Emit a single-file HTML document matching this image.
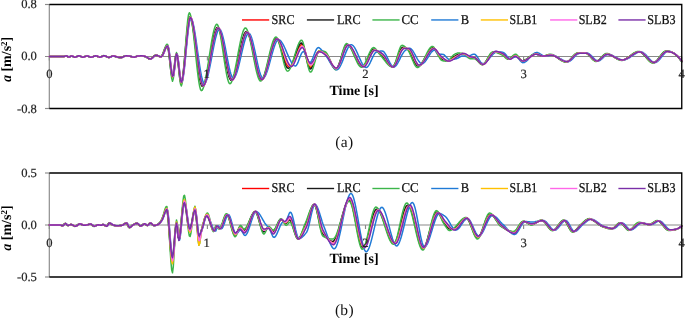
<!DOCTYPE html>
<html><head><meta charset="utf-8"><title>Acceleration time histories</title>
<style>
html,body{margin:0;padding:0;background:#fff;}
body{width:685px;height:318px;overflow:hidden;}
svg{display:block;font-family:"Liberation Serif",serif;text-rendering:geometricPrecision;}
.tick text{font-size:12.6px;fill:#222;stroke:#222;stroke-width:0.2px;}
.leg text{font-size:13.5px;fill:#111;stroke:#111;stroke-width:0.25px;}
.ttl{font-size:14px;font-weight:bold;fill:#000;}
.cap{font-size:15.5px;fill:#111;letter-spacing:0.3px;}
</style></head><body>
<svg width="685" height="318" viewBox="0 0 685 318">
<rect width="685" height="318" fill="#fff"/>
<g stroke="#8a8a8a" stroke-width="1.15" fill="none">
<line x1="49.3" y1="4.5" x2="49.3" y2="108.5"/>
<line x1="45" y1="56.5" x2="681.75" y2="56.5"/>
<line x1="45" y1="4.5" x2="49.3" y2="4.5"/>
<line x1="45" y1="108.5" x2="49.3" y2="108.5"/>
<line x1="49.3" y1="56.5" x2="49.3" y2="60.5"/>
<line x1="207.4" y1="56.5" x2="207.4" y2="60.5"/>
<line x1="365.5" y1="56.5" x2="365.5" y2="60.5"/>
<line x1="523.6" y1="56.5" x2="523.6" y2="60.5"/>
<line x1="681.7" y1="56.5" x2="681.7" y2="60.5"/>
</g>
<g fill="none" stroke-width="1.5" stroke-linejoin="round" stroke-linecap="round">
<polyline points="49.3,56.5 50.1,56.5 50.9,56.5 51.7,56.5 52.5,56.5 53.3,56.5 54.1,56.5 54.9,56.5 55.7,56.5 56.5,56.5 57.3,56.5 58.1,56.5 58.9,56.5 59.7,56.5 60.5,56.5 61.3,56.5 62.1,56.5 62.9,56.5 63.7,56.5 64.5,56.4 65.3,56.2 66.1,55.9 66.9,55.9 67.7,56.3 68.5,56.9 69.3,57.1 70.1,56.8 70.9,56.2 71.7,56.0 72.5,56.1 73.3,56.5 74.1,56.9 74.9,57.2 75.7,57.1 76.5,56.8 77.3,56.4 78.1,56.1 78.9,55.8 79.7,55.9 80.5,56.2 81.3,56.6 82.1,56.9 82.9,57.2 83.7,57.1 84.5,56.9 85.3,56.5 86.1,56.1 86.9,55.9 87.7,56.0 88.5,56.2 89.3,56.6 90.1,57.0 90.9,57.2 91.7,57.1 92.5,56.9 93.3,56.7 94.1,56.3 94.9,56.0 95.7,55.8 96.5,55.8 97.3,56.1 98.1,56.5 98.9,56.9 99.7,57.1 100.5,57.1 101.3,56.9 102.1,56.5 102.9,56.1 103.7,55.8 104.5,55.7 105.3,55.9 106.1,56.3 106.9,56.7 107.7,57.0 108.5,57.3 109.3,57.4 110.1,57.2 110.9,56.8 111.7,56.4 112.5,56.1 113.3,56.0 114.1,56.1 114.9,56.3 115.7,56.5 116.5,56.8 117.3,57.0 118.1,57.2 118.9,57.3 119.7,57.5 120.5,57.6 121.3,57.6 122.1,57.4 122.9,57.1 123.7,56.7 124.5,56.3 125.3,56.0 126.1,55.8 126.9,55.8 127.7,55.9 128.5,56.0 129.3,56.1 130.1,56.2 130.9,56.4 131.7,56.6 132.5,56.9 133.3,57.1 134.1,57.2 134.9,57.1 135.7,56.8 136.5,56.5 137.3,56.2 138.1,56.0 138.9,55.9 139.7,55.9 140.5,55.8 141.3,55.8 142.1,55.8 142.9,55.9 143.7,56.0 144.5,56.2 145.3,56.5 146.1,56.8 146.9,57.2 147.7,57.7 148.5,58.2 149.3,58.7 150.1,59.0 150.9,58.9 151.7,58.5 152.5,57.9 153.3,57.1 154.1,56.3 154.9,55.7 155.7,55.3 156.5,55.2 157.3,55.4 158.1,55.7 158.9,56.1 159.7,56.5 160.5,56.7 161.3,56.7 162.1,56.1 162.9,54.8 163.7,53.1 164.5,51.1 165.3,49.2 166.1,47.5 166.9,46.3 167.7,46.0 168.5,48.1 169.3,53.0 170.1,59.5 170.9,66.3 171.7,72.2 172.5,75.9 173.3,76.0 174.1,71.8 174.9,65.1 175.7,58.4 176.5,54.4 177.3,54.9 178.1,59.3 178.9,66.0 179.7,73.1 180.5,79.0 181.3,82.0 182.1,81.4 182.9,78.0 183.7,72.4 184.5,65.3 185.3,57.1 186.1,48.5 186.9,39.9 187.7,32.0 188.5,25.4 189.3,20.5 190.1,17.8 190.9,17.6 191.7,19.1 192.5,22.0 193.3,26.0 194.1,30.9 194.9,36.5 195.7,42.6 196.5,48.9 197.3,55.4 198.1,61.7 198.9,67.7 199.7,73.2 200.5,77.9 201.3,81.7 202.1,84.3 202.9,85.7 203.7,85.7 204.5,84.7 205.3,82.9 206.1,80.4 206.9,77.3 207.7,73.6 208.5,69.6 209.3,65.3 210.1,60.8 210.9,56.1 211.7,51.6 212.5,47.1 213.3,42.9 214.1,38.9 214.9,35.5 215.7,32.5 216.5,30.2 217.3,28.6 218.1,27.9 218.9,28.2 219.7,29.3 220.5,31.4 221.3,34.1 222.1,37.5 222.9,41.3 223.7,45.5 224.5,49.9 225.3,54.4 226.1,58.9 226.9,63.3 227.7,67.4 228.5,71.1 229.3,74.3 230.1,76.9 230.9,78.7 231.7,79.8 232.5,79.9 233.3,79.3 234.1,77.9 234.9,75.9 235.7,73.4 236.5,70.4 237.3,67.1 238.1,63.6 238.9,59.8 239.7,56.0 240.5,52.2 241.3,48.5 242.1,44.9 242.9,41.6 243.7,38.7 244.5,36.2 245.3,34.2 246.1,32.9 246.9,32.2 247.7,32.3 248.5,33.1 249.3,34.7 250.1,36.8 250.9,39.5 251.7,42.6 252.5,46.0 253.3,49.6 254.1,53.4 254.9,57.3 255.7,61.1 256.5,64.8 257.3,68.3 258.1,71.4 258.9,74.2 259.7,76.5 260.5,78.2 261.3,79.2 262.1,79.5 262.9,79.1 263.7,78.0 264.5,76.5 265.3,74.5 266.1,72.1 266.9,69.4 267.7,66.4 268.5,63.3 269.3,60.1 270.1,56.9 270.9,53.6 271.7,50.5 272.5,47.5 273.3,44.9 274.1,42.6 274.9,40.7 275.7,39.4 276.5,38.7 277.3,38.7 278.1,39.3 278.9,40.5 279.7,42.2 280.5,44.3 281.3,46.7 282.1,49.4 282.9,52.2 283.7,55.1 284.5,57.9 285.3,60.5 286.1,62.7 286.9,64.5 287.7,65.8 288.5,66.6 289.3,67.0 290.1,67.1 290.9,66.7 291.7,65.9 292.5,64.7 293.3,63.1 294.1,61.2 294.9,59.1 295.7,56.9 296.5,54.6 297.3,52.4 298.1,50.3 298.9,48.4 299.7,46.8 300.5,45.5 301.3,44.7 302.1,44.4 302.9,45.1 303.7,46.6 304.5,48.9 305.3,51.6 306.1,54.7 306.9,57.9 307.7,60.9 308.5,63.6 309.3,65.7 310.1,67.0 310.9,67.3 311.7,66.8 312.5,65.7 313.3,64.0 314.1,62.1 314.9,59.9 315.7,57.7 316.5,55.6 317.3,53.8 318.1,52.4 318.9,51.5 319.7,51.3 320.5,51.4 321.3,51.6 322.1,51.9 322.9,52.2 323.7,52.6 324.5,53.1 325.3,53.5 326.1,54.2 326.9,55.0 327.7,56.1 328.5,57.5 329.3,58.9 330.1,60.4 330.9,62.0 331.7,63.5 332.5,64.9 333.3,66.1 334.1,67.2 334.9,68.0 335.7,68.5 336.5,68.6 337.3,68.2 338.1,67.1 338.9,65.6 339.7,63.7 340.5,61.5 341.3,59.1 342.1,56.6 342.9,54.1 343.7,51.7 344.5,49.6 345.3,47.7 346.1,46.3 346.9,45.4 347.7,44.9 348.5,44.9 349.3,45.3 350.1,46.1 350.9,47.0 351.7,48.2 352.5,49.6 353.3,51.1 354.1,52.8 354.9,54.5 355.7,56.2 356.5,57.9 357.3,59.6 358.1,61.1 358.9,62.6 359.7,63.9 360.5,64.9 361.3,65.8 362.1,66.3 362.9,66.5 363.7,66.4 364.5,65.9 365.3,65.0 366.1,63.8 366.9,62.4 367.7,60.7 368.5,59.0 369.3,57.2 370.1,55.4 370.9,53.8 371.7,52.3 372.5,51.1 373.3,50.2 374.1,49.7 374.9,49.6 375.7,49.9 376.5,50.3 377.3,50.8 378.1,51.4 378.9,52.1 379.7,52.7 380.5,53.3 381.3,53.9 382.1,54.6 382.9,55.4 383.7,56.3 384.5,57.3 385.3,58.4 386.1,59.6 386.9,60.9 387.7,62.1 388.5,63.2 389.3,64.3 390.1,65.2 390.9,66.0 391.7,66.5 392.5,66.9 393.3,66.9 394.1,66.3 394.9,65.2 395.7,63.7 396.5,61.8 397.3,59.7 398.1,57.5 398.9,55.4 399.7,53.3 400.5,51.4 401.3,49.8 402.1,48.7 402.9,48.0 403.7,47.7 404.5,47.8 405.3,48.0 406.1,48.2 406.9,48.4 407.7,48.7 408.5,49.1 409.3,49.8 410.1,50.8 410.9,52.1 411.7,53.7 412.5,55.4 413.3,57.3 414.1,59.1 414.9,60.8 415.7,62.4 416.5,63.8 417.3,64.8 418.1,65.5 418.9,65.8 419.7,65.6 420.5,65.1 421.3,64.4 422.1,63.5 422.9,62.5 423.7,61.2 424.5,59.9 425.3,58.5 426.1,57.1 426.9,55.7 427.7,54.2 428.5,52.9 429.3,51.7 430.1,50.5 430.9,49.6 431.7,48.8 432.5,48.3 433.3,48.1 434.1,48.3 434.9,48.8 435.7,49.7 436.5,50.8 437.3,52.0 438.1,53.3 438.9,54.5 439.7,55.7 440.5,56.7 441.3,57.6 442.1,58.2 442.9,58.7 443.7,59.2 444.5,59.7 445.3,60.1 446.1,60.5 446.9,60.8 447.7,60.9 448.5,60.9 449.3,60.7 450.1,60.3 450.9,59.8 451.7,59.3 452.5,58.7 453.3,58.1 454.1,57.5 454.9,57.0 455.7,56.5 456.5,56.0 457.3,55.5 458.1,55.0 458.9,54.7 459.7,54.4 460.5,54.1 461.3,53.9 462.1,53.7 462.9,53.6 463.7,53.7 464.5,53.8 465.3,54.2 466.1,54.6 466.9,55.2 467.7,55.8 468.5,56.4 469.3,56.9 470.1,57.2 470.9,57.4 471.7,57.5 472.5,57.6 473.3,57.7 474.1,57.8 474.9,58.0 475.7,58.4 476.5,59.0 477.3,59.8 478.1,60.7 478.9,61.5 479.7,62.4 480.5,63.2 481.3,63.8 482.1,64.3 482.9,64.4 483.7,64.3 484.5,63.8 485.3,63.1 486.1,62.2 486.9,61.1 487.7,59.9 488.5,58.6 489.3,57.3 490.1,56.1 490.9,54.9 491.7,53.9 492.5,53.1 493.3,52.5 494.1,52.0 494.9,51.7 495.7,51.7 496.5,51.7 497.3,51.9 498.1,52.1 498.9,52.4 499.7,52.7 500.5,53.1 501.3,53.4 502.1,53.8 502.9,54.2 503.7,54.7 504.5,55.3 505.3,56.1 506.1,56.9 506.9,57.6 507.7,58.3 508.5,58.8 509.3,59.0 510.1,59.0 510.9,58.6 511.7,58.1 512.5,57.4 513.3,56.7 514.1,56.1 514.9,55.8 515.7,55.7 516.5,55.9 517.3,56.5 518.1,57.2 518.9,58.0 519.7,58.8 520.5,59.6 521.3,60.3 522.1,60.7 522.9,60.9 523.7,60.8 524.5,60.6 525.3,60.3 526.1,59.9 526.9,59.4 527.7,58.8 528.5,58.2 529.3,57.6 530.1,57.0 530.9,56.4 531.7,55.8 532.5,55.3 533.3,54.8 534.1,54.5 534.9,54.2 535.7,54.1 536.5,54.1 537.3,54.2 538.1,54.5 538.9,54.8 539.7,55.1 540.5,55.4 541.3,55.7 542.1,55.9 542.9,56.0 543.7,56.0 544.5,56.0 545.3,55.8 546.1,55.7 546.9,55.5 547.7,55.3 548.5,55.1 549.3,55.0 550.1,54.9 550.9,54.9 551.7,54.9 552.5,55.1 553.3,55.3 554.1,55.6 554.9,56.0 555.7,56.4 556.5,56.9 557.3,57.4 558.1,57.9 558.9,58.4 559.7,58.9 560.5,59.4 561.3,59.9 562.1,60.4 562.9,60.8 563.7,61.1 564.5,61.4 565.3,61.6 566.1,61.7 566.9,61.8 567.7,61.6 568.5,61.3 569.3,60.7 570.1,60.1 570.9,59.3 571.7,58.5 572.5,57.6 573.3,56.7 574.1,55.8 574.9,55.1 575.7,54.4 576.5,53.9 577.3,53.5 578.1,53.3 578.9,53.2 579.7,53.2 580.5,53.2 581.3,53.1 582.1,53.1 582.9,53.1 583.7,53.1 584.5,53.1 585.3,53.1 586.1,53.1 586.9,53.3 587.7,53.7 588.5,54.3 589.3,55.0 590.1,55.8 590.9,56.6 591.7,57.5 592.5,58.3 593.3,59.1 594.1,59.8 594.9,60.4 595.7,60.8 596.5,61.0 597.3,61.0 598.1,60.7 598.9,60.3 599.7,59.7 600.5,59.0 601.3,58.2 602.1,57.4 602.9,56.6 603.7,55.8 604.5,55.2 605.3,54.6 606.1,54.3 606.9,54.1 607.7,54.1 608.5,54.3 609.3,54.5 610.1,54.7 610.9,55.1 611.7,55.5 612.5,55.9 613.3,56.3 614.1,56.8 614.9,57.3 615.7,57.7 616.5,58.2 617.3,58.6 618.1,59.0 618.9,59.3 619.7,59.6 620.5,59.9 621.3,60.0 622.1,60.1 622.9,60.0 623.7,59.9 624.5,59.7 625.3,59.3 626.1,59.0 626.9,58.5 627.7,58.1 628.5,57.5 629.3,57.0 630.1,56.4 630.9,55.9 631.7,55.3 632.5,54.7 633.3,54.2 634.1,53.7 634.9,53.2 635.7,52.8 636.5,52.4 637.3,52.1 638.1,51.9 638.9,51.8 639.7,51.8 640.5,51.9 641.3,52.2 642.1,52.7 642.9,53.3 643.7,54.0 644.5,54.8 645.3,55.6 646.1,56.5 646.9,57.4 647.7,58.3 648.5,59.2 649.3,60.0 650.1,60.8 650.9,61.4 651.7,62.0 652.5,62.3 653.3,62.6 654.1,62.6 654.9,62.4 655.7,62.0 656.5,61.4 657.3,60.6 658.1,59.7 658.9,58.8 659.7,57.8 660.5,56.7 661.3,55.7 662.1,54.7 662.9,53.8 663.7,53.0 664.5,52.3 665.3,51.8 666.1,51.5 666.9,51.3 667.7,51.3 668.5,51.4 669.3,51.5 670.1,51.7 670.9,51.9 671.7,52.2 672.5,52.5 673.3,52.9 674.1,53.4 674.9,53.9 675.7,54.5 676.5,55.1 677.3,55.8 678.1,56.6 678.9,57.5 679.7,58.4 680.5,59.4 681.8,61.2" stroke="#ff0000"/>
<polyline points="49.3,56.5 50.1,56.5 50.9,56.5 51.7,56.5 52.5,56.5 53.3,56.5 54.1,56.5 54.9,56.5 55.7,56.5 56.5,56.5 57.3,56.5 58.1,56.5 58.9,56.5 59.7,56.5 60.5,56.5 61.3,56.5 62.1,56.5 62.9,56.5 63.7,56.5 64.5,56.3 65.3,56.0 66.1,55.9 66.9,56.2 67.7,56.8 68.5,57.1 69.3,56.9 70.1,56.4 70.9,56.0 71.7,56.0 72.5,56.4 73.3,56.8 74.1,57.1 74.9,57.2 75.7,56.9 76.5,56.6 77.3,56.2 78.1,55.9 78.9,55.8 79.7,56.1 80.5,56.4 81.3,56.8 82.1,57.1 82.9,57.2 83.7,57.0 84.5,56.6 85.3,56.2 86.1,56.0 86.9,55.9 87.7,56.1 88.5,56.5 89.3,56.9 90.1,57.1 90.9,57.2 91.7,57.0 92.5,56.8 93.3,56.4 94.1,56.1 94.9,55.9 95.7,55.8 96.5,56.0 97.3,56.3 98.1,56.8 98.9,57.1 99.7,57.2 100.5,57.0 101.3,56.6 102.1,56.2 102.9,55.8 103.7,55.7 104.5,55.8 105.3,56.2 106.1,56.5 106.9,56.9 107.7,57.3 108.5,57.4 109.3,57.3 110.1,57.0 110.9,56.6 111.7,56.2 112.5,56.0 113.3,56.0 114.1,56.2 114.9,56.4 115.7,56.7 116.5,56.9 117.3,57.2 118.1,57.3 118.9,57.5 119.7,57.6 120.5,57.6 121.3,57.5 122.1,57.2 122.9,56.8 123.7,56.4 124.5,56.0 125.3,55.8 126.1,55.8 126.9,55.8 127.7,55.9 128.5,56.0 129.3,56.1 130.1,56.3 130.9,56.5 131.7,56.8 132.5,57.1 133.3,57.2 134.1,57.2 134.9,56.9 135.7,56.6 136.5,56.3 137.3,56.0 138.1,55.9 138.9,55.9 139.7,55.8 140.5,55.8 141.3,55.8 142.1,55.8 142.9,55.9 143.7,56.2 144.5,56.4 145.3,56.7 146.1,57.1 146.9,57.5 147.7,58.1 148.5,58.6 149.3,59.0 150.1,59.0 150.9,58.7 151.7,58.1 152.5,57.4 153.3,56.6 154.1,55.9 154.9,55.4 155.7,55.2 156.5,55.3 157.3,55.6 158.1,56.0 158.9,56.4 159.7,56.6 160.5,56.7 161.3,56.3 162.1,55.2 162.9,53.5 163.7,51.6 164.5,49.5 165.3,47.7 166.1,46.3 166.9,45.7 167.7,46.9 168.5,51.1 169.3,57.4 170.1,64.5 170.9,71.1 171.7,75.8 172.5,77.2 173.3,74.3 174.1,67.9 174.9,60.7 175.7,55.4 176.5,54.1 177.3,57.4 178.1,63.6 178.9,71.0 179.7,77.7 180.5,82.0 181.3,82.7 182.1,79.9 182.9,74.7 183.7,67.5 184.5,59.2 185.3,50.2 186.1,41.2 186.9,32.8 187.7,25.6 188.5,20.3 189.3,17.4 190.1,16.9 190.9,18.3 191.7,21.2 192.5,25.3 193.3,30.4 194.1,36.2 194.9,42.5 195.7,49.1 196.5,55.7 197.3,62.3 198.1,68.4 198.9,74.0 199.7,78.8 200.5,82.5 201.3,85.0 202.1,86.3 202.9,86.3 203.7,85.3 204.5,83.4 205.3,80.8 206.1,77.5 206.9,73.8 207.7,69.7 208.5,65.2 209.3,60.6 210.1,55.9 210.9,51.3 211.7,46.7 212.5,42.4 213.3,38.4 214.1,34.9 214.9,31.9 215.7,29.6 216.5,28.1 217.3,27.4 218.1,27.7 218.9,29.0 219.7,31.1 220.5,34.0 221.3,37.5 222.1,41.5 222.9,45.9 223.7,50.5 224.5,55.1 225.3,59.8 226.1,64.2 226.9,68.4 227.7,72.1 228.5,75.2 229.3,77.7 230.1,79.3 230.9,80.2 231.7,80.2 232.5,79.4 233.3,77.8 234.1,75.7 234.9,73.1 235.7,70.0 236.5,66.6 237.3,63.0 238.1,59.2 238.9,55.3 239.7,51.4 240.5,47.6 241.3,44.1 242.1,40.8 242.9,37.8 243.7,35.4 244.5,33.4 245.3,32.2 246.1,31.6 246.9,31.7 247.7,32.6 248.5,34.2 249.3,36.4 250.1,39.1 250.9,42.2 251.7,45.7 252.5,49.4 253.3,53.2 254.1,57.1 254.9,61.0 255.7,64.7 256.5,68.3 257.3,71.5 258.1,74.3 258.9,76.6 259.7,78.3 260.5,79.3 261.3,79.7 262.1,79.3 262.9,78.3 263.7,76.8 264.5,74.8 265.3,72.4 266.1,69.6 266.9,66.7 267.7,63.6 268.5,60.3 269.3,57.1 270.1,53.8 270.9,50.6 271.7,47.6 272.5,44.9 273.3,42.6 274.1,40.6 274.9,39.2 275.7,38.4 276.5,38.3 277.3,39.0 278.1,40.3 278.9,42.1 279.7,44.4 280.5,47.0 281.3,49.9 282.1,53.0 282.9,56.1 283.7,59.1 284.5,61.9 285.3,64.3 286.1,66.1 286.9,67.4 287.7,68.1 288.5,68.2 289.3,67.9 290.1,67.2 290.9,66.2 291.7,64.7 292.5,62.9 293.3,60.9 294.1,58.6 294.9,56.3 295.7,53.9 296.5,51.6 297.3,49.4 298.1,47.4 298.9,45.6 299.7,44.3 300.5,43.3 301.3,43.0 302.1,43.4 302.9,44.9 303.7,47.2 304.5,50.2 305.3,53.6 306.1,57.2 306.9,60.7 307.7,63.8 308.5,66.4 309.3,68.2 310.1,69.0 310.9,68.8 311.7,67.7 312.5,66.1 313.3,64.1 314.1,61.8 314.9,59.3 315.7,56.9 316.5,54.8 317.3,53.0 318.1,51.7 318.9,51.2 319.7,51.1 320.5,51.3 321.3,51.5 322.1,51.8 322.9,52.1 323.7,52.5 324.5,52.9 325.3,53.4 326.1,54.2 326.9,55.2 327.7,56.6 328.5,58.0 329.3,59.6 330.1,61.3 330.9,62.9 331.7,64.4 332.5,65.8 333.3,67.0 334.1,68.0 334.9,68.6 335.7,68.9 336.5,68.6 337.3,67.7 338.1,66.3 338.9,64.4 339.7,62.1 340.5,59.7 341.3,57.1 342.1,54.5 342.9,52.0 343.7,49.7 344.5,47.8 345.3,46.2 346.1,45.2 346.9,44.7 347.7,44.7 348.5,45.1 349.3,45.8 350.1,46.8 350.9,48.0 351.7,49.5 352.5,51.0 353.3,52.7 354.1,54.4 354.9,56.1 355.7,57.9 356.5,59.6 357.3,61.2 358.1,62.6 358.9,63.9 359.7,65.0 360.5,65.8 361.3,66.4 362.1,66.6 362.9,66.4 363.7,65.9 364.5,65.0 365.3,63.8 366.1,62.3 366.9,60.6 367.7,58.9 368.5,57.1 369.3,55.3 370.1,53.6 370.9,52.1 371.7,50.8 372.5,49.9 373.3,49.3 374.1,49.2 374.9,49.5 375.7,49.9 376.5,50.6 377.3,51.3 378.1,52.0 378.9,52.8 379.7,53.4 380.5,54.1 381.3,54.9 382.1,55.6 382.9,56.5 383.7,57.5 384.5,58.6 385.3,59.8 386.1,60.9 386.9,62.1 387.7,63.2 388.5,64.2 389.3,65.1 390.1,65.9 390.9,66.4 391.7,66.8 392.5,66.9 393.3,66.5 394.1,65.4 394.9,63.9 395.7,62.0 396.5,59.9 397.3,57.6 398.1,55.3 398.9,53.1 399.7,51.1 400.5,49.5 401.3,48.3 402.1,47.6 402.9,47.3 403.7,47.3 404.5,47.6 405.3,47.9 406.1,48.3 406.9,48.7 407.7,49.2 408.5,49.9 409.3,51.0 410.1,52.3 410.9,53.9 411.7,55.7 412.5,57.5 413.3,59.4 414.1,61.1 414.9,62.7 415.7,64.1 416.5,65.1 417.3,65.8 418.1,66.1 418.9,65.9 419.7,65.5 420.5,64.8 421.3,63.8 422.1,62.7 422.9,61.5 423.7,60.1 424.5,58.7 425.3,57.2 426.1,55.7 426.9,54.3 427.7,52.9 428.5,51.6 429.3,50.4 430.1,49.4 430.9,48.6 431.7,48.0 432.5,47.8 433.3,47.9 434.1,48.5 434.9,49.4 435.7,50.6 436.5,51.9 437.3,53.2 438.1,54.4 438.9,55.7 439.7,56.8 440.5,57.8 441.3,58.5 442.1,59.0 442.9,59.5 443.7,59.9 444.5,60.2 445.3,60.5 446.1,60.8 446.9,61.0 447.7,60.9 448.5,60.6 449.3,60.2 450.1,59.7 450.9,59.0 451.7,58.4 452.5,57.7 453.3,57.1 454.1,56.6 454.9,56.1 455.7,55.6 456.5,55.1 457.3,54.7 458.1,54.4 458.9,54.1 459.7,53.9 460.5,53.8 461.3,53.7 462.1,53.6 462.9,53.7 463.7,53.8 464.5,54.2 465.3,54.7 466.1,55.2 466.9,55.9 467.7,56.5 468.5,57.0 469.3,57.4 470.1,57.7 470.9,57.8 471.7,57.8 472.5,57.9 473.3,58.0 474.1,58.1 474.9,58.4 475.7,58.9 476.5,59.6 477.3,60.4 478.1,61.3 478.9,62.2 479.7,63.0 480.5,63.7 481.3,64.2 482.1,64.5 482.9,64.4 483.7,64.0 484.5,63.3 485.3,62.4 486.1,61.3 486.9,60.0 487.7,58.7 488.5,57.4 489.3,56.1 490.1,55.0 490.9,53.9 491.7,53.1 492.5,52.5 493.3,52.1 494.1,51.9 494.9,51.8 495.7,51.9 496.5,52.0 497.3,52.3 498.1,52.5 498.9,52.9 499.7,53.2 500.5,53.6 501.3,54.0 502.1,54.3 502.9,54.8 503.7,55.4 504.5,56.1 505.3,56.9 506.1,57.6 506.9,58.3 507.7,58.8 508.5,59.0 509.3,59.0 510.1,58.7 510.9,58.1 511.7,57.4 512.5,56.7 513.3,56.0 514.1,55.6 514.9,55.4 515.7,55.5 516.5,55.9 517.3,56.6 518.1,57.4 518.9,58.3 519.7,59.2 520.5,60.0 521.3,60.5 522.1,60.8 522.9,60.8 523.7,60.6 524.5,60.3 525.3,59.9 526.1,59.5 526.9,58.9 527.7,58.4 528.5,57.7 529.3,57.1 530.1,56.5 530.9,55.9 531.7,55.4 532.5,54.9 533.3,54.5 534.1,54.2 534.9,54.1 535.7,54.0 536.5,54.1 537.3,54.4 538.1,54.7 538.9,55.0 539.7,55.3 540.5,55.6 541.3,55.9 542.1,56.0 542.9,56.0 543.7,56.0 544.5,55.8 545.3,55.7 546.1,55.5 546.9,55.2 547.7,55.0 548.5,54.9 549.3,54.8 550.1,54.7 550.9,54.8 551.7,54.9 552.5,55.1 553.3,55.4 554.1,55.8 554.9,56.2 555.7,56.7 556.5,57.2 557.3,57.7 558.1,58.3 558.9,58.8 559.7,59.3 560.5,59.8 561.3,60.3 562.1,60.7 562.9,61.1 563.7,61.4 564.5,61.7 565.3,61.8 566.1,61.9 566.9,61.7 567.7,61.4 568.5,60.9 569.3,60.3 570.1,59.5 570.9,58.7 571.7,57.8 572.5,56.9 573.3,56.0 574.1,55.2 574.9,54.5 575.7,53.9 576.5,53.5 577.3,53.3 578.1,53.2 578.9,53.1 579.7,53.1 580.5,53.1 581.3,53.1 582.1,53.0 582.9,53.0 583.7,53.0 584.5,53.0 585.3,53.1 586.1,53.2 586.9,53.6 587.7,54.1 588.5,54.8 589.3,55.6 590.1,56.5 590.9,57.3 591.7,58.2 592.5,59.0 593.3,59.7 594.1,60.4 594.9,60.8 595.7,61.0 596.5,61.1 597.3,60.9 598.1,60.4 598.9,59.9 599.7,59.2 600.5,58.4 601.3,57.6 602.1,56.7 602.9,55.9 603.7,55.2 604.5,54.7 605.3,54.2 606.1,54.0 606.9,54.0 607.7,54.1 608.5,54.3 609.3,54.5 610.1,54.9 610.9,55.3 611.7,55.7 612.5,56.2 613.3,56.6 614.1,57.1 614.9,57.6 615.7,58.1 616.5,58.5 617.3,58.9 618.1,59.3 618.9,59.6 619.7,59.9 620.5,60.0 621.3,60.1 622.1,60.1 622.9,60.0 623.7,59.8 624.5,59.5 625.3,59.1 626.1,58.7 626.9,58.2 627.7,57.7 628.5,57.1 629.3,56.6 630.1,56.0 630.9,55.4 631.7,54.8 632.5,54.2 633.3,53.7 634.1,53.2 634.9,52.8 635.7,52.4 636.5,52.1 637.3,51.8 638.1,51.7 638.9,51.7 639.7,51.8 640.5,52.1 641.3,52.5 642.1,53.1 642.9,53.8 643.7,54.6 644.5,55.5 645.3,56.4 646.1,57.3 646.9,58.2 647.7,59.1 648.5,59.9 649.3,60.7 650.1,61.4 650.9,62.0 651.7,62.4 652.5,62.6 653.3,62.7 654.1,62.5 654.9,62.1 655.7,61.6 656.5,60.8 657.3,60.0 658.1,59.0 658.9,58.0 659.7,56.9 660.5,55.9 661.3,54.9 662.1,53.9 662.9,53.1 663.7,52.3 664.5,51.8 665.3,51.4 666.1,51.3 666.9,51.2 667.7,51.3 668.5,51.4 669.3,51.6 670.1,51.8 670.9,52.0 671.7,52.3 672.5,52.7 673.3,53.2 674.1,53.7 674.9,54.2 675.7,54.9 676.5,55.6 677.3,56.3 678.1,57.2 678.9,58.1 679.7,59.1 680.5,60.2 681.8,61.6" stroke="#1a1a1a"/>
<polyline points="49.3,56.5 50.1,56.5 50.9,56.5 51.7,56.5 52.5,56.5 53.3,56.5 54.1,56.5 54.9,56.5 55.7,56.5 56.5,56.5 57.3,56.5 58.1,56.5 58.9,56.5 59.7,56.5 60.5,56.5 61.3,56.5 62.1,56.5 62.9,56.5 63.7,56.5 64.5,56.3 65.3,55.9 66.1,55.7 66.9,56.0 67.7,56.7 68.5,57.3 69.3,57.1 70.1,56.4 70.9,55.9 71.7,55.9 72.5,56.3 73.3,56.8 74.1,57.2 74.9,57.3 75.7,57.0 76.5,56.6 77.3,56.2 78.1,55.8 78.9,55.7 79.7,56.0 80.5,56.4 81.3,56.8 82.1,57.2 82.9,57.3 83.7,57.1 84.5,56.7 85.3,56.2 86.1,55.9 86.9,55.8 87.7,56.1 88.5,56.4 89.3,56.9 90.1,57.2 90.9,57.3 91.7,57.1 92.5,56.8 93.3,56.5 94.1,56.1 94.9,55.8 95.7,55.7 96.5,55.9 97.3,56.3 98.1,56.7 98.9,57.1 99.7,57.3 100.5,57.1 101.3,56.7 102.1,56.2 102.9,55.8 103.7,55.6 104.5,55.7 105.3,56.1 106.1,56.5 106.9,56.9 107.7,57.3 108.5,57.5 109.3,57.4 110.1,57.1 110.9,56.6 111.7,56.2 112.5,56.0 113.3,56.0 114.1,56.1 114.9,56.4 115.7,56.7 116.5,57.0 117.3,57.2 118.1,57.4 118.9,57.5 119.7,57.7 120.5,57.7 121.3,57.7 122.1,57.3 122.9,56.9 123.7,56.4 124.5,56.0 125.3,55.8 126.1,55.7 126.9,55.8 127.7,55.9 128.5,56.0 129.3,56.1 130.1,56.2 130.9,56.5 131.7,56.8 132.5,57.1 133.3,57.3 134.1,57.2 134.9,57.0 135.7,56.7 136.5,56.3 137.3,56.0 138.1,55.9 138.9,55.8 139.7,55.8 140.5,55.7 141.3,55.7 142.1,55.7 142.9,55.9 143.7,56.1 144.5,56.4 145.3,56.7 146.1,57.0 146.9,57.5 147.7,58.2 148.5,58.7 149.3,59.2 150.1,59.3 150.9,59.0 151.7,58.4 152.5,57.6 153.3,56.7 154.1,55.9 154.9,55.3 155.7,55.0 156.5,55.2 157.3,55.5 158.1,55.9 158.9,56.3 159.7,56.6 160.5,56.8 161.3,56.5 162.1,55.4 162.9,53.5 163.7,51.3 164.5,49.0 165.3,46.9 166.1,45.2 166.9,44.2 167.7,44.7 168.5,48.9 169.3,56.0 170.1,64.2 170.9,72.2 171.7,78.4 172.5,81.2 173.3,78.8 174.1,71.8 174.9,63.1 175.7,55.7 176.5,52.6 177.3,55.2 178.1,61.6 178.9,69.8 179.7,78.0 180.5,84.0 181.3,86.0 182.1,83.5 182.9,77.7 183.7,69.4 184.5,59.5 185.3,48.7 186.1,38.0 186.9,28.3 187.7,20.2 188.5,14.8 189.3,12.8 190.1,13.8 190.9,16.5 191.7,20.8 192.5,26.3 193.3,32.7 194.1,39.9 194.9,47.4 195.7,55.1 196.5,62.7 197.3,69.9 198.1,76.5 198.9,82.1 199.7,86.5 200.5,89.5 201.3,90.7 202.1,90.3 202.9,88.9 203.7,86.7 204.5,83.7 205.3,80.1 206.1,75.9 206.9,71.3 207.7,66.4 208.5,61.3 209.3,56.2 210.1,51.0 210.9,46.0 211.7,41.2 212.5,36.9 213.3,32.9 214.1,29.6 214.9,27.0 215.7,25.2 216.5,24.3 217.3,24.5 218.1,25.8 218.9,28.3 219.7,31.7 220.5,35.8 221.3,40.5 222.1,45.6 222.9,50.9 223.7,56.4 224.5,61.8 225.3,66.9 226.1,71.7 226.9,75.9 227.7,79.3 228.5,81.9 229.3,83.4 230.1,83.8 230.9,83.1 231.7,81.7 232.5,79.6 233.3,76.9 234.1,73.7 234.9,70.1 235.7,66.2 236.5,62.1 237.3,57.8 238.1,53.5 238.9,49.2 239.7,45.1 240.5,41.2 241.3,37.6 242.1,34.5 242.9,31.9 243.7,29.9 244.5,28.5 245.3,28.0 246.1,28.3 246.9,29.4 247.7,31.3 248.5,33.7 249.3,36.7 250.1,40.1 250.9,43.8 251.7,47.8 252.5,51.9 253.3,56.1 254.1,60.2 254.9,64.2 255.7,68.0 256.5,71.5 257.3,74.6 258.1,77.2 258.9,79.2 259.7,80.5 260.5,81.0 261.3,80.7 262.1,79.8 262.9,78.3 263.7,76.4 264.5,74.0 265.3,71.2 266.1,68.2 266.9,64.9 267.7,61.6 268.5,58.1 269.3,54.7 270.1,51.4 270.9,48.3 271.7,45.4 272.5,42.8 273.3,40.6 274.1,38.8 274.9,37.6 275.7,37.0 276.5,37.2 277.3,38.2 278.1,40.0 278.9,42.3 279.7,45.2 280.5,48.4 281.3,51.9 282.1,55.4 282.9,58.9 283.7,62.2 284.5,65.2 285.3,67.7 286.1,69.6 286.9,70.8 287.7,71.2 288.5,70.8 289.3,69.9 290.1,68.6 290.9,66.8 291.7,64.8 292.5,62.5 293.3,60.0 294.1,57.4 294.9,54.7 295.7,52.1 296.5,49.5 297.3,47.2 298.1,45.0 298.9,43.2 299.7,41.8 300.5,40.7 301.3,40.2 302.1,40.5 302.9,42.0 303.7,44.7 304.5,48.2 305.3,52.2 306.1,56.5 306.9,60.7 307.7,64.7 308.5,68.1 309.3,70.6 310.1,72.0 310.9,72.1 311.7,71.2 312.5,69.5 313.3,67.3 314.1,64.6 314.9,61.8 315.7,59.0 316.5,56.3 317.3,53.9 318.1,52.1 318.9,51.0 319.7,50.7 320.5,50.7 321.3,50.8 322.1,50.9 322.9,51.1 323.7,51.3 324.5,51.5 325.3,51.7 326.1,52.4 326.9,53.4 327.7,54.8 328.5,56.4 329.3,58.2 330.1,60.1 330.9,62.0 331.7,63.9 332.5,65.7 333.3,67.2 334.1,68.4 334.9,69.3 335.7,69.8 336.5,69.6 337.3,68.7 338.1,67.1 338.9,65.0 339.7,62.5 340.5,59.6 341.3,56.7 342.1,53.8 342.9,50.9 343.7,48.4 344.5,46.3 345.3,44.7 346.1,43.8 346.9,43.6 347.7,44.0 348.5,44.7 349.3,45.6 350.1,46.9 350.9,48.4 351.7,50.0 352.5,51.8 353.3,53.6 354.1,55.5 354.9,57.4 355.7,59.3 356.5,61.0 357.3,62.6 358.1,64.1 358.9,65.3 359.7,66.2 360.5,66.9 361.3,67.2 362.1,67.1 362.9,66.5 363.7,65.5 364.5,64.2 365.3,62.6 366.1,60.9 366.9,59.0 367.7,57.0 368.5,55.1 369.3,53.3 370.1,51.6 370.9,50.1 371.7,48.9 372.5,48.1 373.3,47.6 374.1,47.7 374.9,48.2 375.7,49.0 376.5,50.0 377.3,51.2 378.1,52.3 378.9,53.4 379.7,54.3 380.5,55.2 381.3,56.2 382.1,57.2 382.9,58.2 383.7,59.3 384.5,60.3 385.3,61.4 386.1,62.4 386.9,63.3 387.7,64.2 388.5,65.0 389.3,65.7 390.1,66.2 390.9,66.6 391.7,66.9 392.5,67.0 393.3,66.6 394.1,65.4 394.9,63.6 395.7,61.4 396.5,58.8 397.3,56.2 398.1,53.5 398.9,50.9 399.7,48.7 400.5,46.9 401.3,45.7 402.1,45.3 402.9,45.4 403.7,45.8 404.5,46.4 405.3,47.1 406.1,47.8 406.9,48.6 407.7,49.5 408.5,50.8 409.3,52.3 410.1,54.1 410.9,56.0 411.7,58.0 412.5,60.0 413.3,61.8 414.1,63.6 414.9,65.1 415.7,66.3 416.5,67.1 417.3,67.5 418.1,67.4 418.9,67.0 419.7,66.3 420.5,65.3 421.3,64.2 422.1,62.8 422.9,61.3 423.7,59.7 424.5,58.1 425.3,56.4 426.1,54.8 426.9,53.1 427.7,51.6 428.5,50.2 429.3,49.0 430.1,47.9 430.9,47.1 431.7,46.6 432.5,46.4 433.3,46.7 434.1,47.6 434.9,49.0 435.7,50.7 436.5,52.4 437.3,54.0 438.1,55.3 438.9,56.7 439.7,58.0 440.5,59.3 441.3,60.2 442.1,60.6 442.9,60.8 443.7,60.9 444.5,61.1 445.3,61.1 446.1,61.2 446.9,61.2 447.7,61.0 448.5,60.5 449.3,59.8 450.1,58.9 450.9,57.9 451.7,56.9 452.5,56.0 453.3,55.2 454.1,54.6 454.9,54.1 455.7,53.7 456.5,53.4 457.3,53.1 458.1,53.0 458.9,53.0 459.7,53.1 460.5,53.2 461.3,53.3 462.1,53.5 462.9,53.7 463.7,54.0 464.5,54.4 465.3,55.1 466.1,55.8 466.9,56.6 467.7,57.3 468.5,57.9 469.3,58.4 470.1,58.7 470.9,58.7 471.7,58.7 472.5,58.7 473.3,58.7 474.1,58.7 474.9,58.8 475.7,59.2 476.5,59.8 477.3,60.6 478.1,61.4 478.9,62.3 479.7,63.1 480.5,63.9 481.3,64.4 482.1,64.7 482.9,64.6 483.7,64.2 484.5,63.3 485.3,62.3 486.1,61.0 486.9,59.6 487.7,58.1 488.5,56.7 489.3,55.3 490.1,54.0 490.9,53.0 491.7,52.3 492.5,51.9 493.3,51.9 494.1,52.0 494.9,52.1 495.7,52.3 496.5,52.6 497.3,52.9 498.1,53.2 498.9,53.6 499.7,53.9 500.5,54.3 501.3,54.7 502.1,55.1 502.9,55.5 503.7,56.1 504.5,56.8 505.3,57.6 506.1,58.3 506.9,58.9 507.7,59.2 508.5,59.3 509.3,59.0 510.1,58.5 510.9,57.8 511.7,57.0 512.5,56.1 513.3,55.4 514.1,54.7 514.9,54.3 515.7,54.2 516.5,54.5 517.3,55.2 518.1,56.2 518.9,57.4 519.7,58.5 520.5,59.5 521.3,60.3 522.1,60.7 522.9,60.7 523.7,60.5 524.5,60.2 525.3,59.8 526.1,59.3 526.9,58.8 527.7,58.2 528.5,57.6 529.3,56.9 530.1,56.3 530.9,55.7 531.7,55.2 532.5,54.7 533.3,54.3 534.1,54.0 534.9,53.8 535.7,53.8 536.5,53.9 537.3,54.2 538.1,54.5 538.9,54.9 539.7,55.3 540.5,55.6 541.3,55.9 542.1,56.0 542.9,56.0 543.7,55.9 544.5,55.7 545.3,55.5 546.1,55.2 546.9,54.9 547.7,54.7 548.5,54.5 549.3,54.3 550.1,54.2 550.9,54.2 551.7,54.4 552.5,54.6 553.3,55.0 554.1,55.4 554.9,55.9 555.7,56.4 556.5,57.0 557.3,57.6 558.1,58.2 558.9,58.8 559.7,59.4 560.5,60.0 561.3,60.5 562.1,61.0 562.9,61.4 563.7,61.7 564.5,62.0 565.3,62.2 566.1,62.2 566.9,62.1 567.7,61.7 568.5,61.1 569.3,60.4 570.1,59.5 570.9,58.6 571.7,57.6 572.5,56.7 573.3,55.8 574.1,54.9 574.9,54.2 575.7,53.6 576.5,53.2 577.3,53.0 578.1,53.0 578.9,52.9 579.7,52.9 580.5,52.9 581.3,52.9 582.1,52.8 582.9,52.8 583.7,52.8 584.5,52.8 585.3,52.8 586.1,53.0 586.9,53.5 587.7,54.1 588.5,54.9 589.3,55.7 590.1,56.6 590.9,57.6 591.7,58.5 592.5,59.4 593.3,60.1 594.1,60.7 594.9,61.2 595.7,61.4 596.5,61.4 597.3,61.1 598.1,60.6 598.9,59.9 599.7,59.2 600.5,58.3 601.3,57.4 602.1,56.5 602.9,55.7 603.7,54.9 604.5,54.3 605.3,53.8 606.1,53.5 606.9,53.5 607.7,53.6 608.5,53.8 609.3,54.1 610.1,54.5 610.9,54.9 611.7,55.4 612.5,55.9 613.3,56.5 614.1,57.0 614.9,57.6 615.7,58.1 616.5,58.6 617.3,59.1 618.1,59.5 618.9,59.8 619.7,60.1 620.5,60.3 621.3,60.4 622.1,60.4 622.9,60.2 623.7,60.0 624.5,59.7 625.3,59.3 626.1,58.8 626.9,58.3 627.7,57.7 628.5,57.1 629.3,56.5 630.1,55.9 630.9,55.2 631.7,54.6 632.5,54.0 633.3,53.5 634.1,52.9 634.9,52.5 635.7,52.1 636.5,51.8 637.3,51.5 638.1,51.4 638.9,51.4 639.7,51.5 640.5,51.9 641.3,52.4 642.1,53.0 642.9,53.8 643.7,54.7 644.5,55.6 645.3,56.6 646.1,57.5 646.9,58.5 647.7,59.5 648.5,60.3 649.3,61.2 650.1,61.9 650.9,62.4 651.7,62.8 652.5,63.1 653.3,63.1 654.1,62.9 654.9,62.4 655.7,61.7 656.5,60.9 657.3,60.0 658.1,58.9 658.9,57.8 659.7,56.7 660.5,55.6 661.3,54.5 662.1,53.5 662.9,52.7 663.7,51.9 664.5,51.4 665.3,51.0 666.1,50.9 666.9,50.9 667.7,51.0 668.5,51.1 669.3,51.3 670.1,51.5 670.9,51.7 671.7,52.1 672.5,52.4 673.3,52.9 674.1,53.4 674.9,54.0 675.7,54.6 676.5,55.3 677.3,56.1 678.1,56.9 678.9,57.9 679.7,58.9 680.5,60.0 681.8,61.8" stroke="#3cb54a"/>
<polyline points="49.3,56.5 50.1,56.5 50.9,56.5 51.7,56.5 52.5,56.5 53.3,56.5 54.1,56.5 54.9,56.5 55.7,56.5 56.5,56.5 57.3,56.5 58.1,56.5 58.9,56.5 59.7,56.5 60.5,56.5 61.3,56.5 62.1,56.5 62.9,56.5 63.7,56.5 64.5,56.5 65.3,56.3 66.1,55.9 66.9,55.8 67.7,56.2 68.5,56.8 69.3,57.2 70.1,56.9 70.9,56.3 71.7,55.9 72.5,56.0 73.3,56.4 74.1,56.8 74.9,57.2 75.7,57.2 76.5,56.9 77.3,56.5 78.1,56.1 78.9,55.8 79.7,55.8 80.5,56.1 81.3,56.5 82.1,56.9 82.9,57.2 83.7,57.2 84.5,56.9 85.3,56.6 86.1,56.2 86.9,55.9 87.7,55.9 88.5,56.2 89.3,56.5 90.1,56.9 90.9,57.2 91.7,57.2 92.5,57.0 93.3,56.7 94.1,56.4 94.9,56.1 95.7,55.9 96.5,55.8 97.3,56.0 98.1,56.4 98.9,56.8 99.7,57.1 100.5,57.2 101.3,57.0 102.1,56.6 102.9,56.1 103.7,55.8 104.5,55.7 105.3,55.8 106.1,56.2 106.9,56.6 107.7,57.0 108.5,57.3 109.3,57.4 110.1,57.3 110.9,56.9 111.7,56.5 112.5,56.2 113.3,56.0 114.1,56.0 114.9,56.2 115.7,56.4 116.5,56.7 117.3,57.0 118.1,57.2 118.9,57.3 119.7,57.5 120.5,57.6 121.3,57.6 122.1,57.5 122.9,57.2 123.7,56.8 124.5,56.4 125.3,56.0 126.1,55.8 126.9,55.8 127.7,55.9 128.5,55.9 129.3,56.0 130.1,56.2 130.9,56.3 131.7,56.6 132.5,56.8 133.3,57.1 134.1,57.2 134.9,57.2 135.7,56.9 136.5,56.6 137.3,56.2 138.1,56.0 138.9,55.9 139.7,55.9 140.5,55.8 141.3,55.8 142.1,55.8 142.9,55.8 143.7,56.0 144.5,56.2 145.3,56.4 146.1,56.7 146.9,57.0 147.7,57.5 148.5,58.1 149.3,58.6 150.1,59.0 150.9,59.0 151.7,58.7 152.5,58.1 153.3,57.3 154.1,56.5 154.9,55.8 155.7,55.3 156.5,55.2 157.3,55.3 158.1,55.6 158.9,56.0 159.7,56.4 160.5,56.7 161.3,56.8 162.1,56.4 162.9,55.2 163.7,53.5 164.5,51.6 165.3,49.5 166.1,47.8 166.9,46.4 167.7,45.8 168.5,47.1 169.3,51.5 170.1,57.8 170.9,64.8 171.7,71.2 172.5,75.6 173.3,76.8 174.1,73.3 174.9,66.6 175.7,59.5 176.5,54.5 177.3,54.1 178.1,58.0 178.9,64.5 179.7,71.9 180.5,78.3 181.3,82.3 182.1,82.3 182.9,79.4 183.7,74.5 184.5,67.8 185.3,60.1 186.1,51.8 186.9,43.4 187.7,35.4 188.5,28.4 189.3,22.8 190.1,19.3 190.9,18.2 191.7,19.0 192.5,21.0 193.3,24.1 194.1,28.0 194.9,32.6 195.7,37.7 196.5,43.3 197.3,49.0 198.1,54.8 198.9,60.4 199.7,65.8 200.5,70.8 201.3,75.2 202.1,78.8 202.9,81.4 203.7,83.0 204.5,83.4 205.3,82.7 206.1,81.3 206.9,79.2 207.7,76.5 208.5,73.3 209.3,69.7 210.1,65.7 210.9,61.6 211.7,57.4 212.5,53.1 213.3,48.9 214.1,44.9 214.9,41.1 215.7,37.7 216.5,34.7 217.3,32.3 218.1,30.5 218.9,29.4 219.7,29.2 220.5,29.9 221.3,31.5 222.1,33.7 222.9,36.6 223.7,39.9 224.5,43.7 225.3,47.7 226.1,51.9 226.9,56.1 227.7,60.2 228.5,64.2 229.3,67.9 230.1,71.2 230.9,74.0 231.7,76.2 232.5,77.6 233.3,78.2 234.1,77.9 234.9,77.0 235.7,75.5 236.5,73.5 237.3,71.0 238.1,68.2 238.9,65.1 239.7,61.8 240.5,58.3 241.3,54.8 242.1,51.3 242.9,48.0 243.7,44.7 244.5,41.8 245.3,39.1 246.1,36.9 246.9,35.1 247.7,33.9 248.5,33.3 249.3,33.4 250.1,34.3 250.9,35.9 251.7,38.1 252.5,40.8 253.3,43.9 254.1,47.3 254.9,51.0 255.7,54.7 256.5,58.5 257.3,62.3 258.1,65.8 258.9,69.1 259.7,72.0 260.5,74.5 261.3,76.4 262.1,77.7 262.9,78.2 263.7,78.0 264.5,77.2 265.3,75.9 266.1,74.2 266.9,72.1 267.7,69.7 268.5,67.1 269.3,64.3 270.1,61.4 270.9,58.4 271.7,55.4 272.5,52.5 273.3,49.8 274.1,47.2 274.9,45.0 275.7,43.0 276.5,41.5 277.3,40.4 278.1,39.8 278.9,39.7 279.7,40.1 280.5,40.7 281.3,41.6 282.1,42.8 282.9,44.1 283.7,45.6 284.5,47.3 285.3,49.0 286.1,50.9 286.9,52.7 287.7,54.6 288.5,56.4 289.3,58.2 290.1,59.9 290.9,61.4 291.7,62.8 292.5,63.9 293.3,64.9 294.1,65.6 294.9,65.9 295.7,65.9 296.5,65.2 297.3,63.9 298.1,62.1 298.9,60.0 299.7,57.8 300.5,55.7 301.3,53.9 302.1,52.5 302.9,51.7 303.7,51.7 304.5,52.6 305.3,54.1 306.1,56.0 306.9,58.0 307.7,59.9 308.5,61.5 309.3,62.4 310.1,62.5 310.9,61.9 311.7,60.6 312.5,58.9 313.3,57.0 314.1,54.8 314.9,52.7 315.7,50.8 316.5,49.2 317.3,48.1 318.1,47.6 318.9,47.7 319.7,48.2 320.5,48.9 321.3,49.7 322.1,50.7 322.9,51.7 323.7,52.8 324.5,53.7 325.3,54.7 326.1,55.8 326.9,57.0 327.7,58.3 328.5,59.7 329.3,61.1 330.1,62.5 330.9,63.9 331.7,65.1 332.5,66.3 333.3,67.4 334.1,68.3 334.9,69.0 335.7,69.5 336.5,69.8 337.3,69.7 338.1,69.2 338.9,68.4 339.7,67.2 340.5,65.7 341.3,64.0 342.1,62.1 342.9,60.1 343.7,58.0 344.5,55.9 345.3,53.9 346.1,51.9 346.9,50.1 347.7,48.4 348.5,47.0 349.3,45.9 350.1,45.1 350.9,44.7 351.7,44.8 352.5,45.2 353.3,45.9 354.1,46.9 354.9,48.2 355.7,49.6 356.5,51.2 357.3,52.9 358.1,54.7 358.9,56.6 359.7,58.4 360.5,60.1 361.3,61.8 362.1,63.3 362.9,64.7 363.7,65.8 364.5,66.7 365.3,67.3 366.1,67.5 366.9,67.3 367.7,66.7 368.5,65.6 369.3,64.3 370.1,62.8 370.9,61.1 371.7,59.4 372.5,57.6 373.3,56.0 374.1,54.5 374.9,53.3 375.7,52.5 376.5,52.0 377.3,51.8 378.1,51.6 378.9,51.4 379.7,51.2 380.5,51.1 381.3,51.0 382.1,51.0 382.9,51.2 383.7,51.7 384.5,52.6 385.3,53.8 386.1,55.2 386.9,56.8 387.7,58.4 388.5,60.0 389.3,61.6 390.1,63.2 390.9,64.5 391.7,65.6 392.5,66.4 393.3,66.9 394.1,67.0 394.9,66.6 395.7,66.0 396.5,65.0 397.3,63.8 398.1,62.4 398.9,60.9 399.7,59.3 400.5,57.7 401.3,56.1 402.1,54.6 402.9,53.3 403.7,52.1 404.5,51.1 405.3,50.5 406.1,49.9 406.9,49.3 407.7,48.8 408.5,48.4 409.3,48.2 410.1,48.3 410.9,48.7 411.7,49.5 412.5,50.4 413.3,51.6 414.1,53.0 414.9,54.4 415.7,55.9 416.5,57.3 417.3,58.8 418.1,60.1 418.9,61.3 419.7,62.3 420.5,63.1 421.3,63.6 422.1,63.7 422.9,63.5 423.7,63.0 424.5,62.3 425.3,61.4 426.1,60.3 426.9,59.1 427.7,57.8 428.5,56.5 429.3,55.3 430.1,54.0 430.9,52.9 431.7,51.9 432.5,51.1 433.3,50.5 434.1,50.2 434.9,50.3 435.7,51.1 436.5,52.2 437.3,53.3 438.1,53.9 438.9,54.1 439.7,54.2 440.5,54.2 441.3,54.2 442.1,54.3 442.9,54.4 443.7,54.6 444.5,55.2 445.3,56.0 446.1,56.9 446.9,57.8 447.7,58.6 448.5,59.3 449.3,59.6 450.1,59.7 450.9,59.7 451.7,59.6 452.5,59.5 453.3,59.3 454.1,59.2 454.9,59.0 455.7,58.8 456.5,58.7 457.3,58.4 458.1,58.0 458.9,57.5 459.7,57.1 460.5,56.6 461.3,56.3 462.1,56.0 462.9,55.9 463.7,56.0 464.5,56.1 465.3,56.3 466.1,56.5 466.9,56.5 467.7,56.4 468.5,56.2 469.3,55.9 470.1,55.5 470.9,55.2 471.7,54.8 472.5,54.5 473.3,54.3 474.1,54.2 474.9,54.3 475.7,54.9 476.5,55.8 477.3,56.9 478.1,58.2 478.9,59.5 479.7,60.8 480.5,61.9 481.3,62.8 482.1,63.4 482.9,63.6 483.7,63.5 484.5,63.1 485.3,62.6 486.1,62.0 486.9,61.3 487.7,60.4 488.5,59.5 489.3,58.5 490.1,57.6 490.9,56.6 491.7,55.6 492.5,54.8 493.3,54.0 494.1,53.3 494.9,52.7 495.7,52.3 496.5,52.0 497.3,52.0 498.1,52.0 498.9,52.0 499.7,52.1 500.5,52.1 501.3,52.1 502.1,52.2 502.9,52.3 503.7,52.7 504.5,53.3 505.3,54.1 506.1,55.0 506.9,56.0 507.7,56.9 508.5,57.7 509.3,58.3 510.1,58.7 510.9,58.7 511.7,58.5 512.5,58.1 513.3,57.7 514.1,57.3 514.9,56.9 515.7,56.7 516.5,56.8 517.3,57.2 518.1,58.0 518.9,58.9 519.7,60.0 520.5,61.0 521.3,61.8 522.1,62.4 522.9,62.7 523.7,62.6 524.5,62.4 525.3,61.9 526.1,61.4 526.9,60.7 527.7,59.9 528.5,59.1 529.3,58.2 530.1,57.3 530.9,56.4 531.7,55.6 532.5,54.8 533.3,54.1 534.1,53.5 534.9,53.0 535.7,52.7 536.5,52.5 537.3,52.6 538.1,52.8 538.9,53.2 539.7,53.7 540.5,54.2 541.3,54.7 542.1,55.2 542.9,55.7 543.7,56.0 544.5,56.1 545.3,56.1 546.1,56.0 546.9,55.9 547.7,55.7 548.5,55.6 549.3,55.4 550.1,55.3 550.9,55.2 551.7,55.2 552.5,55.2 553.3,55.3 554.1,55.5 554.9,55.8 555.7,56.1 556.5,56.5 557.3,56.9 558.1,57.3 558.9,57.8 559.7,58.3 560.5,58.7 561.3,59.2 562.1,59.7 562.9,60.1 563.7,60.5 564.5,60.9 565.3,61.2 566.1,61.4 566.9,61.6 567.7,61.7 568.5,61.7 569.3,61.4 570.1,61.0 570.9,60.4 571.7,59.7 572.5,58.9 573.3,58.1 574.1,57.2 574.9,56.3 575.7,55.5 576.5,54.8 577.3,54.2 578.1,53.7 578.9,53.4 579.7,53.3 580.5,53.3 581.3,53.3 582.1,53.2 582.9,53.2 583.7,53.2 584.5,53.2 585.3,53.1 586.1,53.1 586.9,53.1 587.7,53.2 588.5,53.5 589.3,54.0 590.1,54.6 590.9,55.3 591.7,56.1 592.5,57.0 593.3,57.8 594.1,58.6 594.9,59.4 595.7,60.0 596.5,60.5 597.3,60.9 598.1,61.0 598.9,60.9 599.7,60.5 600.5,60.0 601.3,59.4 602.1,58.7 602.9,57.9 603.7,57.1 604.5,56.3 605.3,55.6 606.1,55.0 606.9,54.6 607.7,54.4 608.5,54.4 609.3,54.5 610.1,54.6 610.9,54.9 611.7,55.1 612.5,55.5 613.3,55.9 614.1,56.3 614.9,56.7 615.7,57.1 616.5,57.6 617.3,58.0 618.1,58.4 618.9,58.8 619.7,59.1 620.5,59.4 621.3,59.7 622.1,59.9 622.9,60.0 623.7,60.0 624.5,59.9 625.3,59.7 626.1,59.4 626.9,59.1 627.7,58.7 628.5,58.3 629.3,57.8 630.1,57.3 630.9,56.7 631.7,56.2 632.5,55.6 633.3,55.0 634.1,54.5 634.9,54.0 635.7,53.5 636.5,53.1 637.3,52.7 638.1,52.3 638.9,52.1 639.7,51.9 640.5,51.8 641.3,51.8 642.1,52.1 642.9,52.4 643.7,53.0 644.5,53.6 645.3,54.3 646.1,55.1 646.9,56.0 647.7,56.9 648.5,57.8 649.3,58.7 650.1,59.5 650.9,60.3 651.7,61.0 652.5,61.6 653.3,62.1 654.1,62.4 654.9,62.5 655.7,62.4 656.5,62.2 657.3,61.7 658.1,61.0 658.9,60.2 659.7,59.3 660.5,58.4 661.3,57.3 662.1,56.3 662.9,55.3 663.7,54.4 664.5,53.5 665.3,52.7 666.1,52.1 666.9,51.7 667.7,51.4 668.5,51.4 669.3,51.5 670.1,51.6 670.9,51.8 671.7,52.0 672.5,52.4 673.3,52.7 674.1,53.2 674.9,53.7 675.7,54.3 676.5,55.0 677.3,55.8 678.1,56.6 678.9,57.5 679.7,58.5 680.5,59.5 681.8,61.4" stroke="#1f7ad6"/>
<polyline points="49.3,56.5 50.1,56.5 50.9,56.5 51.7,56.5 52.5,56.5 53.3,56.5 54.1,56.5 54.9,56.5 55.7,56.5 56.5,56.5 57.3,56.5 58.1,56.5 58.9,56.5 59.7,56.5 60.5,56.5 61.3,56.5 62.1,56.5 62.9,56.5 63.7,56.5 64.5,56.4 65.3,56.1 66.1,55.8 66.9,55.9 67.7,56.5 68.5,57.1 69.3,57.1 70.1,56.7 70.9,56.1 71.7,55.9 72.5,56.2 73.3,56.6 74.1,57.0 74.9,57.2 75.7,57.1 76.5,56.8 77.3,56.3 78.1,56.0 78.9,55.8 79.7,55.9 80.5,56.2 81.3,56.7 82.1,57.0 82.9,57.2 83.7,57.1 84.5,56.8 85.3,56.4 86.1,56.1 86.9,55.9 87.7,56.0 88.5,56.3 89.3,56.7 90.1,57.0 90.9,57.2 91.7,57.1 92.5,56.9 93.3,56.6 94.1,56.2 94.9,56.0 95.7,55.8 96.5,55.9 97.3,56.1 98.1,56.6 98.9,57.0 99.7,57.2 100.5,57.1 101.3,56.8 102.1,56.4 102.9,56.0 103.7,55.7 104.5,55.7 105.3,56.0 106.1,56.4 106.9,56.8 107.7,57.1 108.5,57.4 109.3,57.4 110.1,57.1 110.9,56.7 111.7,56.3 112.5,56.1 113.3,56.0 114.1,56.1 114.9,56.3 115.7,56.6 116.5,56.8 117.3,57.1 118.1,57.2 118.9,57.4 119.7,57.5 120.5,57.6 121.3,57.6 122.1,57.4 122.9,57.0 123.7,56.6 124.5,56.2 125.3,55.9 126.1,55.8 126.9,55.8 127.7,55.9 128.5,56.0 129.3,56.1 130.1,56.2 130.9,56.4 131.7,56.7 132.5,56.9 133.3,57.1 134.1,57.2 134.9,57.1 135.7,56.8 136.5,56.4 137.3,56.1 138.1,56.0 138.9,55.9 139.7,55.9 140.5,55.8 141.3,55.8 142.1,55.8 142.9,55.9 143.7,56.0 144.5,56.3 145.3,56.6 146.1,56.9 146.9,57.3 147.7,57.8 148.5,58.4 149.3,58.8 150.1,59.0 150.9,58.9 151.7,58.4 152.5,57.7 153.3,56.9 154.1,56.2 154.9,55.5 155.7,55.2 156.5,55.2 157.3,55.5 158.1,55.8 158.9,56.2 159.7,56.5 160.5,56.8 161.3,56.7 162.1,55.9 162.9,54.5 163.7,52.6 164.5,50.6 165.3,48.6 166.1,47.0 166.9,46.0 167.7,45.9 168.5,48.7 169.3,54.2 170.1,61.0 170.9,68.0 171.7,73.7 172.5,76.9 173.3,76.1 174.1,70.8 174.9,63.6 175.7,57.0 176.5,53.7 177.3,55.2 178.1,60.5 178.9,67.5 179.7,74.8 180.5,80.4 181.3,82.8 182.1,81.3 182.9,77.3 183.7,71.2 184.5,63.6 185.3,55.1 186.1,46.3 186.9,37.7 187.7,30.0 188.5,23.6 189.3,19.3 190.1,17.3 190.9,17.7 191.7,19.6 192.5,22.8 193.3,27.1 194.1,32.3 194.9,38.0 195.7,44.2 196.5,50.6 197.3,57.1 198.1,63.3 198.9,69.2 199.7,74.5 200.5,78.9 201.3,82.3 202.1,84.6 202.9,85.7 203.7,85.4 204.5,84.3 205.3,82.3 206.1,79.6 206.9,76.4 207.7,72.6 208.5,68.6 209.3,64.2 210.1,59.7 210.9,55.1 211.7,50.5 212.5,46.1 213.3,41.9 214.1,38.1 214.9,34.8 215.7,31.9 216.5,29.8 217.3,28.4 218.1,27.9 218.9,28.4 219.7,29.8 220.5,32.0 221.3,34.9 222.1,38.4 222.9,42.3 223.7,46.5 224.5,51.0 225.3,55.5 226.1,60.0 226.9,64.3 227.7,68.3 228.5,71.9 229.3,74.9 230.1,77.3 230.9,78.9 231.7,79.7 232.5,79.7 233.3,78.8 234.1,77.3 234.9,75.2 235.7,72.5 236.5,69.5 237.3,66.2 238.1,62.6 238.9,58.9 239.7,55.1 240.5,51.3 241.3,47.6 242.1,44.1 242.9,40.9 243.7,38.1 244.5,35.7 245.3,33.9 246.1,32.7 246.9,32.2 247.7,32.4 248.5,33.4 249.3,35.0 250.1,37.3 250.9,40.0 251.7,43.1 252.5,46.6 253.3,50.3 254.1,54.1 254.9,57.9 255.7,61.7 256.5,65.4 257.3,68.8 258.1,71.9 258.9,74.6 259.7,76.8 260.5,78.3 261.3,79.2 262.1,79.4 262.9,78.8 263.7,77.7 264.5,76.0 265.3,74.0 266.1,71.5 266.9,68.8 267.7,65.8 268.5,62.7 269.3,59.5 270.1,56.3 270.9,53.1 271.7,50.1 272.5,47.2 273.3,44.7 274.1,42.5 274.9,40.8 275.7,39.5 276.5,38.9 277.3,38.9 278.1,39.5 278.9,40.7 279.7,42.2 280.5,44.2 281.3,46.3 282.1,48.7 282.9,51.3 283.7,53.8 284.5,56.3 285.3,58.7 286.1,60.8 286.9,62.5 287.7,63.9 288.5,65.0 289.3,65.7 290.1,66.0 290.9,66.0 291.7,65.5 292.5,64.6 293.3,63.4 294.1,61.8 294.9,60.1 295.7,58.1 296.5,56.1 297.3,54.0 298.1,51.9 298.9,50.1 299.7,48.4 300.5,47.1 301.3,46.3 302.1,46.0 302.9,46.5 303.7,48.0 304.5,50.0 305.3,52.6 306.1,55.4 306.9,58.2 307.7,60.9 308.5,63.2 309.3,64.9 310.1,65.8 310.9,65.9 311.7,65.1 312.5,63.9 313.3,62.2 314.1,60.3 314.9,58.2 315.7,56.2 316.5,54.3 317.3,52.7 318.1,51.6 318.9,51.0 319.7,51.0 320.5,51.2 321.3,51.5 322.1,51.9 322.9,52.4 323.7,52.9 324.5,53.4 325.3,53.9 326.1,54.6 326.9,55.5 327.7,56.7 328.5,58.0 329.3,59.5 330.1,61.0 330.9,62.5 331.7,64.0 332.5,65.3 333.3,66.5 334.1,67.5 334.9,68.3 335.7,68.7 336.5,68.7 337.3,68.2 338.1,67.1 338.9,65.5 339.7,63.6 340.5,61.4 341.3,59.1 342.1,56.7 342.9,54.3 343.7,51.9 344.5,49.8 345.3,48.0 346.1,46.6 346.9,45.7 347.7,45.2 348.5,45.2 349.3,45.5 350.1,46.1 350.9,47.0 351.7,48.1 352.5,49.4 353.3,50.9 354.1,52.5 354.9,54.1 355.7,55.8 356.5,57.5 357.3,59.2 358.1,60.8 358.9,62.2 359.7,63.5 360.5,64.6 361.3,65.5 362.1,66.1 362.9,66.4 363.7,66.3 364.5,65.9 365.3,65.1 366.1,64.0 366.9,62.6 367.7,61.1 368.5,59.4 369.3,57.6 370.1,55.9 370.9,54.3 371.7,52.8 372.5,51.6 373.3,50.7 374.1,50.1 374.9,50.1 375.7,50.2 376.5,50.6 377.3,51.1 378.1,51.6 378.9,52.1 379.7,52.6 380.5,53.1 381.3,53.7 382.1,54.3 382.9,55.0 383.7,55.9 384.5,57.0 385.3,58.1 386.1,59.4 386.9,60.6 387.7,61.9 388.5,63.1 389.3,64.2 390.1,65.2 390.9,66.0 391.7,66.6 392.5,66.9 393.3,66.8 394.1,66.2 394.9,65.1 395.7,63.6 396.5,61.8 397.3,59.8 398.1,57.7 398.9,55.6 399.7,53.6 400.5,51.8 401.3,50.3 402.1,49.2 402.9,48.5 403.7,48.2 404.5,48.2 405.3,48.3 406.1,48.4 406.9,48.6 407.7,48.8 408.5,49.1 409.3,49.7 410.1,50.6 410.9,51.9 411.7,53.5 412.5,55.1 413.3,56.9 414.1,58.7 414.9,60.4 415.7,62.0 416.5,63.3 417.3,64.3 418.1,65.0 418.9,65.3 419.7,65.2 420.5,64.8 421.3,64.2 422.1,63.4 422.9,62.3 423.7,61.2 424.5,59.9 425.3,58.6 426.1,57.2 426.9,55.8 427.7,54.4 428.5,53.1 429.3,51.9 430.1,50.8 430.9,49.8 431.7,49.1 432.5,48.6 433.3,48.4 434.1,48.6 434.9,49.1 435.7,50.0 436.5,51.2 437.3,52.4 438.1,53.5 438.9,54.6 439.7,55.7 440.5,56.6 441.3,57.3 442.1,57.8 442.9,58.3 443.7,58.8 444.5,59.3 445.3,59.8 446.1,60.2 446.9,60.5 447.7,60.7 448.5,60.7 449.3,60.6 450.1,60.2 450.9,59.8 451.7,59.3 452.5,58.8 453.3,58.2 454.1,57.7 454.9,57.2 455.7,56.7 456.5,56.2 457.3,55.8 458.1,55.3 458.9,55.0 459.7,54.6 460.5,54.3 461.3,54.1 462.1,53.9 462.9,53.8 463.7,53.9 464.5,54.1 465.3,54.4 466.1,54.9 466.9,55.4 467.7,55.9 468.5,56.4 469.3,56.8 470.1,57.1 470.9,57.2 471.7,57.2 472.5,57.3 473.3,57.3 474.1,57.4 474.9,57.6 475.7,58.1 476.5,58.8 477.3,59.6 478.1,60.6 478.9,61.5 479.7,62.4 480.5,63.2 481.3,63.9 482.1,64.3 482.9,64.4 483.7,64.2 484.5,63.7 485.3,62.9 486.1,62.0 486.9,60.9 487.7,59.7 488.5,58.5 489.3,57.3 490.1,56.1 490.9,54.9 491.7,53.9 492.5,53.1 493.3,52.5 494.1,52.0 494.9,51.8 495.7,51.7 496.5,51.8 497.3,51.9 498.1,52.1 498.9,52.4 499.7,52.7 500.5,53.0 501.3,53.3 502.1,53.7 502.9,54.0 503.7,54.5 504.5,55.2 505.3,56.0 506.1,56.8 506.9,57.6 507.7,58.3 508.5,58.7 509.3,59.0 510.1,58.9 510.9,58.6 511.7,58.0 512.5,57.4 513.3,56.7 514.1,56.2 514.9,55.9 515.7,55.9 516.5,56.2 517.3,56.7 518.1,57.5 518.9,58.3 519.7,59.2 520.5,59.9 521.3,60.6 522.1,61.0 522.9,61.1 523.7,61.0 524.5,60.8 525.3,60.4 526.1,60.0 526.9,59.4 527.7,58.9 528.5,58.2 529.3,57.6 530.1,56.9 530.9,56.3 531.7,55.7 532.5,55.2 533.3,54.7 534.1,54.3 534.9,54.1 535.7,53.9 536.5,54.0 537.3,54.1 538.1,54.4 538.9,54.7 539.7,55.0 540.5,55.4 541.3,55.7 542.1,55.9 542.9,56.0 543.7,56.0 544.5,56.0 545.3,55.9 546.1,55.7 546.9,55.5 547.7,55.3 548.5,55.2 549.3,55.0 550.1,55.0 550.9,54.9 551.7,55.0 552.5,55.2 553.3,55.4 554.1,55.7 554.9,56.1 555.7,56.5 556.5,56.9 557.3,57.4 558.1,57.9 558.9,58.4 559.7,58.9 560.5,59.4 561.3,59.9 562.1,60.4 562.9,60.8 563.7,61.1 564.5,61.4 565.3,61.6 566.1,61.7 566.9,61.7 567.7,61.6 568.5,61.2 569.3,60.7 570.1,60.0 570.9,59.3 571.7,58.4 572.5,57.6 573.3,56.7 574.1,55.9 574.9,55.1 575.7,54.4 576.5,53.9 577.3,53.5 578.1,53.3 578.9,53.3 579.7,53.2 580.5,53.2 581.3,53.2 582.1,53.1 582.9,53.1 583.7,53.1 584.5,53.1 585.3,53.1 586.1,53.2 586.9,53.4 587.7,53.8 588.5,54.3 589.3,55.0 590.1,55.8 590.9,56.6 591.7,57.5 592.5,58.3 593.3,59.1 594.1,59.8 594.9,60.4 595.7,60.8 596.5,61.0 597.3,60.9 598.1,60.7 598.9,60.3 599.7,59.7 600.5,59.0 601.3,58.2 602.1,57.4 602.9,56.6 603.7,55.9 604.5,55.2 605.3,54.7 606.1,54.3 606.9,54.2 607.7,54.2 608.5,54.3 609.3,54.5 610.1,54.8 610.9,55.2 611.7,55.5 612.5,55.9 613.3,56.4 614.1,56.8 614.9,57.3 615.7,57.8 616.5,58.2 617.3,58.6 618.1,59.0 618.9,59.3 619.7,59.6 620.5,59.8 621.3,60.0 622.1,60.0 622.9,60.0 623.7,59.8 624.5,59.6 625.3,59.3 626.1,58.9 626.9,58.5 627.7,58.0 628.5,57.5 629.3,57.0 630.1,56.4 630.9,55.9 631.7,55.3 632.5,54.7 633.3,54.2 634.1,53.7 634.9,53.2 635.7,52.8 636.5,52.4 637.3,52.1 638.1,51.9 638.9,51.8 639.7,51.8 640.5,51.9 641.3,52.3 642.1,52.7 642.9,53.3 643.7,54.0 644.5,54.8 645.3,55.6 646.1,56.5 646.9,57.4 647.7,58.3 648.5,59.2 649.3,60.0 650.1,60.7 650.9,61.4 651.7,61.9 652.5,62.3 653.3,62.5 654.1,62.5 654.9,62.3 655.7,61.9 656.5,61.3 657.3,60.6 658.1,59.7 658.9,58.8 659.7,57.8 660.5,56.7 661.3,55.7 662.1,54.7 662.9,53.8 663.7,53.0 664.5,52.3 665.3,51.8 666.1,51.5 666.9,51.4 667.7,51.4 668.5,51.4 669.3,51.6 670.1,51.7 670.9,52.0 671.7,52.2 672.5,52.6 673.3,53.0 674.1,53.5 674.9,54.0 675.7,54.6 676.5,55.2 677.3,56.0 678.1,56.8 678.9,57.7 679.7,58.6 680.5,59.6 681.8,61.4" stroke="#ffc000"/>
<polyline points="49.3,56.5 50.1,56.5 50.9,56.5 51.7,56.5 52.5,56.5 53.3,56.5 54.1,56.5 54.9,56.5 55.7,56.5 56.5,56.5 57.3,56.5 58.1,56.5 58.9,56.5 59.7,56.5 60.5,56.5 61.3,56.5 62.1,56.5 62.9,56.5 63.7,56.5 64.5,56.4 65.3,56.2 66.1,55.9 66.9,55.9 67.7,56.3 68.5,56.9 69.3,57.1 70.1,56.8 70.9,56.2 71.7,56.0 72.5,56.1 73.3,56.5 74.1,56.9 74.9,57.2 75.7,57.1 76.5,56.8 77.3,56.4 78.1,56.1 78.9,55.8 79.7,55.9 80.5,56.2 81.3,56.6 82.1,56.9 82.9,57.2 83.7,57.1 84.5,56.9 85.3,56.5 86.1,56.1 86.9,55.9 87.7,56.0 88.5,56.2 89.3,56.6 90.1,57.0 90.9,57.2 91.7,57.1 92.5,56.9 93.3,56.7 94.1,56.3 94.9,56.0 95.7,55.8 96.5,55.8 97.3,56.1 98.1,56.5 98.9,56.9 99.7,57.1 100.5,57.1 101.3,56.9 102.1,56.5 102.9,56.1 103.7,55.8 104.5,55.7 105.3,55.9 106.1,56.3 106.9,56.7 107.7,57.0 108.5,57.3 109.3,57.4 110.1,57.2 110.9,56.8 111.7,56.4 112.5,56.1 113.3,56.0 114.1,56.1 114.9,56.3 115.7,56.5 116.5,56.8 117.3,57.0 118.1,57.2 118.9,57.3 119.7,57.5 120.5,57.6 121.3,57.6 122.1,57.4 122.9,57.1 123.7,56.7 124.5,56.3 125.3,56.0 126.1,55.8 126.9,55.8 127.7,55.9 128.5,56.0 129.3,56.1 130.1,56.2 130.9,56.4 131.7,56.6 132.5,56.9 133.3,57.1 134.1,57.2 134.9,57.1 135.7,56.8 136.5,56.5 137.3,56.2 138.1,56.0 138.9,55.9 139.7,55.9 140.5,55.8 141.3,55.8 142.1,55.8 142.9,55.9 143.7,56.0 144.5,56.2 145.3,56.5 146.1,56.8 146.9,57.2 147.7,57.7 148.5,58.2 149.3,58.7 150.1,59.0 150.9,58.9 151.7,58.5 152.5,57.9 153.3,57.1 154.1,56.3 154.9,55.7 155.7,55.3 156.5,55.2 157.3,55.4 158.1,55.7 158.9,56.1 159.7,56.5 160.5,56.7 161.3,56.7 162.1,56.1 162.9,54.8 163.7,53.1 164.5,51.1 165.3,49.2 166.1,47.5 166.9,46.3 167.7,46.0 168.5,48.1 169.3,53.0 170.1,59.5 170.9,66.3 171.7,72.2 172.5,75.9 173.3,76.0 174.1,71.8 174.9,65.1 175.7,58.4 176.5,54.4 177.3,54.9 178.1,59.3 178.9,66.0 179.7,73.1 180.5,79.0 181.3,82.0 182.1,81.4 182.9,78.0 183.7,72.4 184.5,65.3 185.3,57.1 186.1,48.5 186.9,39.9 187.7,32.0 188.5,25.4 189.3,20.5 190.1,17.8 190.9,17.6 191.7,19.1 192.5,22.0 193.3,26.0 194.1,30.9 194.9,36.5 195.7,42.6 196.5,48.9 197.3,55.4 198.1,61.7 198.9,67.7 199.7,73.2 200.5,77.9 201.3,81.7 202.1,84.3 202.9,85.7 203.7,85.7 204.5,84.7 205.3,82.9 206.1,80.4 206.9,77.3 207.7,73.6 208.5,69.6 209.3,65.3 210.1,60.8 210.9,56.1 211.7,51.6 212.5,47.1 213.3,42.9 214.1,38.9 214.9,35.5 215.7,32.5 216.5,30.2 217.3,28.6 218.1,27.9 218.9,28.2 219.7,29.3 220.5,31.4 221.3,34.1 222.1,37.5 222.9,41.3 223.7,45.5 224.5,49.9 225.3,54.4 226.1,58.9 226.9,63.3 227.7,67.4 228.5,71.1 229.3,74.3 230.1,76.9 230.9,78.7 231.7,79.8 232.5,79.9 233.3,79.3 234.1,77.9 234.9,75.9 235.7,73.4 236.5,70.4 237.3,67.1 238.1,63.6 238.9,59.8 239.7,56.0 240.5,52.2 241.3,48.5 242.1,44.9 242.9,41.6 243.7,38.7 244.5,36.2 245.3,34.2 246.1,32.9 246.9,32.2 247.7,32.3 248.5,33.1 249.3,34.7 250.1,36.8 250.9,39.5 251.7,42.6 252.5,46.0 253.3,49.6 254.1,53.4 254.9,57.3 255.7,61.1 256.5,64.8 257.3,68.3 258.1,71.4 258.9,74.2 259.7,76.5 260.5,78.2 261.3,79.2 262.1,79.5 262.9,79.1 263.7,78.0 264.5,76.5 265.3,74.5 266.1,72.1 266.9,69.4 267.7,66.4 268.5,63.3 269.3,60.1 270.1,56.9 270.9,53.7 271.7,50.6 272.5,47.7 273.3,45.1 274.1,42.9 274.9,41.0 275.7,39.7 276.5,38.9 277.3,38.8 278.1,39.3 278.9,40.3 279.7,41.7 280.5,43.4 281.3,45.5 282.1,47.8 282.9,50.2 283.7,52.7 284.5,55.2 285.3,57.6 286.1,59.8 286.9,61.7 287.7,63.4 288.5,64.7 289.3,65.6 290.1,66.2 290.9,66.4 291.7,66.1 292.5,65.4 293.3,64.2 294.1,62.7 294.9,60.8 295.7,58.8 296.5,56.7 297.3,54.5 298.1,52.5 298.9,50.6 299.7,48.9 300.5,47.6 301.3,46.6 302.1,46.3 302.9,46.6 303.7,47.8 304.5,49.6 305.3,51.8 306.1,54.4 306.9,57.0 307.7,59.6 308.5,61.9 309.3,63.7 310.1,64.8 310.9,65.1 311.7,64.7 312.5,63.7 313.3,62.3 314.1,60.6 314.9,58.7 315.7,56.8 316.5,55.0 317.3,53.4 318.1,52.3 318.9,51.6 319.7,51.5 320.5,51.6 321.3,51.9 322.1,52.2 322.9,52.6 323.7,53.1 324.5,53.6 325.3,54.1 326.1,54.7 326.9,55.6 327.7,56.6 328.5,57.8 329.3,59.2 330.1,60.6 330.9,62.1 331.7,63.5 332.5,64.8 333.3,66.0 334.1,67.0 334.9,67.8 335.7,68.2 336.5,68.4 337.3,68.0 338.1,67.1 338.9,65.6 339.7,63.9 340.5,61.8 341.3,59.5 342.1,57.1 342.9,54.7 343.7,52.4 344.5,50.3 345.3,48.4 346.1,46.8 346.9,45.8 347.7,45.1 348.5,45.0 349.3,45.3 350.1,45.9 350.9,46.8 351.7,47.9 352.5,49.2 353.3,50.7 354.1,52.2 354.9,53.9 355.7,55.6 356.5,57.3 357.3,58.9 358.1,60.5 358.9,62.0 359.7,63.3 360.5,64.5 361.3,65.4 362.1,66.1 362.9,66.5 363.7,66.6 364.5,66.2 365.3,65.5 366.1,64.5 366.9,63.1 367.7,61.5 368.5,59.8 369.3,58.0 370.1,56.3 370.9,54.6 371.7,53.1 372.5,51.8 373.3,50.8 374.1,50.2 374.9,50.0 375.7,50.1 376.5,50.4 377.3,50.8 378.1,51.3 378.9,51.8 379.7,52.3 380.5,52.9 381.3,53.4 382.1,54.0 382.9,54.7 383.7,55.6 384.5,56.6 385.3,57.8 386.1,59.0 386.9,60.3 387.7,61.6 388.5,62.8 389.3,64.0 390.1,65.0 390.9,65.8 391.7,66.5 392.5,66.9 393.3,66.9 394.1,66.4 394.9,65.5 395.7,64.1 396.5,62.4 397.3,60.5 398.1,58.4 398.9,56.3 399.7,54.3 400.5,52.4 401.3,50.8 402.1,49.5 402.9,48.7 403.7,48.2 404.5,48.2 405.3,48.2 406.1,48.3 406.9,48.4 407.7,48.6 408.5,48.8 409.3,49.2 410.1,50.0 410.9,51.2 411.7,52.7 412.5,54.4 413.3,56.2 414.1,58.1 414.9,59.9 415.7,61.5 416.5,63.0 417.3,64.2 418.1,65.0 418.9,65.4 419.7,65.4 420.5,65.0 421.3,64.4 422.1,63.6 422.9,62.6 423.7,61.5 424.5,60.3 425.3,58.9 426.1,57.6 426.9,56.2 427.7,54.8 428.5,53.5 429.3,52.3 430.1,51.2 430.9,50.2 431.7,49.4 432.5,48.8 433.3,48.5 434.1,48.5 434.9,48.9 435.7,49.6 436.5,50.5 437.3,51.6 438.1,52.8 438.9,54.0 439.7,55.1 440.5,56.1 441.3,56.9 442.1,57.6 442.9,58.2 443.7,58.8 444.5,59.4 445.3,59.9 446.1,60.3 446.9,60.7 447.7,60.9 448.5,61.0 449.3,60.9 450.1,60.6 450.9,60.3 451.7,59.8 452.5,59.3 453.3,58.8 454.1,58.3 454.9,57.7 455.7,57.2 456.5,56.6 457.3,56.1 458.1,55.6 458.9,55.1 459.7,54.7 460.5,54.3 461.3,54.0 462.1,53.8 462.9,53.6 463.7,53.6 464.5,53.7 465.3,54.0 466.1,54.4 466.9,54.9 467.7,55.4 468.5,56.0 469.3,56.5 470.1,56.9 470.9,57.1 471.7,57.2 472.5,57.3 473.3,57.4 474.1,57.6 474.9,57.8 475.7,58.2 476.5,58.9 477.3,59.6 478.1,60.5 478.9,61.4 479.7,62.3 480.5,63.1 481.3,63.7 482.1,64.2 482.9,64.4 483.7,64.3 484.5,63.9 485.3,63.3 486.1,62.4 486.9,61.4 487.7,60.2 488.5,59.0 489.3,57.8 490.1,56.5 490.9,55.4 491.7,54.3 492.5,53.3 493.3,52.6 494.1,52.0 494.9,51.7 495.7,51.5 496.5,51.5 497.3,51.7 498.1,51.9 498.9,52.1 499.7,52.4 500.5,52.8 501.3,53.1 502.1,53.5 502.9,53.9 503.7,54.3 504.5,55.0 505.3,55.7 506.1,56.5 506.9,57.4 507.7,58.1 508.5,58.6 509.3,59.0 510.1,59.1 510.9,58.8 511.7,58.3 512.5,57.7 513.3,57.0 514.1,56.4 514.9,56.1 515.7,56.1 516.5,56.3 517.3,56.8 518.1,57.5 518.9,58.2 519.7,59.0 520.5,59.7 521.3,60.3 522.1,60.7 522.9,60.9 523.7,60.9 524.5,60.7 525.3,60.4 526.1,60.0 526.9,59.5 527.7,59.0 528.5,58.4 529.3,57.8 530.1,57.1 530.9,56.5 531.7,56.0 532.5,55.4 533.3,55.0 534.1,54.6 534.9,54.3 535.7,54.2 536.5,54.2 537.3,54.3 538.1,54.5 538.9,54.8 539.7,55.1 540.5,55.4 541.3,55.7 542.1,55.9 542.9,56.0 543.7,56.1 544.5,56.0 545.3,55.9 546.1,55.8 546.9,55.6 547.7,55.4 548.5,55.3 549.3,55.2 550.1,55.1 550.9,55.0 551.7,55.1 552.5,55.2 553.3,55.4 554.1,55.7 554.9,56.1 555.7,56.5 556.5,56.9 557.3,57.4 558.1,57.8 558.9,58.3 559.7,58.8 560.5,59.3 561.3,59.8 562.1,60.2 562.9,60.6 563.7,61.0 564.5,61.3 565.3,61.5 566.1,61.6 566.9,61.7 567.7,61.6 568.5,61.3 569.3,60.8 570.1,60.2 570.9,59.4 571.7,58.6 572.5,57.8 573.3,56.9 574.1,56.1 574.9,55.3 575.7,54.6 576.5,54.0 577.3,53.6 578.1,53.4 578.9,53.3 579.7,53.3 580.5,53.2 581.3,53.2 582.1,53.2 582.9,53.2 583.7,53.2 584.5,53.1 585.3,53.1 586.1,53.2 586.9,53.3 587.7,53.7 588.5,54.2 589.3,54.8 590.1,55.6 590.9,56.4 591.7,57.3 592.5,58.1 593.3,58.9 594.1,59.6 594.9,60.2 595.7,60.6 596.5,60.9 597.3,60.9 598.1,60.7 598.9,60.3 599.7,59.8 600.5,59.1 601.3,58.4 602.1,57.6 602.9,56.8 603.7,56.1 604.5,55.4 605.3,54.8 606.1,54.5 606.9,54.3 607.7,54.3 608.5,54.4 609.3,54.6 610.1,54.8 610.9,55.2 611.7,55.5 612.5,55.9 613.3,56.3 614.1,56.8 614.9,57.2 615.7,57.7 616.5,58.1 617.3,58.5 618.1,58.9 618.9,59.2 619.7,59.5 620.5,59.7 621.3,59.9 622.1,60.0 622.9,59.9 623.7,59.8 624.5,59.6 625.3,59.3 626.1,59.0 626.9,58.6 627.7,58.1 628.5,57.6 629.3,57.1 630.1,56.6 630.9,56.0 631.7,55.4 632.5,54.9 633.3,54.3 634.1,53.8 634.9,53.4 635.7,52.9 636.5,52.6 637.3,52.3 638.1,52.0 638.9,51.9 639.7,51.8 640.5,51.9 641.3,52.2 642.1,52.6 642.9,53.2 643.7,53.8 644.5,54.6 645.3,55.4 646.1,56.3 646.9,57.2 647.7,58.1 648.5,58.9 649.3,59.8 650.1,60.5 650.9,61.2 651.7,61.7 652.5,62.1 653.3,62.4 654.1,62.5 654.9,62.3 655.7,62.0 656.5,61.4 657.3,60.7 658.1,59.9 658.9,59.0 659.7,58.0 660.5,57.0 661.3,56.0 662.1,55.0 662.9,54.1 663.7,53.2 664.5,52.5 665.3,52.0 666.1,51.6 666.9,51.4 667.7,51.4 668.5,51.5 669.3,51.6 670.1,51.8 670.9,52.0 671.7,52.2 672.5,52.6 673.3,52.9 674.1,53.4 674.9,53.9 675.7,54.5 676.5,55.1 677.3,55.8 678.1,56.6 678.9,57.4 679.7,58.4 680.5,59.4 681.8,61.1" stroke="#ff66e8"/>
<polyline points="49.3,56.5 50.1,56.5 50.9,56.5 51.7,56.5 52.5,56.5 53.3,56.5 54.1,56.5 54.9,56.5 55.7,56.5 56.5,56.5 57.3,56.5 58.1,56.5 58.9,56.5 59.7,56.5 60.5,56.5 61.3,56.5 62.1,56.5 62.9,56.5 63.7,56.5 64.5,56.4 65.3,56.1 66.1,55.8 66.9,55.9 67.7,56.5 68.5,57.1 69.3,57.1 70.1,56.7 70.9,56.1 71.7,55.9 72.5,56.2 73.3,56.6 74.1,57.0 74.9,57.2 75.7,57.1 76.5,56.8 77.3,56.3 78.1,56.0 78.9,55.8 79.7,55.9 80.5,56.2 81.3,56.7 82.1,57.0 82.9,57.2 83.7,57.1 84.5,56.8 85.3,56.4 86.1,56.1 86.9,55.9 87.7,56.0 88.5,56.3 89.3,56.7 90.1,57.0 90.9,57.2 91.7,57.1 92.5,56.9 93.3,56.6 94.1,56.3 94.9,56.0 95.7,55.8 96.5,55.9 97.3,56.1 98.1,56.6 98.9,56.9 99.7,57.2 100.5,57.1 101.3,56.8 102.1,56.4 102.9,56.0 103.7,55.7 104.5,55.7 105.3,56.0 106.1,56.3 106.9,56.8 107.7,57.1 108.5,57.4 109.3,57.4 110.1,57.1 110.9,56.8 111.7,56.3 112.5,56.1 113.3,56.0 114.1,56.1 114.9,56.3 115.7,56.6 116.5,56.8 117.3,57.0 118.1,57.2 118.9,57.4 119.7,57.5 120.5,57.6 121.3,57.6 122.1,57.4 122.9,57.0 123.7,56.6 124.5,56.2 125.3,55.9 126.1,55.8 126.9,55.8 127.7,55.9 128.5,56.0 129.3,56.1 130.1,56.2 130.9,56.4 131.7,56.7 132.5,56.9 133.3,57.1 134.1,57.2 134.9,57.1 135.7,56.8 136.5,56.4 137.3,56.1 138.1,56.0 138.9,55.9 139.7,55.9 140.5,55.8 141.3,55.8 142.1,55.8 142.9,55.9 143.7,56.0 144.5,56.3 145.3,56.6 146.1,56.8 146.9,57.2 147.7,57.8 148.5,58.3 149.3,58.8 150.1,59.0 150.9,58.9 151.7,58.4 152.5,57.7 153.3,57.0 154.1,56.2 154.9,55.6 155.7,55.2 156.5,55.2 157.3,55.5 158.1,55.8 158.9,56.2 159.7,56.5 160.5,56.8 161.3,56.7 162.1,56.0 162.9,54.6 163.7,52.8 164.5,50.8 165.3,48.9 166.1,47.3 166.9,46.3 167.7,46.1 168.5,48.8 169.3,54.2 170.1,60.8 170.9,67.6 171.7,73.1 172.5,76.2 173.3,75.4 174.1,70.3 174.9,63.3 175.7,56.9 176.5,53.7 177.3,55.4 178.1,60.6 178.9,67.5 179.7,74.5 180.5,80.0 181.3,82.2 182.1,80.8 182.9,76.9 183.7,71.1 184.5,63.8 185.3,55.7 186.1,47.2 186.9,38.9 187.7,31.2 188.5,24.8 189.3,20.1 190.1,17.7 190.9,17.8 191.7,19.5 192.5,22.4 193.3,26.4 194.1,31.3 194.9,36.9 195.7,42.9 196.5,49.2 197.3,55.6 198.1,61.8 198.9,67.8 199.7,73.2 200.5,77.9 201.3,81.6 202.1,84.3 202.9,85.6 203.7,85.5 204.5,84.5 205.3,82.7 206.1,80.1 206.9,77.0 207.7,73.4 208.5,69.4 209.3,65.1 210.1,60.6 210.9,56.0 211.7,51.4 212.5,47.0 213.3,42.8 214.1,38.9 214.9,35.5 215.7,32.5 216.5,30.3 217.3,28.7 218.1,28.0 218.9,28.3 219.7,29.5 220.5,31.5 221.3,34.2 222.1,37.5 222.9,41.3 223.7,45.4 224.5,49.8 225.3,54.3 226.1,58.7 226.9,63.1 227.7,67.2 228.5,70.9 229.3,74.2 230.1,76.8 230.9,78.7 231.7,79.8 232.5,79.9 233.3,79.3 234.1,77.9 234.9,75.9 235.7,73.4 236.5,70.5 237.3,67.2 238.1,63.7 238.9,60.0 239.7,56.2 240.5,52.3 241.3,48.6 242.1,45.1 242.9,41.8 243.7,38.9 244.5,36.4 245.3,34.4 246.1,33.0 246.9,32.4 247.7,32.5 248.5,33.3 249.3,34.9 250.1,37.1 250.9,39.8 251.7,42.9 252.5,46.3 253.3,49.9 254.1,53.7 254.9,57.6 255.7,61.4 256.5,65.1 257.3,68.5 258.1,71.7 258.9,74.4 259.7,76.6 260.5,78.3 261.3,79.3 262.1,79.5 262.9,79.0 263.7,77.9 264.5,76.3 265.3,74.3 266.1,71.8 266.9,69.1 267.7,66.1 268.5,63.0 269.3,59.8 270.1,56.6 270.9,53.4 271.7,50.4 272.5,47.6 273.3,45.0 274.1,42.8 274.9,41.0 275.7,39.8 276.5,39.0 277.3,38.9 278.1,39.4 278.9,40.2 279.7,41.4 280.5,43.0 281.3,44.8 282.1,46.8 282.9,49.0 283.7,51.2 284.5,53.5 285.3,55.8 286.1,58.0 286.9,60.0 287.7,61.9 288.5,63.5 289.3,64.8 290.1,65.8 290.9,66.3 291.7,66.4 292.5,65.9 293.3,64.9 294.1,63.5 294.9,61.8 295.7,59.8 296.5,57.8 297.3,55.7 298.1,53.7 298.9,51.8 299.7,50.2 300.5,48.9 301.3,48.0 302.1,47.6 302.9,47.9 303.7,48.9 304.5,50.5 305.3,52.5 306.1,54.7 306.9,57.0 307.7,59.1 308.5,61.0 309.3,62.5 310.1,63.3 310.9,63.5 311.7,62.9 312.5,61.9 313.3,60.6 314.1,59.0 314.9,57.3 315.7,55.7 316.5,54.1 317.3,52.9 318.1,52.0 318.9,51.6 319.7,51.7 320.5,51.9 321.3,52.2 322.1,52.6 322.9,53.1 323.7,53.7 324.5,54.3 325.3,54.9 326.1,55.5 326.9,56.4 327.7,57.4 328.5,58.6 329.3,59.9 330.1,61.2 330.9,62.5 331.7,63.8 332.5,65.0 333.3,66.1 334.1,66.9 334.9,67.6 335.7,68.0 336.5,68.1 337.3,67.6 338.1,66.7 338.9,65.3 339.7,63.6 340.5,61.6 341.3,59.4 342.1,57.2 342.9,54.9 343.7,52.6 344.5,50.6 345.3,48.7 346.1,47.1 346.9,46.0 347.7,45.3 348.5,45.1 349.3,45.4 350.1,45.9 350.9,46.7 351.7,47.8 352.5,49.0 353.3,50.4 354.1,51.9 354.9,53.6 355.7,55.2 356.5,56.9 357.3,58.6 358.1,60.2 358.9,61.7 359.7,63.0 360.5,64.3 361.3,65.3 362.1,66.1 362.9,66.6 363.7,66.8 364.5,66.6 365.3,66.0 366.1,64.9 366.9,63.6 367.7,62.1 368.5,60.4 369.3,58.6 370.1,56.8 370.9,55.1 371.7,53.6 372.5,52.3 373.3,51.2 374.1,50.6 374.9,50.4 375.7,50.5 376.5,50.6 377.3,50.9 378.1,51.2 378.9,51.6 379.7,52.0 380.5,52.5 381.3,53.0 382.1,53.5 382.9,54.1 383.7,55.0 384.5,56.1 385.3,57.3 386.1,58.6 386.9,60.0 387.7,61.4 388.5,62.7 389.3,63.9 390.1,65.0 390.9,65.9 391.7,66.6 392.5,66.9 393.3,67.0 394.1,66.5 394.9,65.6 395.7,64.3 396.5,62.7 397.3,60.8 398.1,58.9 398.9,56.9 399.7,55.0 400.5,53.1 401.3,51.5 402.1,50.2 402.9,49.2 403.7,48.7 404.5,48.6 405.3,48.5 406.1,48.5 406.9,48.4 407.7,48.4 408.5,48.4 409.3,48.7 410.1,49.4 410.9,50.6 411.7,52.0 412.5,53.7 413.3,55.5 414.1,57.4 414.9,59.2 415.7,61.0 416.5,62.5 417.3,63.8 418.1,64.7 418.9,65.2 419.7,65.1 420.5,64.8 421.3,64.3 422.1,63.5 422.9,62.6 423.7,61.6 424.5,60.4 425.3,59.1 426.1,57.8 426.9,56.4 427.7,55.1 428.5,53.8 429.3,52.6 430.1,51.5 430.9,50.6 431.7,49.8 432.5,49.2 433.3,48.8 434.1,48.7 434.9,49.0 435.7,49.6 436.5,50.4 437.3,51.5 438.1,52.6 438.9,53.8 439.7,54.8 440.5,55.7 441.3,56.4 442.1,57.1 442.9,57.8 443.7,58.5 444.5,59.2 445.3,59.7 446.1,60.3 446.9,60.7 447.7,61.0 448.5,61.1 449.3,61.1 450.1,60.9 450.9,60.7 451.7,60.3 452.5,59.9 453.3,59.4 454.1,58.9 454.9,58.3 455.7,57.7 456.5,57.2 457.3,56.6 458.1,56.0 458.9,55.4 459.7,54.9 460.5,54.5 461.3,54.1 462.1,53.8 462.9,53.6 463.7,53.5 464.5,53.6 465.3,53.8 466.1,54.2 466.9,54.7 467.7,55.2 468.5,55.7 469.3,56.2 470.1,56.6 470.9,56.8 471.7,56.9 472.5,57.1 473.3,57.2 474.1,57.3 474.9,57.6 475.7,58.2 476.5,58.9 477.3,59.7 478.1,60.6 478.9,61.5 479.7,62.4 480.5,63.1 481.3,63.8 482.1,64.2 482.9,64.4 483.7,64.3 484.5,63.9 485.3,63.3 486.1,62.4 486.9,61.5 487.7,60.3 488.5,59.2 489.3,57.9 490.1,56.7 490.9,55.5 491.7,54.4 492.5,53.4 493.3,52.5 494.1,51.9 494.9,51.4 495.7,51.3 496.5,51.3 497.3,51.5 498.1,51.7 498.9,51.9 499.7,52.2 500.5,52.5 501.3,52.9 502.1,53.3 502.9,53.7 503.7,54.1 504.5,54.8 505.3,55.6 506.1,56.4 506.9,57.3 507.7,58.0 508.5,58.7 509.3,59.1 510.1,59.2 510.9,59.0 511.7,58.4 512.5,57.8 513.3,57.2 514.1,56.6 514.9,56.4 515.7,56.5 516.5,56.8 517.3,57.3 518.1,57.9 518.9,58.6 519.7,59.3 520.5,59.9 521.3,60.5 522.1,60.8 522.9,61.0 523.7,60.9 524.5,60.7 525.3,60.4 526.1,60.0 526.9,59.5 527.7,59.0 528.5,58.4 529.3,57.8 530.1,57.1 530.9,56.5 531.7,55.9 532.5,55.4 533.3,55.0 534.1,54.6 534.9,54.3 535.7,54.2 536.5,54.2 537.3,54.4 538.1,54.6 538.9,54.8 539.7,55.1 540.5,55.4 541.3,55.7 542.1,55.9 542.9,56.1 543.7,56.1 544.5,56.1 545.3,56.0 546.1,55.8 546.9,55.7 547.7,55.5 548.5,55.4 549.3,55.3 550.1,55.2 550.9,55.2 551.7,55.3 552.5,55.4 553.3,55.6 554.1,55.9 554.9,56.2 555.7,56.6 556.5,57.0 557.3,57.5 558.1,57.9 558.9,58.4 559.7,58.9 560.5,59.3 561.3,59.8 562.1,60.2 562.9,60.6 563.7,60.9 564.5,61.2 565.3,61.4 566.1,61.5 566.9,61.6 567.7,61.5 568.5,61.2 569.3,60.7 570.1,60.1 570.9,59.4 571.7,58.6 572.5,57.7 573.3,56.9 574.1,56.0 574.9,55.3 575.7,54.6 576.5,54.0 577.3,53.6 578.1,53.4 578.9,53.4 579.7,53.3 580.5,53.3 581.3,53.3 582.1,53.3 582.9,53.2 583.7,53.2 584.5,53.2 585.3,53.2 586.1,53.2 586.9,53.3 587.7,53.7 588.5,54.2 589.3,54.9 590.1,55.6 590.9,56.4 591.7,57.3 592.5,58.1 593.3,58.9 594.1,59.6 594.9,60.2 595.7,60.6 596.5,60.9 597.3,60.9 598.1,60.7 598.9,60.3 599.7,59.7 600.5,59.1 601.3,58.3 602.1,57.6 602.9,56.8 603.7,56.1 604.5,55.4 605.3,54.9 606.1,54.5 606.9,54.4 607.7,54.4 608.5,54.5 609.3,54.7 610.1,55.0 610.9,55.3 611.7,55.6 612.5,56.0 613.3,56.4 614.1,56.9 614.9,57.3 615.7,57.7 616.5,58.1 617.3,58.5 618.1,58.9 618.9,59.2 619.7,59.5 620.5,59.7 621.3,59.8 622.1,59.9 622.9,59.9 623.7,59.8 624.5,59.5 625.3,59.3 626.1,58.9 626.9,58.5 627.7,58.1 628.5,57.6 629.3,57.1 630.1,56.5 630.9,56.0 631.7,55.4 632.5,54.9 633.3,54.4 634.1,53.9 634.9,53.4 635.7,53.0 636.5,52.6 637.3,52.3 638.1,52.1 638.9,51.9 639.7,51.9 640.5,52.0 641.3,52.3 642.1,52.7 642.9,53.2 643.7,53.9 644.5,54.7 645.3,55.5 646.1,56.3 646.9,57.2 647.7,58.1 648.5,58.9 649.3,59.7 650.1,60.5 650.9,61.1 651.7,61.7 652.5,62.1 653.3,62.3 654.1,62.4 654.9,62.3 655.7,61.9 656.5,61.3 657.3,60.6 658.1,59.8 658.9,58.9 659.7,58.0 660.5,57.0 661.3,55.9 662.1,55.0 662.9,54.1 663.7,53.3 664.5,52.6 665.3,52.0 666.1,51.6 666.9,51.5 667.7,51.5 668.5,51.6 669.3,51.7 670.1,51.9 670.9,52.1 671.7,52.4 672.5,52.7 673.3,53.1 674.1,53.5 674.9,54.0 675.7,54.6 676.5,55.3 677.3,56.0 678.1,56.8 678.9,57.6 679.7,58.5 680.5,59.5 681.8,61.3" stroke="#7a2fa8"/>
</g>
<path d="M49.3 4.5 H681.75 V108.5 H49.3" fill="none" stroke="#000" stroke-width="1.35"/>
<g class="tick" text-anchor="end">
<text x="36.9" y="8.30">0.8</text>
<text x="36.9" y="60.40">0.0</text>
<text x="36.9" y="112.50">-0.8</text>
</g>
<g class="tick" text-anchor="middle">
<text x="49.3" y="77.9">0</text>
<text x="206.7" y="77.9">1</text>
<text x="365.5" y="77.9">2</text>
<text x="523.6" y="77.9">3</text>
<text x="681.7" y="77.9">4</text>
</g>
<g class="leg">
<line x1="242.0" y1="19.95" x2="269.2" y2="19.95" stroke="#ff0000" stroke-width="1.4"/>
<text x="271.6" y="23.85" textLength="23.0" lengthAdjust="spacingAndGlyphs">SRC</text>
<line x1="306.9" y1="19.95" x2="334.1" y2="19.95" stroke="#1a1a1a" stroke-width="1.4"/>
<text x="336.9" y="23.85" textLength="23.8" lengthAdjust="spacingAndGlyphs">LRC</text>
<line x1="372.4" y1="19.95" x2="399.6" y2="19.95" stroke="#3cb54a" stroke-width="1.4"/>
<text x="401.5" y="23.85" textLength="17.2" lengthAdjust="spacingAndGlyphs">CC</text>
<line x1="431.2" y1="19.95" x2="458.4" y2="19.95" stroke="#1f7ad6" stroke-width="1.4"/>
<text x="460.8" y="23.85" textLength="8.4" lengthAdjust="spacingAndGlyphs">B</text>
<line x1="480.8" y1="19.95" x2="508.0" y2="19.95" stroke="#ffc000" stroke-width="1.4"/>
<text x="509.6" y="23.85" textLength="27.6" lengthAdjust="spacingAndGlyphs">SLB1</text>
<line x1="550.1" y1="19.95" x2="577.3" y2="19.95" stroke="#ff66e8" stroke-width="1.4"/>
<text x="578.7" y="23.85" textLength="28.0" lengthAdjust="spacingAndGlyphs">SLB2</text>
<line x1="618.4" y1="19.95" x2="645.6" y2="19.95" stroke="#7a2fa8" stroke-width="1.4"/>
<text x="647.3" y="23.85" textLength="28.2" lengthAdjust="spacingAndGlyphs">SLB3</text>
</g>
<text class="ttl" x="354" y="94.7" text-anchor="middle">Time [s]</text>
<text class="ttl" transform="translate(10.6 59.4) rotate(-90)" text-anchor="middle"><tspan font-style="italic">a</tspan> [m/s<tspan font-size="9" dy="-4">2</tspan><tspan dy="4">]</tspan></text>
<g stroke="#8a8a8a" stroke-width="1.15" fill="none">
<line x1="49.3" y1="173.0" x2="49.3" y2="277.0"/>
<line x1="45" y1="225.0" x2="681.75" y2="225.0"/>
<line x1="45" y1="173.0" x2="49.3" y2="173.0"/>
<line x1="45" y1="277.0" x2="49.3" y2="277.0"/>
<line x1="49.3" y1="225.0" x2="49.3" y2="229.0"/>
<line x1="207.4" y1="225.0" x2="207.4" y2="229.0"/>
<line x1="365.5" y1="225.0" x2="365.5" y2="229.0"/>
<line x1="523.6" y1="225.0" x2="523.6" y2="229.0"/>
<line x1="681.7" y1="225.0" x2="681.7" y2="229.0"/>
</g>
<g fill="none" stroke-width="1.5" stroke-linejoin="round" stroke-linecap="round">
<polyline points="49.3,225.0 50.1,225.0 50.9,225.0 51.7,225.0 52.5,225.0 53.3,225.0 54.1,225.0 54.9,225.0 55.7,225.0 56.5,225.0 57.3,225.0 58.1,225.0 58.9,225.0 59.7,225.0 60.5,225.1 61.3,225.4 62.1,225.7 62.9,225.7 63.7,225.1 64.5,224.3 65.3,223.6 66.1,223.7 66.9,224.5 67.7,225.3 68.5,225.4 69.3,225.2 70.1,224.8 70.9,224.5 71.7,224.6 72.5,224.9 73.3,225.4 74.1,225.8 74.9,226.2 75.7,226.3 76.5,226.0 77.3,225.5 78.1,224.8 78.9,224.3 79.7,223.9 80.5,223.8 81.3,224.1 82.1,224.5 82.9,224.9 83.7,225.2 84.5,225.3 85.3,225.2 86.1,225.1 86.9,225.0 87.7,224.9 88.5,224.6 89.3,224.3 90.1,224.1 90.9,224.1 91.7,224.5 92.5,225.1 93.3,225.8 94.1,226.2 94.9,226.2 95.7,225.9 96.5,225.4 97.3,225.0 98.1,224.8 98.9,224.9 99.7,225.1 100.5,225.2 101.3,225.2 102.1,224.9 102.9,224.6 103.7,224.6 104.5,225.1 105.3,225.6 106.1,226.1 106.9,226.2 107.7,225.5 108.5,224.2 109.3,223.2 110.1,223.1 110.9,223.5 111.7,224.1 112.5,224.7 113.3,225.0 114.1,225.3 114.9,225.5 115.7,225.7 116.5,225.8 117.3,225.8 118.1,225.8 118.9,225.7 119.7,225.7 120.5,225.6 121.3,225.4 122.1,225.3 122.9,225.0 123.7,224.6 124.5,224.0 125.3,223.5 126.1,223.1 126.9,223.1 127.7,224.3 128.5,226.1 129.3,227.3 130.1,227.4 130.9,226.9 131.7,226.2 132.5,225.5 133.3,224.9 134.1,224.5 134.9,224.0 135.7,223.6 136.5,223.4 137.3,223.3 138.1,223.7 138.9,224.5 139.7,225.3 140.5,225.9 141.3,225.9 142.1,225.5 142.9,224.9 143.7,224.2 144.5,223.9 145.3,224.0 146.1,224.6 146.9,225.2 147.7,225.4 148.5,224.9 149.3,223.9 150.1,223.2 150.9,223.1 151.7,223.7 152.5,224.4 153.3,225.1 154.1,225.5 154.9,225.5 155.7,225.3 156.5,225.1 157.3,224.8 158.1,224.5 158.9,224.0 159.7,223.2 160.5,222.3 161.3,221.2 162.1,220.0 162.9,218.3 163.7,216.2 164.5,213.8 165.3,211.5 166.1,209.9 166.9,209.2 167.7,211.8 168.5,218.5 169.3,228.0 170.1,238.7 170.9,248.6 171.7,256.1 172.5,259.4 173.3,256.6 174.1,248.8 174.9,238.6 175.7,229.2 176.5,223.7 177.3,225.6 178.1,233.5 178.9,239.1 179.7,238.2 180.5,232.8 181.3,225.2 182.1,216.7 182.9,209.0 183.7,203.5 184.5,201.8 185.3,203.6 186.1,207.9 186.9,213.6 187.7,219.6 188.5,225.1 189.3,228.9 190.1,230.0 190.9,228.5 191.7,225.0 192.5,220.5 193.3,215.8 194.1,212.0 194.9,209.9 195.7,211.1 196.5,216.6 197.3,224.4 198.1,231.9 198.9,236.4 199.7,236.7 200.5,234.6 201.3,231.8 202.1,229.2 202.9,226.6 203.7,223.6 204.5,220.6 205.3,218.0 206.1,216.2 206.9,215.6 207.7,216.0 208.5,217.2 209.3,219.1 210.1,221.4 210.9,223.9 211.7,226.3 212.5,228.4 213.3,230.0 214.1,230.7 214.9,230.3 215.7,228.4 216.5,226.5 217.3,226.2 218.1,226.9 218.9,227.8 219.7,228.5 220.5,228.5 221.3,227.6 222.1,226.0 222.9,223.9 223.7,221.5 224.5,219.1 225.3,217.1 226.1,215.5 226.9,214.7 227.7,214.8 228.5,215.9 229.3,217.8 230.1,220.2 230.9,223.0 231.7,225.9 232.5,228.7 233.3,231.2 234.1,233.1 234.9,234.3 235.7,234.6 236.5,233.9 237.3,232.5 238.1,230.9 238.9,229.3 239.7,228.1 240.5,227.6 241.3,228.0 242.1,228.9 242.9,230.0 243.7,230.9 244.5,231.1 245.3,230.8 246.1,229.9 246.9,228.6 247.7,227.0 248.5,225.2 249.3,223.2 250.1,221.1 250.9,219.0 251.7,217.0 252.5,215.2 253.3,213.6 254.1,212.4 254.9,211.7 255.7,211.5 256.5,212.1 257.3,213.5 258.1,215.6 258.9,218.1 259.7,220.8 260.5,223.5 261.3,226.2 262.1,228.4 262.9,230.1 263.7,231.0 264.5,231.1 265.3,230.6 266.1,229.7 266.9,228.8 267.7,228.0 268.5,227.5 269.3,227.7 270.1,228.4 270.9,229.5 271.7,230.6 272.5,231.6 273.3,232.1 274.1,231.9 274.9,231.1 275.7,229.7 276.5,228.0 277.3,226.1 278.1,224.2 278.9,222.4 279.7,220.8 280.5,219.8 281.3,219.3 282.1,219.5 282.9,220.3 283.7,221.3 284.5,222.3 285.3,222.8 286.1,222.7 286.9,222.1 287.7,221.1 288.5,220.1 289.3,219.3 290.1,219.0 290.9,219.6 291.7,221.1 292.5,223.1 293.3,225.7 294.1,228.4 294.9,231.2 295.7,233.8 296.5,236.1 297.3,237.8 298.1,238.7 298.9,238.8 299.7,238.2 300.5,237.2 301.3,235.9 302.1,234.3 302.9,232.5 303.7,230.7 304.5,228.8 305.3,227.1 306.1,225.4 306.9,223.5 307.7,221.2 308.5,218.7 309.3,216.1 310.1,213.5 310.9,211.0 311.7,208.7 312.5,206.8 313.3,205.4 314.1,204.5 314.9,204.5 315.7,205.5 316.5,207.5 317.3,210.2 318.1,213.5 318.9,217.1 319.7,220.8 320.5,224.3 321.3,227.6 322.1,230.3 322.9,232.2 323.7,233.4 324.5,234.5 325.3,235.5 326.1,236.6 326.9,237.6 327.7,238.5 328.5,239.4 329.3,240.2 330.1,240.8 330.9,241.4 331.7,241.8 332.5,242.1 333.3,242.2 334.1,242.0 334.9,241.2 335.7,239.9 336.5,238.1 337.3,236.0 338.1,233.5 338.9,230.8 339.7,227.9 340.5,224.8 341.3,221.7 342.1,218.6 342.9,215.4 343.7,212.4 344.5,209.6 345.3,206.9 346.1,204.6 346.9,202.6 347.7,201.0 348.5,199.8 349.3,199.2 350.1,199.3 350.9,200.2 351.7,201.8 352.5,204.2 353.3,207.1 354.1,210.5 354.9,214.2 355.7,218.1 356.5,222.3 357.3,226.4 358.1,230.4 358.9,234.3 359.7,237.8 360.5,241.0 361.3,243.6 362.1,245.6 362.9,246.9 363.7,247.4 364.5,247.2 365.3,246.3 366.1,244.8 366.9,242.7 367.7,240.1 368.5,237.3 369.3,234.1 370.1,230.8 370.9,227.5 371.7,224.2 372.5,221.0 373.3,218.0 374.1,215.4 374.9,213.1 375.7,211.4 376.5,210.3 377.3,209.7 378.1,209.6 378.9,210.1 379.7,210.9 380.5,212.1 381.3,213.6 382.1,215.3 382.9,217.3 383.7,219.4 384.5,221.6 385.3,223.9 386.1,226.3 386.9,228.7 387.7,231.0 388.5,233.2 389.3,235.4 390.1,237.4 390.9,239.1 391.7,240.6 392.5,241.9 393.3,242.8 394.1,243.3 394.9,243.3 395.7,242.7 396.5,241.5 397.3,239.8 398.1,237.6 398.9,235.0 399.7,232.1 400.5,228.9 401.3,225.7 402.1,222.4 402.9,219.1 403.7,216.1 404.5,213.2 405.3,210.7 406.1,208.6 406.9,207.1 407.7,206.1 408.5,205.6 409.3,205.6 410.1,206.3 410.9,207.5 411.7,209.4 412.5,211.7 413.3,214.5 414.1,217.6 414.9,221.0 415.7,224.5 416.5,228.1 417.3,231.7 418.1,235.1 418.9,238.4 419.7,241.3 420.5,243.8 421.3,245.9 422.1,247.4 422.9,248.2 423.7,248.3 424.5,247.6 425.3,246.4 426.1,244.8 426.9,242.7 427.7,240.2 428.5,237.6 429.3,234.7 430.1,231.7 430.9,228.7 431.7,225.7 432.5,222.9 433.3,220.2 434.1,217.8 434.9,215.8 435.7,214.2 436.5,213.1 437.3,212.5 438.1,212.5 438.9,212.9 439.7,213.8 440.5,215.0 441.3,216.4 442.1,217.9 442.9,219.4 443.7,220.8 444.5,222.0 445.3,223.1 446.1,224.1 446.9,225.2 447.7,226.2 448.5,227.1 449.3,227.9 450.1,228.4 450.9,228.9 451.7,229.2 452.5,229.3 453.3,229.3 454.1,229.2 454.9,228.9 455.7,228.4 456.5,227.8 457.3,227.0 458.1,226.1 458.9,225.2 459.7,224.2 460.5,223.1 461.3,222.1 462.1,221.2 462.9,220.3 463.7,219.5 464.5,218.9 465.3,218.4 466.1,218.0 466.9,218.0 467.7,218.5 468.5,219.3 469.3,220.6 470.1,222.2 470.9,224.0 471.7,225.9 472.5,228.0 473.3,230.0 474.1,231.9 474.9,233.6 475.7,235.1 476.5,236.3 477.3,237.0 478.1,237.3 478.9,237.0 479.7,236.2 480.5,235.0 481.3,233.5 482.1,231.7 482.9,229.8 483.7,227.7 484.5,225.5 485.3,223.4 486.1,221.3 486.9,219.4 487.7,217.7 488.5,216.3 489.3,215.3 490.1,214.7 490.9,214.4 491.7,214.5 492.5,214.9 493.3,215.6 494.1,216.4 494.9,217.3 495.7,218.4 496.5,219.5 497.3,220.7 498.1,221.8 498.9,223.0 499.7,224.0 500.5,224.9 501.3,225.6 502.1,226.3 502.9,226.8 503.7,227.4 504.5,228.0 505.3,228.6 506.1,229.1 506.9,229.7 507.7,230.2 508.5,230.7 509.3,231.1 510.1,231.5 510.9,231.8 511.7,232.1 512.5,232.3 513.3,232.5 514.1,232.5 514.9,232.3 515.7,231.8 516.5,230.9 517.3,229.9 518.1,228.6 518.9,227.3 519.7,226.0 520.5,224.7 521.3,223.6 522.1,222.6 522.9,221.9 523.7,221.6 524.5,221.5 525.3,221.7 526.1,222.0 526.9,222.4 527.7,222.8 528.5,223.2 529.3,223.6 530.1,223.9 530.9,224.2 531.7,224.3 532.5,224.2 533.3,224.1 534.1,223.8 534.9,223.4 535.7,223.0 536.5,222.6 537.3,222.1 538.1,221.7 538.9,221.2 539.7,220.9 540.5,220.6 541.3,220.5 542.1,220.4 542.9,220.6 543.7,221.0 544.5,221.6 545.3,222.4 546.1,223.3 546.9,224.3 547.7,225.4 548.5,226.4 549.3,227.4 550.1,228.3 550.9,229.1 551.7,229.7 552.5,230.1 553.3,230.3 554.1,230.1 554.9,229.8 555.7,229.1 556.5,228.3 557.3,227.4 558.1,226.4 558.9,225.3 559.7,224.2 560.5,223.2 561.3,222.3 562.1,221.5 562.9,220.9 563.7,220.6 564.5,220.5 565.3,220.8 566.1,221.6 566.9,222.7 567.7,223.9 568.5,225.4 569.3,226.9 570.1,228.3 570.9,229.6 571.7,230.6 572.5,231.3 573.3,231.6 574.1,231.5 574.9,231.2 575.7,230.6 576.5,229.9 577.3,229.1 578.1,228.2 578.9,227.3 579.7,226.4 580.5,225.5 581.3,224.8 582.1,224.1 582.9,223.4 583.7,222.7 584.5,222.0 585.3,221.3 586.1,220.7 586.9,220.1 587.7,219.6 588.5,219.3 589.3,219.1 590.1,219.1 590.9,219.2 591.7,219.4 592.5,219.7 593.3,220.1 594.1,220.6 594.9,221.2 595.7,221.7 596.5,222.3 597.3,223.0 598.1,223.6 598.9,224.2 599.7,224.7 600.5,225.2 601.3,225.7 602.1,226.1 602.9,226.4 603.7,226.7 604.5,227.0 605.3,227.2 606.1,227.5 606.9,227.7 607.7,228.0 608.5,228.2 609.3,228.3 610.1,228.5 610.9,228.6 611.7,228.6 612.5,228.6 613.3,228.4 614.1,227.9 614.9,227.3 615.7,226.6 616.5,225.8 617.3,225.0 618.1,224.3 618.9,223.7 619.7,223.2 620.5,223.0 621.3,223.1 622.1,223.4 622.9,224.0 623.7,224.8 624.5,225.7 625.3,226.6 626.1,227.6 626.9,228.4 627.7,229.2 628.5,229.7 629.3,229.9 630.1,229.9 630.9,229.6 631.7,229.2 632.5,228.6 633.3,227.9 634.1,227.1 634.9,226.3 635.7,225.5 636.5,224.8 637.3,224.1 638.1,223.6 638.9,223.2 639.7,222.9 640.5,222.8 641.3,222.8 642.1,222.9 642.9,223.1 643.7,223.3 644.5,223.5 645.3,223.7 646.1,224.0 646.9,224.2 647.7,224.3 648.5,224.5 649.3,224.5 650.1,224.5 650.9,224.3 651.7,224.0 652.5,223.6 653.3,223.1 654.1,222.6 654.9,222.0 655.7,221.6 656.5,221.2 657.3,220.9 658.1,220.9 658.9,221.0 659.7,221.4 660.5,222.0 661.3,222.7 662.1,223.6 662.9,224.5 663.7,225.5 664.5,226.4 665.3,227.4 666.1,228.2 666.9,228.9 667.7,229.5 668.5,229.8 669.3,230.0 670.1,230.0 670.9,230.0 671.7,230.0 672.5,229.9 673.3,229.9 674.1,229.8 674.9,229.6 675.7,229.5 676.5,229.2 677.3,228.9 678.1,228.6 678.9,228.2 679.7,227.7 680.5,227.2 681.8,226.2" stroke="#ff0000"/>
<polyline points="49.3,225.0 50.1,225.0 50.9,225.0 51.7,225.0 52.5,225.0 53.3,225.0 54.1,225.0 54.9,225.0 55.7,225.0 56.5,225.0 57.3,225.0 58.1,225.0 58.9,225.0 59.7,225.0 60.5,225.2 61.3,225.6 62.1,225.7 62.9,225.4 63.7,224.6 64.5,223.8 65.3,223.6 66.1,224.2 66.9,225.0 67.7,225.4 68.5,225.3 69.3,224.9 70.1,224.6 70.9,224.5 71.7,224.8 72.5,225.2 73.3,225.7 74.1,226.1 74.9,226.3 75.7,226.1 76.5,225.7 77.3,225.1 78.1,224.5 78.9,224.0 79.7,223.8 80.5,224.0 81.3,224.4 82.1,224.8 82.9,225.1 83.7,225.3 84.5,225.3 85.3,225.2 86.1,225.1 86.9,224.9 87.7,224.7 88.5,224.4 89.3,224.1 90.1,224.0 90.9,224.3 91.7,224.9 92.5,225.6 93.3,226.1 94.1,226.3 94.9,226.0 95.7,225.6 96.5,225.2 97.3,224.9 98.1,224.8 98.9,225.0 99.7,225.2 100.5,225.3 101.3,225.1 102.1,224.7 102.9,224.6 103.7,224.9 104.5,225.4 105.3,225.9 106.1,226.2 106.9,225.9 107.7,224.7 108.5,223.5 109.3,223.0 110.1,223.3 110.9,223.9 111.7,224.5 112.5,224.9 113.3,225.2 114.1,225.4 114.9,225.6 115.7,225.7 116.5,225.8 117.3,225.8 118.1,225.8 118.9,225.7 119.7,225.6 120.5,225.5 121.3,225.4 122.1,225.1 122.9,224.7 123.7,224.2 124.5,223.6 125.3,223.2 126.1,223.1 126.9,223.7 127.7,225.4 128.5,226.9 129.3,227.5 130.1,227.1 130.9,226.5 131.7,225.7 132.5,225.1 133.3,224.6 134.1,224.2 134.9,223.7 135.7,223.4 136.5,223.3 137.3,223.5 138.1,224.2 138.9,225.0 139.7,225.7 140.5,225.9 141.3,225.7 142.1,225.1 142.9,224.4 143.7,224.0 144.5,223.9 145.3,224.3 146.1,225.0 146.9,225.4 147.7,225.2 148.5,224.3 149.3,223.4 150.1,223.1 150.9,223.4 151.7,224.1 152.5,224.9 153.3,225.4 154.1,225.5 154.9,225.4 155.7,225.2 156.5,224.9 157.3,224.6 158.1,224.2 158.9,223.5 159.7,222.6 160.5,221.6 161.3,220.4 162.1,218.9 162.9,216.9 163.7,214.5 164.5,212.2 165.3,210.3 166.1,209.2 166.9,210.3 167.7,215.6 168.5,224.4 169.3,235.0 170.1,245.5 170.9,254.2 171.7,259.3 172.5,259.0 173.3,252.7 174.1,242.9 174.9,232.7 175.7,225.2 176.5,223.9 177.3,229.9 178.1,237.2 178.9,239.0 179.7,235.1 180.5,228.1 181.3,219.7 182.1,211.5 182.9,205.0 183.7,201.7 184.5,202.3 185.3,205.8 186.1,211.2 186.9,217.4 187.7,223.3 188.5,227.9 189.3,230.2 190.1,229.7 190.9,226.7 191.7,222.4 192.5,217.6 193.3,213.3 194.1,210.3 194.9,210.1 195.7,214.1 196.5,221.5 197.3,229.5 198.1,235.5 198.9,237.4 199.7,235.9 200.5,233.1 201.3,230.2 202.1,227.5 202.9,224.7 203.7,221.6 204.5,218.8 205.3,216.7 206.1,215.6 206.9,215.6 207.7,216.5 208.5,218.2 209.3,220.4 210.1,222.9 210.9,225.4 211.7,227.7 212.5,229.5 213.3,230.6 214.1,230.6 214.9,229.2 215.7,227.1 216.5,226.2 217.3,226.6 218.1,227.6 218.9,228.3 219.7,228.5 220.5,227.9 221.3,226.4 222.1,224.4 222.9,222.0 223.7,219.6 224.5,217.4 225.3,215.7 226.1,214.7 226.9,214.6 227.7,215.5 228.5,217.2 229.3,219.6 230.1,222.4 230.9,225.3 231.7,228.2 232.5,230.9 233.3,233.0 234.1,234.5 234.9,235.1 235.7,234.7 236.5,233.4 237.3,231.6 238.1,229.8 238.9,228.2 239.7,227.2 240.5,227.2 241.3,227.9 242.1,229.0 242.9,230.0 243.7,230.5 244.5,230.3 245.3,229.7 246.1,228.5 246.9,227.1 247.7,225.4 248.5,223.4 249.3,221.4 250.1,219.4 250.9,217.4 251.7,215.6 252.5,214.1 253.3,212.8 254.1,211.9 254.9,211.6 255.7,211.9 256.5,213.1 257.3,215.0 258.1,217.5 258.9,220.2 259.7,223.1 260.5,225.8 261.3,228.3 262.1,230.2 262.9,231.5 263.7,231.9 264.5,231.5 265.3,230.5 266.1,229.4 266.9,228.2 267.7,227.5 268.5,227.3 269.3,227.7 270.1,228.6 270.9,229.7 271.7,230.7 272.5,231.4 273.3,231.5 274.1,230.9 274.9,229.7 275.7,228.2 276.5,226.4 277.3,224.5 278.1,222.7 278.9,221.1 279.7,219.9 280.5,219.3 281.3,219.3 282.1,220.0 282.9,221.1 283.7,222.2 284.5,223.1 285.3,223.4 286.1,223.2 286.9,222.4 287.7,221.4 288.5,220.4 289.3,219.9 290.1,220.2 290.9,221.3 291.7,223.1 292.5,225.4 293.3,228.0 294.1,230.7 294.9,233.3 295.7,235.6 296.5,237.4 297.3,238.5 298.1,238.9 298.9,238.4 299.7,237.4 300.5,236.1 301.3,234.4 302.1,232.6 302.9,230.6 303.7,228.7 304.5,226.9 305.3,225.1 306.1,223.3 306.9,221.1 307.7,218.8 308.5,216.3 309.3,213.8 310.1,211.3 310.9,209.1 311.7,207.2 312.5,205.7 313.3,204.8 314.1,204.5 314.9,205.2 315.7,207.0 316.5,209.6 317.3,212.8 318.1,216.5 318.9,220.3 319.7,224.0 320.5,227.5 321.3,230.4 322.1,232.5 322.9,233.9 323.7,234.8 324.5,235.7 325.3,236.5 326.1,237.4 326.9,238.2 327.7,238.9 328.5,239.5 329.3,240.1 330.1,240.6 330.9,241.0 331.7,241.2 332.5,241.4 333.3,241.2 334.1,240.6 334.9,239.5 335.7,237.9 336.5,235.9 337.3,233.6 338.1,231.1 338.9,228.3 339.7,225.4 340.5,222.4 341.3,219.3 342.1,216.3 342.9,213.4 343.7,210.6 344.5,208.0 345.3,205.6 346.1,203.6 346.9,201.9 347.7,200.7 348.5,199.9 349.3,199.8 350.1,200.4 350.9,201.9 351.7,204.1 352.5,206.9 353.3,210.3 354.1,214.0 354.9,218.0 355.7,222.1 356.5,226.3 357.3,230.4 358.1,234.4 358.9,238.0 359.7,241.2 360.5,243.9 361.3,245.9 362.1,247.2 362.9,247.7 363.7,247.4 364.5,246.5 365.3,244.8 366.1,242.7 366.9,240.0 367.7,237.1 368.5,233.9 369.3,230.5 370.1,227.1 370.9,223.7 371.7,220.4 372.5,217.4 373.3,214.8 374.1,212.5 374.9,210.8 375.7,209.8 376.5,209.2 377.3,209.2 378.1,209.7 378.9,210.6 379.7,211.8 380.5,213.3 381.3,215.1 382.1,217.1 382.9,219.2 383.7,221.5 384.5,223.8 385.3,226.2 386.1,228.6 386.9,231.0 387.7,233.2 388.5,235.4 389.3,237.4 390.1,239.2 390.9,240.7 391.7,242.0 392.5,242.9 393.3,243.4 394.1,243.4 394.9,242.8 395.7,241.6 396.5,239.8 397.3,237.5 398.1,234.8 398.9,231.8 399.7,228.5 400.5,225.2 401.3,221.8 402.1,218.5 402.9,215.4 403.7,212.5 404.5,210.0 405.3,207.9 406.1,206.4 406.9,205.6 407.7,205.2 408.5,205.5 409.3,206.3 410.1,207.6 410.9,209.5 411.7,211.9 412.5,214.7 413.3,217.8 414.1,221.1 414.9,224.6 415.7,228.1 416.5,231.6 417.3,235.0 418.1,238.3 418.9,241.2 419.7,243.8 420.5,245.9 421.3,247.5 422.1,248.4 422.9,248.7 423.7,248.2 424.5,247.1 425.3,245.5 426.1,243.4 426.9,241.0 427.7,238.2 428.5,235.3 429.3,232.2 430.1,229.1 430.9,226.0 431.7,223.0 432.5,220.3 433.3,217.8 434.1,215.6 434.9,213.9 435.7,212.8 436.5,212.2 437.3,212.1 438.1,212.6 438.9,213.5 439.7,214.8 440.5,216.2 441.3,217.8 442.1,219.4 442.9,220.9 443.7,222.2 444.5,223.3 445.3,224.4 446.1,225.5 446.9,226.6 447.7,227.6 448.5,228.3 449.3,228.8 450.1,229.1 450.9,229.3 451.7,229.4 452.5,229.3 453.3,229.1 454.1,228.7 454.9,228.2 455.7,227.5 456.5,226.7 457.3,225.9 458.1,224.9 458.9,224.0 459.7,223.0 460.5,222.0 461.3,221.1 462.1,220.2 462.9,219.5 463.7,218.8 464.5,218.3 465.3,218.0 466.1,217.9 466.9,218.2 467.7,219.0 468.5,220.3 469.3,221.8 470.1,223.6 470.9,225.6 471.7,227.6 472.5,229.7 473.3,231.7 474.1,233.6 474.9,235.2 475.7,236.4 476.5,237.3 477.3,237.7 478.1,237.5 478.9,236.8 479.7,235.7 480.5,234.1 481.3,232.3 482.1,230.3 482.9,228.1 483.7,225.9 484.5,223.6 485.3,221.4 486.1,219.4 486.9,217.6 487.7,216.2 488.5,215.1 489.3,214.4 490.1,214.2 490.9,214.3 491.7,214.7 492.5,215.3 493.3,216.1 494.1,217.1 494.9,218.2 495.7,219.3 496.5,220.5 497.3,221.7 498.1,222.9 498.9,223.9 499.7,224.9 500.5,225.6 501.3,226.3 502.1,226.8 502.9,227.3 503.7,227.9 504.5,228.4 505.3,229.0 506.1,229.5 506.9,229.9 507.7,230.4 508.5,230.8 509.3,231.2 510.1,231.5 510.9,231.8 511.7,232.0 512.5,232.2 513.3,232.2 514.1,232.1 514.9,231.6 515.7,230.9 516.5,229.9 517.3,228.7 518.1,227.4 518.9,226.1 519.7,224.8 520.5,223.7 521.3,222.7 522.1,222.0 522.9,221.6 523.7,221.5 524.5,221.6 525.3,221.9 526.1,222.3 526.9,222.7 527.7,223.2 528.5,223.6 529.3,224.0 530.1,224.3 530.9,224.4 531.7,224.4 532.5,224.3 533.3,224.0 534.1,223.7 534.9,223.2 535.7,222.8 536.5,222.3 537.3,221.8 538.1,221.3 538.9,220.9 539.7,220.6 540.5,220.4 541.3,220.4 542.1,220.5 542.9,220.9 543.7,221.4 544.5,222.2 545.3,223.1 546.1,224.1 546.9,225.2 547.7,226.2 548.5,227.3 549.3,228.2 550.1,229.0 550.9,229.7 551.7,230.1 552.5,230.3 553.3,230.3 554.1,229.9 554.9,229.3 555.7,228.6 556.5,227.6 557.3,226.6 558.1,225.5 558.9,224.4 559.7,223.4 560.5,222.4 561.3,221.6 562.1,221.0 562.9,220.5 563.7,220.4 564.5,220.7 565.3,221.4 566.1,222.4 566.9,223.7 567.7,225.1 568.5,226.6 569.3,228.1 570.1,229.4 570.9,230.5 571.7,231.3 572.5,231.7 573.3,231.7 574.1,231.4 574.9,230.8 575.7,230.2 576.5,229.3 577.3,228.4 578.1,227.5 578.9,226.6 579.7,225.7 580.5,224.9 581.3,224.2 582.1,223.5 582.9,222.8 583.7,222.1 584.5,221.4 585.3,220.7 586.1,220.1 586.9,219.6 587.7,219.3 588.5,219.0 589.3,219.0 590.1,219.1 590.9,219.3 591.7,219.6 592.5,220.0 593.3,220.5 594.1,221.0 594.9,221.6 595.7,222.2 596.5,222.8 597.3,223.4 598.1,224.0 598.9,224.6 599.7,225.2 600.5,225.6 601.3,226.0 602.1,226.4 602.9,226.7 603.7,226.9 604.5,227.2 605.3,227.5 606.1,227.7 606.9,228.0 607.7,228.2 608.5,228.4 609.3,228.5 610.1,228.6 610.9,228.7 611.7,228.7 612.5,228.5 613.3,228.1 614.1,227.5 614.9,226.8 615.7,226.0 616.5,225.2 617.3,224.4 618.1,223.7 618.9,223.3 619.7,223.0 620.5,223.0 621.3,223.3 622.1,223.9 622.9,224.6 623.7,225.5 624.5,226.5 625.3,227.4 626.1,228.3 626.9,229.1 627.7,229.7 628.5,230.0 629.3,230.0 630.1,229.8 630.9,229.3 631.7,228.7 632.5,228.0 633.3,227.2 634.1,226.4 634.9,225.5 635.7,224.7 636.5,224.0 637.3,223.5 638.1,223.1 638.9,222.8 639.7,222.7 640.5,222.8 641.3,222.9 642.1,223.0 642.9,223.2 643.7,223.4 644.5,223.7 645.3,223.9 646.1,224.1 646.9,224.3 647.7,224.4 648.5,224.5 649.3,224.5 650.1,224.4 650.9,224.1 651.7,223.7 652.5,223.2 653.3,222.6 654.1,222.1 654.9,221.6 655.7,221.2 656.5,220.9 657.3,220.8 658.1,220.9 658.9,221.2 659.7,221.8 660.5,222.5 661.3,223.4 662.1,224.3 662.9,225.3 663.7,226.3 664.5,227.2 665.3,228.1 666.1,228.9 666.9,229.5 667.7,229.9 668.5,230.1 669.3,230.1 670.1,230.1 670.9,230.1 671.7,230.0 672.5,230.0 673.3,229.9 674.1,229.8 674.9,229.6 675.7,229.4 676.5,229.1 677.3,228.8 678.1,228.4 678.9,228.0 679.7,227.4 680.5,226.8 681.8,226.0" stroke="#1a1a1a"/>
<polyline points="49.3,225.0 50.1,225.0 50.9,225.0 51.7,225.0 52.5,225.0 53.3,225.0 54.1,225.0 54.9,225.0 55.7,225.0 56.5,225.0 57.3,225.0 58.1,225.0 58.9,225.0 59.7,225.0 60.5,225.2 61.3,225.6 62.1,225.9 62.9,225.5 63.7,224.6 64.5,223.7 65.3,223.3 66.1,224.0 66.9,225.0 67.7,225.6 68.5,225.4 69.3,224.9 70.1,224.6 70.9,224.5 71.7,224.7 72.5,225.2 73.3,225.7 74.1,226.2 74.9,226.4 75.7,226.3 76.5,225.8 77.3,225.1 78.1,224.4 78.9,223.9 79.7,223.7 80.5,223.8 81.3,224.2 82.1,224.7 82.9,225.2 83.7,225.3 84.5,225.3 85.3,225.2 86.1,225.1 86.9,225.0 87.7,224.7 88.5,224.3 89.3,224.0 90.1,223.9 90.9,224.1 91.7,224.8 92.5,225.6 93.3,226.2 94.1,226.5 94.9,226.2 95.7,225.7 96.5,225.2 97.3,224.8 98.1,224.8 98.9,225.0 99.7,225.2 100.5,225.3 101.3,225.1 102.1,224.6 102.9,224.5 103.7,224.8 104.5,225.4 105.3,226.0 106.1,226.4 106.9,226.1 107.7,224.8 108.5,223.3 109.3,222.8 110.1,223.1 110.9,223.7 111.7,224.4 112.5,224.9 113.3,225.2 114.1,225.5 114.9,225.7 115.7,225.8 116.5,225.9 117.3,225.9 118.1,225.8 118.9,225.8 119.7,225.7 120.5,225.5 121.3,225.4 122.1,225.2 122.9,224.8 123.7,224.2 124.5,223.6 125.3,223.0 126.1,222.8 126.9,223.4 127.7,225.3 128.5,227.2 129.3,227.8 130.1,227.4 130.9,226.7 131.7,225.8 132.5,225.1 133.3,224.6 134.1,224.1 134.9,223.6 135.7,223.3 136.5,223.1 137.3,223.3 138.1,224.0 138.9,225.0 139.7,225.8 140.5,226.1 141.3,225.8 142.1,225.2 142.9,224.4 143.7,223.8 144.5,223.7 145.3,224.2 146.1,224.9 146.9,225.5 147.7,225.3 148.5,224.3 149.3,223.2 150.1,222.8 150.9,223.2 151.7,224.0 152.5,224.9 153.3,225.5 154.1,225.5 154.9,225.4 155.7,225.2 156.5,225.0 157.3,224.6 158.1,224.2 158.9,223.5 159.7,222.5 160.5,221.4 161.3,220.1 162.1,218.6 162.9,216.3 163.7,213.6 164.5,210.8 165.3,208.3 166.1,206.7 166.9,206.5 167.7,211.7 168.5,222.0 169.3,235.2 170.1,249.1 170.9,261.5 171.7,270.1 172.5,272.8 173.3,266.6 174.1,253.8 174.9,238.9 175.7,226.1 176.5,219.9 177.3,223.5 178.1,232.2 178.9,237.9 179.7,235.9 180.5,229.3 181.3,220.2 182.1,210.3 182.9,201.6 183.7,196.0 184.5,195.2 185.3,199.1 186.1,206.1 186.9,214.7 187.7,223.5 188.5,231.1 189.3,235.9 190.1,236.5 190.9,233.3 191.7,227.6 192.5,220.7 193.3,213.9 194.1,208.7 194.9,206.3 195.7,209.5 196.5,218.7 197.3,230.2 198.1,240.4 198.9,245.3 199.7,243.3 200.5,237.6 201.3,231.6 202.1,227.9 202.9,224.6 203.7,221.5 204.5,218.7 205.3,216.2 206.1,214.4 206.9,213.3 207.7,213.1 208.5,214.4 209.3,217.0 210.1,220.5 210.9,224.2 211.7,227.7 212.5,230.3 213.3,231.7 214.1,230.7 214.9,227.9 215.7,225.9 216.5,226.3 217.3,227.2 218.1,228.3 218.9,229.1 219.7,228.9 220.5,227.8 221.3,225.9 222.1,223.6 222.9,221.0 223.7,218.5 224.5,216.3 225.3,214.6 226.1,213.7 226.9,213.8 227.7,214.9 228.5,216.9 229.3,219.5 230.1,222.4 230.9,225.6 231.7,228.7 232.5,231.6 233.3,234.0 234.1,235.8 234.9,236.7 235.7,236.5 236.5,235.1 237.3,232.8 238.1,230.3 238.9,227.9 239.7,226.1 240.5,225.4 241.3,225.9 242.1,227.0 242.9,228.2 243.7,228.9 244.5,228.9 245.3,228.4 246.1,227.4 246.9,226.1 247.7,224.6 248.5,222.8 249.3,221.0 250.1,219.1 250.9,217.3 251.7,215.6 252.5,214.1 253.3,212.9 254.1,212.1 254.9,211.6 255.7,211.8 256.5,213.0 257.3,214.9 258.1,217.4 258.9,220.3 259.7,223.4 260.5,226.4 261.3,229.2 262.1,231.5 262.9,233.2 263.7,234.0 264.5,233.7 265.3,232.4 266.1,230.6 266.9,228.7 267.7,227.1 268.5,226.4 269.3,226.6 270.1,227.3 270.9,228.1 271.7,229.0 272.5,229.7 273.3,230.0 274.1,229.7 274.9,228.8 275.7,227.4 276.5,225.8 277.3,224.1 278.1,222.4 278.9,220.8 279.7,219.6 280.5,218.9 281.3,218.9 282.1,219.6 282.9,220.8 283.7,222.3 284.5,223.7 285.3,224.9 286.1,225.4 286.9,225.1 287.7,224.2 288.5,223.2 289.3,222.4 290.1,222.3 290.9,223.0 291.7,224.5 292.5,226.5 293.3,228.8 294.1,231.2 294.9,233.6 295.7,235.8 296.5,237.5 297.3,238.7 298.1,239.0 298.9,238.5 299.7,237.4 300.5,235.9 301.3,233.9 302.1,231.7 302.9,229.4 303.7,227.2 304.5,225.1 305.3,223.3 306.1,221.4 306.9,219.3 307.7,217.1 308.5,214.8 309.3,212.6 310.1,210.5 310.9,208.6 311.7,207.0 312.5,205.7 313.3,204.9 314.1,204.5 314.9,205.0 315.7,206.8 316.5,209.6 317.3,213.1 318.1,217.1 318.9,221.3 319.7,225.5 320.5,229.3 321.3,232.5 322.1,234.9 322.9,236.1 323.7,236.6 324.5,237.0 325.3,237.4 326.1,237.7 326.9,238.0 327.7,238.3 328.5,238.5 329.3,238.7 330.1,238.9 330.9,239.0 331.7,239.1 332.5,239.1 333.3,239.0 334.1,238.4 334.9,237.4 335.7,236.0 336.5,234.2 337.3,232.2 338.1,229.9 338.9,227.4 339.7,224.8 340.5,222.0 341.3,219.3 342.1,216.6 342.9,213.9 343.7,211.3 344.5,209.0 345.3,206.8 346.1,204.9 346.9,203.4 347.7,202.2 348.5,201.5 349.3,201.2 350.1,201.7 350.9,203.2 351.7,205.5 352.5,208.4 353.3,211.9 354.1,215.8 354.9,220.1 355.7,224.4 356.5,228.8 357.3,233.1 358.1,237.2 358.9,240.8 359.7,244.0 360.5,246.6 361.3,248.3 362.1,249.2 362.9,249.1 363.7,248.2 364.5,246.6 365.3,244.3 366.1,241.5 366.9,238.4 367.7,234.9 368.5,231.2 369.3,227.5 370.1,223.8 370.9,220.2 371.7,216.8 372.5,213.8 373.3,211.2 374.1,209.2 374.9,207.8 375.7,207.1 376.5,207.2 377.3,207.8 378.1,208.7 378.9,210.0 379.7,211.5 380.5,213.4 381.3,215.4 382.1,217.7 382.9,220.0 383.7,222.5 384.5,225.0 385.3,227.5 386.1,230.0 386.9,232.5 387.7,234.8 388.5,236.9 389.3,238.9 390.1,240.6 390.9,242.0 391.7,243.1 392.5,243.9 393.3,244.2 394.1,244.0 394.9,242.9 395.7,241.1 396.5,238.8 397.3,235.9 398.1,232.7 398.9,229.2 399.7,225.5 400.5,221.7 401.3,218.0 402.1,214.5 402.9,211.3 403.7,208.4 404.5,206.1 405.3,204.3 406.1,203.2 406.9,203.0 407.7,203.5 408.5,204.6 409.3,206.3 410.1,208.4 410.9,210.9 411.7,213.8 412.5,216.9 413.3,220.2 414.1,223.7 414.9,227.2 415.7,230.6 416.5,234.0 417.3,237.3 418.1,240.3 418.9,243.1 419.7,245.4 420.5,247.4 421.3,248.9 422.1,249.7 422.9,250.0 423.7,249.5 424.5,248.3 425.3,246.5 426.1,244.2 426.9,241.5 427.7,238.5 428.5,235.2 429.3,231.8 430.1,228.4 430.9,225.0 431.7,221.7 432.5,218.7 433.3,216.0 434.1,213.8 434.9,212.1 435.7,211.0 436.5,210.6 437.3,210.9 438.1,211.8 438.9,213.1 439.7,214.7 440.5,216.6 441.3,218.5 442.1,220.4 442.9,222.1 443.7,223.5 444.5,224.7 445.3,226.0 446.1,227.2 446.9,228.4 447.7,229.4 448.5,230.1 449.3,230.5 450.1,230.4 450.9,230.2 451.7,229.9 452.5,229.4 453.3,228.7 454.1,228.0 454.9,227.2 455.7,226.4 456.5,225.5 457.3,224.5 458.1,223.6 458.9,222.6 459.7,221.7 460.5,220.9 461.3,220.1 462.1,219.3 462.9,218.7 463.7,218.2 464.5,217.8 465.3,217.6 466.1,217.5 466.9,217.9 467.7,218.8 468.5,220.1 469.3,221.8 470.1,223.7 470.9,225.9 471.7,228.1 472.5,230.3 473.3,232.5 474.1,234.5 474.9,236.2 475.7,237.6 476.5,238.5 477.3,239.0 478.1,238.8 478.9,238.0 479.7,236.7 480.5,235.0 481.3,232.9 482.1,230.6 482.9,228.1 483.7,225.5 484.5,223.0 485.3,220.5 486.1,218.3 486.9,216.3 487.7,214.7 488.5,213.6 489.3,213.0 490.1,213.1 490.9,213.4 491.7,214.0 492.5,214.8 493.3,215.9 494.1,217.0 494.9,218.3 495.7,219.6 496.5,220.9 497.3,222.2 498.1,223.4 498.9,224.5 499.7,225.4 500.5,226.2 501.3,226.7 502.1,227.2 502.9,227.6 503.7,228.1 504.5,228.5 505.3,228.9 506.1,229.3 506.9,229.7 507.7,230.1 508.5,230.4 509.3,230.7 510.1,230.9 510.9,231.1 511.7,231.3 512.5,231.4 513.3,231.4 514.1,231.3 514.9,230.8 515.7,230.1 516.5,229.1 517.3,227.9 518.1,226.7 518.9,225.4 519.7,224.2 520.5,223.1 521.3,222.2 522.1,221.6 522.9,221.2 523.7,221.2 524.5,221.4 525.3,221.8 526.1,222.3 526.9,222.8 527.7,223.3 528.5,223.9 529.3,224.3 530.1,224.7 530.9,224.9 531.7,225.0 532.5,224.9 533.3,224.6 534.1,224.1 534.9,223.6 535.7,223.1 536.5,222.5 537.3,221.9 538.1,221.3 538.9,220.8 539.7,220.4 540.5,220.2 541.3,220.1 542.1,220.2 542.9,220.7 543.7,221.3 544.5,222.1 545.3,223.1 546.1,224.2 546.9,225.3 547.7,226.4 548.5,227.5 549.3,228.5 550.1,229.4 550.9,230.1 551.7,230.5 552.5,230.7 553.3,230.6 554.1,230.2 554.9,229.5 555.7,228.7 556.5,227.6 557.3,226.5 558.1,225.4 558.9,224.2 559.7,223.1 560.5,222.1 561.3,221.3 562.1,220.6 562.9,220.2 563.7,220.1 564.5,220.4 565.3,221.2 566.1,222.4 566.9,223.8 567.7,225.3 568.5,226.9 569.3,228.5 570.1,229.9 570.9,231.0 571.7,231.8 572.5,232.2 573.3,232.1 574.1,231.7 574.9,231.1 575.7,230.3 576.5,229.5 577.3,228.5 578.1,227.5 578.9,226.5 579.7,225.6 580.5,224.8 581.3,224.1 582.1,223.4 582.9,222.6 583.7,221.9 584.5,221.1 585.3,220.4 586.1,219.8 586.9,219.3 587.7,218.9 588.5,218.7 589.3,218.6 590.1,218.7 590.9,219.0 591.7,219.3 592.5,219.8 593.3,220.3 594.1,220.9 594.9,221.5 595.7,222.1 596.5,222.8 597.3,223.4 598.1,224.1 598.9,224.7 599.7,225.3 600.5,225.7 601.3,226.2 602.1,226.5 602.9,226.8 603.7,227.1 604.5,227.4 605.3,227.6 606.1,227.9 606.9,228.2 607.7,228.4 608.5,228.6 609.3,228.7 610.1,228.8 610.9,228.9 611.7,228.9 612.5,228.7 613.3,228.2 614.1,227.5 614.9,226.8 615.7,225.9 616.5,225.0 617.3,224.2 618.1,223.5 618.9,223.0 619.7,222.8 620.5,222.8 621.3,223.2 622.1,223.9 622.9,224.7 623.7,225.7 624.5,226.7 625.3,227.7 626.1,228.7 626.9,229.5 627.7,230.0 628.5,230.4 629.3,230.3 630.1,230.0 630.9,229.5 631.7,228.7 632.5,227.9 633.3,226.9 634.1,226.0 634.9,225.0 635.7,224.1 636.5,223.4 637.3,222.8 638.1,222.4 638.9,222.3 639.7,222.3 640.5,222.5 641.3,222.6 642.1,222.9 642.9,223.1 643.7,223.4 644.5,223.6 645.3,223.9 646.1,224.1 646.9,224.3 647.7,224.5 648.5,224.5 649.3,224.5 650.1,224.4 650.9,224.0 651.7,223.5 652.5,223.0 653.3,222.4 654.1,221.9 654.9,221.3 655.7,220.9 656.5,220.6 657.3,220.5 658.1,220.7 658.9,221.1 659.7,221.7 660.5,222.5 661.3,223.4 662.1,224.4 662.9,225.4 663.7,226.5 664.5,227.5 665.3,228.4 666.1,229.2 666.9,229.8 667.7,230.2 668.5,230.4 669.3,230.4 670.1,230.4 670.9,230.4 671.7,230.3 672.5,230.3 673.3,230.2 674.1,230.1 674.9,229.9 675.7,229.7 676.5,229.4 677.3,229.1 678.1,228.7 678.9,228.3 679.7,227.8 680.5,227.2 681.8,226.1" stroke="#3cb54a"/>
<polyline points="49.3,225.0 50.1,225.0 50.9,225.0 51.7,225.0 52.5,225.0 53.3,225.0 54.1,225.0 54.9,225.0 55.7,225.0 56.5,225.0 57.3,225.0 58.1,225.0 58.9,225.0 59.7,225.0 60.5,225.0 61.3,225.3 62.1,225.6 62.9,225.8 63.7,225.4 64.5,224.5 65.3,223.7 66.1,223.5 66.9,224.2 67.7,225.2 68.5,225.5 69.3,225.3 70.1,224.9 70.9,224.6 71.7,224.5 72.5,224.8 73.3,225.3 74.1,225.7 74.9,226.1 75.7,226.3 76.5,226.1 77.3,225.7 78.1,225.0 78.9,224.4 79.7,223.9 80.5,223.8 81.3,224.0 82.1,224.4 82.9,224.8 83.7,225.2 84.5,225.3 85.3,225.3 86.1,225.2 86.9,225.1 87.7,224.9 88.5,224.7 89.3,224.3 90.1,224.1 90.9,224.0 91.7,224.3 92.5,224.9 93.3,225.6 94.1,226.2 94.9,226.3 95.7,226.0 96.5,225.6 97.3,225.1 98.1,224.8 98.9,224.8 99.7,225.0 100.5,225.2 101.3,225.3 102.1,225.0 102.9,224.6 103.7,224.5 104.5,224.9 105.3,225.5 106.1,226.0 106.9,226.3 107.7,225.9 108.5,224.6 109.3,223.3 110.1,223.0 110.9,223.3 111.7,223.9 112.5,224.5 113.3,225.0 114.1,225.2 114.9,225.5 115.7,225.6 116.5,225.8 117.3,225.8 118.1,225.8 118.9,225.8 119.7,225.7 120.5,225.6 121.3,225.5 122.1,225.3 122.9,225.1 123.7,224.7 124.5,224.1 125.3,223.6 126.1,223.1 126.9,223.0 127.7,223.8 128.5,225.6 129.3,227.2 130.1,227.5 130.9,227.1 131.7,226.4 132.5,225.6 133.3,225.0 134.1,224.6 134.9,224.1 135.7,223.7 136.5,223.4 137.3,223.3 138.1,223.5 138.9,224.3 139.7,225.1 140.5,225.8 141.3,226.0 142.1,225.7 142.9,225.0 143.7,224.3 144.5,223.9 145.3,223.8 146.1,224.4 146.9,225.1 147.7,225.5 148.5,225.2 149.3,224.2 150.1,223.2 150.9,223.0 151.7,223.5 152.5,224.2 153.3,225.0 154.1,225.5 154.9,225.5 155.7,225.4 156.5,225.2 157.3,224.9 158.1,224.6 158.9,224.2 159.7,223.5 160.5,222.5 161.3,221.5 162.1,220.3 162.9,218.9 163.7,216.8 164.5,214.4 165.3,212.1 166.1,210.2 166.9,209.3 167.7,210.5 168.5,216.4 169.3,225.4 170.1,235.7 170.9,245.8 171.7,253.8 172.5,258.1 173.3,256.7 174.1,249.7 174.9,240.0 175.7,230.5 176.5,224.1 177.3,224.2 178.1,232.5 178.9,240.3 179.7,239.8 180.5,234.8 181.3,227.3 182.1,218.8 182.9,210.7 183.7,204.6 184.5,202.1 185.3,203.4 186.1,207.2 186.9,212.4 187.7,218.2 188.5,223.6 189.3,227.6 190.1,229.3 190.9,228.2 191.7,225.1 192.5,220.9 193.3,216.4 194.1,212.6 194.9,210.1 195.7,210.3 196.5,215.0 197.3,222.4 198.1,230.0 198.9,235.2 199.7,235.9 200.5,234.5 201.3,232.2 202.1,229.8 202.9,227.4 203.7,224.4 204.5,221.3 205.3,218.4 206.1,216.3 206.9,215.6 207.7,216.0 208.5,217.1 209.3,218.6 210.1,220.4 210.9,222.5 211.7,224.6 212.5,226.7 213.3,228.5 214.1,229.9 214.9,230.8 215.7,231.1 216.5,229.3 217.3,226.7 218.1,225.8 218.9,226.4 219.7,227.4 220.5,228.4 221.3,228.8 222.1,228.3 222.9,227.0 223.7,225.1 224.5,222.9 225.3,220.5 226.1,218.3 226.9,216.4 227.7,215.1 228.5,214.6 229.3,215.2 230.1,216.9 230.9,219.3 231.7,222.2 232.5,225.3 233.3,228.3 234.1,230.9 234.9,232.9 235.7,233.9 236.5,233.9 237.3,233.2 238.1,232.2 238.9,231.2 239.7,230.3 240.5,230.0 241.3,230.5 242.1,231.6 242.9,233.0 243.7,234.4 244.5,235.3 245.3,235.5 246.1,234.9 246.9,233.7 247.7,232.1 248.5,230.0 249.3,227.8 250.1,225.3 250.9,222.8 251.7,220.3 252.5,217.9 253.3,215.8 254.1,214.0 254.9,212.6 255.7,211.8 256.5,211.6 257.3,211.9 258.1,212.5 258.9,213.3 259.7,214.4 260.5,215.6 261.3,217.0 262.1,218.4 262.9,219.8 263.7,221.2 264.5,222.6 265.3,223.8 266.1,224.8 266.9,225.7 267.7,226.5 268.5,227.4 269.3,228.5 270.1,230.1 270.9,232.0 271.7,234.0 272.5,235.8 273.3,237.0 274.1,237.4 274.9,237.0 275.7,236.0 276.5,234.7 277.3,232.9 278.1,231.0 278.9,229.1 279.7,227.1 280.5,225.3 281.3,223.8 282.1,222.7 282.9,222.0 283.7,221.8 284.5,221.7 285.3,221.6 286.1,221.0 286.9,219.4 287.7,217.3 288.5,215.2 289.3,213.3 290.1,212.3 290.9,212.5 291.7,213.8 292.5,216.1 293.3,219.2 294.1,222.6 294.9,226.3 295.7,229.9 296.5,233.1 297.3,235.8 298.1,237.7 298.9,238.5 299.7,238.4 300.5,238.2 301.3,237.8 302.1,237.2 302.9,236.5 303.7,235.7 304.5,234.9 305.3,233.9 306.1,232.9 306.9,231.8 307.7,229.7 308.5,227.0 309.3,223.7 310.1,220.1 310.9,216.4 311.7,212.8 312.5,209.7 313.3,207.1 314.1,205.3 314.9,204.5 315.7,204.8 316.5,205.7 317.3,207.1 318.1,209.0 318.9,211.2 319.7,213.6 320.5,216.2 321.3,218.8 322.1,221.4 322.9,223.8 323.7,226.0 324.5,227.9 325.3,230.0 326.1,232.2 326.9,234.5 327.7,236.8 328.5,239.1 329.3,241.2 330.1,243.2 330.9,245.0 331.7,246.5 332.5,247.7 333.3,248.5 334.1,248.8 334.9,248.5 335.7,247.6 336.5,246.0 337.3,243.8 338.1,241.2 338.9,238.2 339.7,234.9 340.5,231.3 341.3,227.5 342.1,223.6 342.9,219.6 343.7,215.7 344.5,211.9 345.3,208.2 346.1,204.8 346.9,201.7 347.7,199.0 348.5,196.7 349.3,195.0 350.1,193.9 350.9,193.4 351.7,193.8 352.5,195.0 353.3,197.0 354.1,199.7 354.9,203.0 355.7,206.7 356.5,210.8 357.3,215.2 358.1,219.7 358.9,224.3 359.7,228.9 360.5,233.3 361.3,237.5 362.1,241.3 362.9,244.7 363.7,247.6 364.5,249.8 365.3,251.2 366.1,251.8 366.9,251.5 367.7,250.6 368.5,249.2 369.3,247.2 370.1,244.8 370.9,242.1 371.7,239.1 372.5,235.9 373.3,232.5 374.1,229.1 374.9,225.7 375.7,222.4 376.5,219.2 377.3,216.3 378.1,213.6 378.9,211.3 379.7,209.5 380.5,208.2 381.3,207.4 382.1,207.3 382.9,207.9 383.7,209.0 384.5,210.7 385.3,212.8 386.1,215.2 386.9,217.9 387.7,220.8 388.5,223.9 389.3,227.0 390.1,230.1 390.9,233.1 391.7,236.0 392.5,238.7 393.3,241.0 394.1,243.0 394.9,244.5 395.7,245.5 396.5,245.9 397.3,245.7 398.1,244.8 398.9,243.4 399.7,241.5 400.5,239.3 401.3,236.7 402.1,233.8 402.9,230.7 403.7,227.5 404.5,224.2 405.3,220.9 406.1,217.7 406.9,214.6 407.7,211.7 408.5,209.1 409.3,206.9 410.1,205.0 410.9,203.6 411.7,202.7 412.5,202.5 413.3,203.2 414.1,204.9 414.9,207.4 415.7,210.6 416.5,214.4 417.3,218.5 418.1,222.8 418.9,227.2 419.7,231.5 420.5,235.6 421.3,239.3 422.1,242.4 422.9,244.9 423.7,246.4 424.5,247.0 425.3,246.7 426.1,245.9 426.9,244.7 427.7,243.1 428.5,241.1 429.3,238.9 430.1,236.5 430.9,233.9 431.7,231.3 432.5,228.6 433.3,225.9 434.1,223.4 434.9,221.0 435.7,218.9 436.5,217.0 437.3,215.5 438.1,214.3 438.9,213.7 439.7,213.5 440.5,213.6 441.3,213.9 442.1,214.3 442.9,214.8 443.7,215.4 444.5,215.9 445.3,216.5 446.1,217.3 446.9,218.3 447.7,219.4 448.5,220.7 449.3,222.0 450.1,223.4 450.9,224.8 451.7,226.1 452.5,227.2 453.3,228.3 454.1,229.1 454.9,229.7 455.7,230.0 456.5,229.9 457.3,229.6 458.1,229.0 458.9,228.2 459.7,227.2 460.5,226.1 461.3,224.9 462.1,223.7 462.9,222.5 463.7,221.4 464.5,220.4 465.3,219.6 466.1,219.0 466.9,218.6 467.7,218.5 468.5,218.9 469.3,219.7 470.1,220.8 470.9,222.2 471.7,223.8 472.5,225.5 473.3,227.4 474.1,229.2 474.9,230.9 475.7,232.5 476.5,233.9 477.3,235.0 478.1,235.7 478.9,236.0 479.7,235.8 480.5,235.3 481.3,234.4 482.1,233.3 482.9,231.9 483.7,230.3 484.5,228.6 485.3,226.8 486.1,225.0 486.9,223.2 487.7,221.4 488.5,219.8 489.3,218.4 490.1,217.2 490.9,216.3 491.7,215.7 492.5,215.5 493.3,215.6 494.1,215.9 494.9,216.3 495.7,216.9 496.5,217.6 497.3,218.4 498.1,219.2 498.9,220.1 499.7,221.1 500.5,222.0 501.3,222.8 502.1,223.7 502.9,224.4 503.7,225.1 504.5,225.9 505.3,226.8 506.1,227.7 506.9,228.6 507.7,229.6 508.5,230.5 509.3,231.3 510.1,232.1 510.9,232.8 511.7,233.5 512.5,233.9 513.3,234.3 514.1,234.5 514.9,234.4 515.7,234.1 516.5,233.3 517.3,232.3 518.1,231.1 518.9,229.8 519.7,228.4 520.5,226.9 521.3,225.6 522.1,224.3 522.9,223.2 523.7,222.3 524.5,221.7 525.3,221.5 526.1,221.6 526.9,221.6 527.7,221.7 528.5,221.8 529.3,221.8 530.1,221.9 530.9,222.0 531.7,222.0 532.5,222.0 533.3,221.9 534.1,221.9 534.9,221.8 535.7,221.6 536.5,221.5 537.3,221.3 538.1,221.2 538.9,221.0 539.7,220.9 540.5,220.8 541.3,220.6 542.1,220.6 542.9,220.5 543.7,220.5 544.5,220.8 545.3,221.2 546.1,221.9 546.9,222.7 547.7,223.7 548.5,224.7 549.3,225.7 550.1,226.7 550.9,227.7 551.7,228.5 552.5,229.2 553.3,229.8 554.1,230.1 554.9,230.2 555.7,230.0 556.5,229.5 557.3,228.8 558.1,228.0 558.9,227.0 559.7,226.0 560.5,225.0 561.3,223.9 562.1,222.9 562.9,222.1 563.7,221.4 564.5,220.8 565.3,220.5 566.1,220.6 566.9,221.0 567.7,221.9 568.5,223.0 569.3,224.4 570.1,225.8 570.9,227.3 571.7,228.7 572.5,229.9 573.3,230.8 574.1,231.4 574.9,231.5 575.7,231.3 576.5,230.9 577.3,230.3 578.1,229.6 578.9,228.7 579.7,227.8 580.5,226.9 581.3,226.0 582.1,225.2 582.9,224.5 583.7,223.9 584.5,223.3 585.3,222.6 586.1,221.9 586.9,221.2 587.7,220.6 588.5,220.1 589.3,219.6 590.1,219.3 590.9,219.2 591.7,219.2 592.5,219.4 593.3,219.6 594.1,220.0 594.9,220.4 595.7,220.9 596.5,221.4 597.3,222.0 598.1,222.6 598.9,223.2 599.7,223.8 600.5,224.4 601.3,224.9 602.1,225.4 602.9,225.8 603.7,226.2 604.5,226.5 605.3,226.7 606.1,227.0 606.9,227.2 607.7,227.5 608.5,227.7 609.3,228.0 610.1,228.1 610.9,228.3 611.7,228.4 612.5,228.5 613.3,228.6 614.1,228.5 614.9,228.2 615.7,227.7 616.5,227.1 617.3,226.3 618.1,225.5 618.9,224.7 619.7,224.0 620.5,223.5 621.3,223.1 622.1,223.0 622.9,223.1 623.7,223.6 624.5,224.2 625.3,225.0 626.1,226.0 626.9,226.9 627.7,227.8 628.5,228.6 629.3,229.3 630.1,229.7 630.9,229.9 631.7,229.8 632.5,229.5 633.3,229.1 634.1,228.5 634.9,227.9 635.7,227.2 636.5,226.4 637.3,225.7 638.1,225.0 638.9,224.3 639.7,223.8 640.5,223.3 641.3,223.1 642.1,223.0 642.9,223.0 643.7,223.1 644.5,223.2 645.3,223.4 646.1,223.6 646.9,223.9 647.7,224.1 648.5,224.3 649.3,224.4 650.1,224.5 650.9,224.6 651.7,224.5 652.5,224.3 653.3,224.0 654.1,223.5 654.9,223.0 655.7,222.5 656.5,222.0 657.3,221.5 658.1,221.2 658.9,221.0 659.7,220.9 660.5,221.2 661.3,221.6 662.1,222.2 662.9,223.0 663.7,223.9 664.5,224.8 665.3,225.8 666.1,226.7 666.9,227.6 667.7,228.4 668.5,229.1 669.3,229.6 670.1,229.8 670.9,229.9 671.7,229.9 672.5,229.8 673.3,229.8 674.1,229.7 674.9,229.5 675.7,229.4 676.5,229.1 677.3,228.8 678.1,228.5 678.9,228.1 679.7,227.6 680.5,227.0 681.8,226.0" stroke="#1f7ad6"/>
<polyline points="49.3,225.0 50.1,225.0 50.9,225.0 51.7,225.0 52.5,225.0 53.3,225.0 54.1,225.0 54.9,225.0 55.7,225.0 56.5,225.0 57.3,225.0 58.1,225.0 58.9,225.0 59.7,225.0 60.5,225.1 61.3,225.5 62.1,225.8 62.9,225.6 63.7,224.9 64.5,224.0 65.3,223.5 66.1,223.8 66.9,224.8 67.7,225.5 68.5,225.4 69.3,225.1 70.1,224.7 70.9,224.5 71.7,224.6 72.5,225.0 73.3,225.5 74.1,226.0 74.9,226.3 75.7,226.3 76.5,225.9 77.3,225.3 78.1,224.6 78.9,224.1 79.7,223.8 80.5,223.8 81.3,224.2 82.1,224.6 82.9,225.1 83.7,225.3 84.5,225.3 85.3,225.2 86.1,225.1 86.9,225.0 87.7,224.8 88.5,224.5 89.3,224.2 90.1,224.0 90.9,224.1 91.7,224.6 92.5,225.3 93.3,226.0 94.1,226.3 94.9,226.2 95.7,225.8 96.5,225.3 97.3,224.9 98.1,224.8 98.9,224.9 99.7,225.1 100.5,225.3 101.3,225.2 102.1,224.8 102.9,224.5 103.7,224.7 104.5,225.2 105.3,225.8 106.1,226.3 106.9,226.2 107.7,225.2 108.5,223.8 109.3,223.0 110.1,223.1 110.9,223.6 111.7,224.3 112.5,224.8 113.3,225.1 114.1,225.4 114.9,225.6 115.7,225.7 116.5,225.8 117.3,225.8 118.1,225.8 118.9,225.7 119.7,225.7 120.5,225.5 121.3,225.4 122.1,225.3 122.9,224.9 123.7,224.4 124.5,223.8 125.3,223.3 126.1,223.0 126.9,223.2 127.7,224.8 128.5,226.6 129.3,227.6 130.1,227.4 130.9,226.8 131.7,226.0 132.5,225.3 133.3,224.8 134.1,224.3 134.9,223.8 135.7,223.5 136.5,223.3 137.3,223.3 138.1,223.9 138.9,224.7 139.7,225.5 140.5,226.0 141.3,225.9 142.1,225.3 142.9,224.6 143.7,224.0 144.5,223.8 145.3,224.1 146.1,224.8 146.9,225.4 147.7,225.4 148.5,224.6 149.3,223.6 150.1,222.9 150.9,223.2 151.7,223.8 152.5,224.7 153.3,225.3 154.1,225.5 154.9,225.4 155.7,225.3 156.5,225.0 157.3,224.7 158.1,224.4 158.9,223.8 159.7,222.9 160.5,221.9 161.3,220.7 162.1,219.4 162.9,217.5 163.7,215.1 164.5,212.5 165.3,210.3 166.1,208.7 166.9,208.3 167.7,212.2 168.5,220.5 169.3,231.5 170.1,243.2 170.9,253.8 171.7,261.2 172.5,263.8 173.3,259.1 174.1,249.1 174.9,237.3 175.7,227.0 176.5,221.9 177.3,225.4 178.1,234.3 178.9,239.5 179.7,237.2 180.5,231.0 181.3,222.6 182.1,213.7 182.9,205.8 183.7,200.6 184.5,199.7 185.3,202.6 186.1,208.0 186.9,214.7 187.7,221.6 188.5,227.6 189.3,231.4 190.1,232.1 190.9,230.1 191.7,225.8 192.5,220.2 193.3,214.4 194.1,209.5 194.9,207.0 195.7,209.6 196.5,218.3 197.3,229.9 198.1,240.1 198.9,245.3 199.7,243.4 200.5,237.7 201.3,231.7 202.1,228.0 202.9,224.9 203.7,221.9 204.5,219.0 205.3,216.6 206.1,214.9 206.9,214.2 207.7,214.6 208.5,216.1 209.3,218.6 210.1,221.4 210.9,224.2 211.7,226.9 212.5,229.1 213.3,230.5 214.1,230.7 214.9,229.5 215.7,227.6 216.5,226.5 217.3,226.5 218.1,227.3 218.9,228.1 219.7,228.6 220.5,228.3 221.3,227.2 222.1,225.4 222.9,223.3 223.7,220.9 224.5,218.7 225.3,216.7 226.1,215.3 226.9,214.7 227.7,214.9 228.5,216.1 229.3,218.0 230.1,220.5 230.9,223.2 231.7,226.1 232.5,228.9 233.3,231.4 234.1,233.2 234.9,234.4 235.7,234.5 236.5,233.6 237.3,232.2 238.1,230.6 238.9,229.2 239.7,228.1 240.5,227.9 241.3,228.4 242.1,229.5 242.9,230.6 243.7,231.4 244.5,231.6 245.3,231.2 246.1,230.2 246.9,228.9 247.7,227.2 248.5,225.3 249.3,223.2 250.1,221.0 250.9,218.9 251.7,216.9 252.5,215.1 253.3,213.5 254.1,212.4 254.9,211.6 255.7,211.5 256.5,212.2 257.3,213.7 258.1,215.7 258.9,218.1 259.7,220.7 260.5,223.3 261.3,225.8 262.1,227.8 262.9,229.3 263.7,230.1 264.5,230.2 265.3,229.7 266.1,229.0 266.9,228.3 267.7,227.7 268.5,227.5 269.3,227.8 270.1,228.8 270.9,230.0 271.7,231.3 272.5,232.3 273.3,232.8 274.1,232.5 274.9,231.5 275.7,230.1 276.5,228.3 277.3,226.4 278.1,224.5 278.9,222.7 279.7,221.2 280.5,220.1 281.3,219.7 282.1,220.0 282.9,220.7 283.7,221.6 284.5,222.4 285.3,222.7 286.1,222.4 286.9,221.6 287.7,220.4 288.5,219.3 289.3,218.4 290.1,218.2 290.9,219.0 291.7,220.6 292.5,222.9 293.3,225.5 294.1,228.4 294.9,231.3 295.7,234.0 296.5,236.3 297.3,237.9 298.1,238.8 298.9,238.7 299.7,238.1 300.5,237.1 301.3,235.8 302.1,234.2 302.9,232.6 303.7,230.8 304.5,229.1 305.3,227.5 306.1,225.9 306.9,224.0 307.7,221.7 308.5,219.1 309.3,216.4 310.1,213.6 310.9,211.0 311.7,208.7 312.5,206.7 313.3,205.2 314.1,204.4 314.9,204.5 315.7,205.7 316.5,207.7 317.3,210.5 318.1,213.7 318.9,217.2 319.7,220.7 320.5,224.2 321.3,227.3 322.1,229.8 322.9,231.6 323.7,232.8 324.5,234.0 325.3,235.2 326.1,236.3 326.9,237.5 327.7,238.6 328.5,239.6 329.3,240.5 330.1,241.3 330.9,242.0 331.7,242.5 332.5,242.9 333.3,243.0 334.1,242.7 334.9,241.8 335.7,240.4 336.5,238.6 337.3,236.4 338.1,233.8 338.9,231.0 339.7,228.0 340.5,224.9 341.3,221.6 342.1,218.4 342.9,215.2 343.7,212.1 344.5,209.2 345.3,206.5 346.1,204.1 346.9,202.0 347.7,200.4 348.5,199.2 349.3,198.6 350.1,198.7 350.9,199.6 351.7,201.3 352.5,203.7 353.3,206.6 354.1,210.0 354.9,213.7 355.7,217.7 356.5,221.8 357.3,226.0 358.1,230.0 358.9,233.9 359.7,237.5 360.5,240.7 361.3,243.4 362.1,245.4 362.9,246.8 363.7,247.5 364.5,247.4 365.3,246.6 366.1,245.2 366.9,243.2 367.7,240.8 368.5,238.0 369.3,235.0 370.1,231.7 370.9,228.5 371.7,225.2 372.5,222.0 373.3,219.1 374.1,216.4 374.9,214.1 375.7,212.4 376.5,211.1 377.3,210.3 378.1,210.1 378.9,210.3 379.7,211.0 380.5,212.0 381.3,213.3 382.1,214.8 382.9,216.7 383.7,218.7 384.5,220.9 385.3,223.2 386.1,225.6 386.9,228.0 387.7,230.4 388.5,232.7 389.3,234.9 390.1,236.9 390.9,238.8 391.7,240.4 392.5,241.7 393.3,242.7 394.1,243.3 394.9,243.4 395.7,242.9 396.5,241.8 397.3,240.1 398.1,238.0 398.9,235.5 399.7,232.6 400.5,229.6 401.3,226.4 402.1,223.1 402.9,219.9 403.7,216.9 404.5,214.0 405.3,211.5 406.1,209.4 406.9,207.7 407.7,206.5 408.5,205.9 409.3,205.8 410.1,206.2 410.9,207.3 411.7,208.9 412.5,211.1 413.3,213.8 414.1,216.8 414.9,220.1 415.7,223.7 416.5,227.3 417.3,230.9 418.1,234.4 418.9,237.8 419.7,240.8 420.5,243.4 421.3,245.5 422.1,247.1 422.9,247.9 423.7,248.0 424.5,247.4 425.3,246.2 426.1,244.5 426.9,242.4 427.7,240.0 428.5,237.4 429.3,234.6 430.1,231.6 430.9,228.7 431.7,225.8 432.5,223.0 433.3,220.4 434.1,218.1 434.9,216.1 435.7,214.5 436.5,213.4 437.3,212.8 438.1,212.7 438.9,213.2 439.7,214.0 440.5,215.1 441.3,216.4 442.1,217.8 442.9,219.1 443.7,220.4 444.5,221.5 445.3,222.5 446.1,223.5 446.9,224.6 447.7,225.6 448.5,226.5 449.3,227.3 450.1,227.9 450.9,228.5 451.7,228.9 452.5,229.1 453.3,229.3 454.1,229.2 454.9,229.0 455.7,228.6 456.5,228.0 457.3,227.2 458.1,226.3 458.9,225.4 459.7,224.4 460.5,223.3 461.3,222.3 462.1,221.3 462.9,220.4 463.7,219.6 464.5,218.9 465.3,218.4 466.1,218.1 466.9,218.1 467.7,218.6 468.5,219.5 469.3,220.7 470.1,222.3 470.9,224.1 471.7,226.1 472.5,228.1 473.3,230.0 474.1,231.9 474.9,233.6 475.7,235.1 476.5,236.2 477.3,236.9 478.1,237.0 478.9,236.7 479.7,235.9 480.5,234.8 481.3,233.3 482.1,231.5 482.9,229.6 483.7,227.6 484.5,225.5 485.3,223.4 486.1,221.4 486.9,219.5 487.7,217.9 488.5,216.5 489.3,215.5 490.1,214.9 490.9,214.7 491.7,214.7 492.5,215.1 493.3,215.7 494.1,216.5 494.9,217.4 495.7,218.4 496.5,219.5 497.3,220.6 498.1,221.8 498.9,222.8 499.7,223.8 500.5,224.7 501.3,225.5 502.1,226.1 502.9,226.7 503.7,227.3 504.5,227.9 505.3,228.5 506.1,229.1 506.9,229.7 507.7,230.2 508.5,230.8 509.3,231.3 510.1,231.7 510.9,232.1 511.7,232.4 512.5,232.6 513.3,232.8 514.1,232.8 514.9,232.6 515.7,232.0 516.5,231.1 517.3,230.0 518.1,228.7 518.9,227.4 519.7,226.0 520.5,224.7 521.3,223.6 522.1,222.6 522.9,221.9 523.7,221.6 524.5,221.6 525.3,221.7 526.1,222.0 526.9,222.4 527.7,222.7 528.5,223.1 529.3,223.5 530.1,223.8 530.9,224.0 531.7,224.0 532.5,223.9 533.3,223.8 534.1,223.5 534.9,223.2 535.7,222.8 536.5,222.4 537.3,221.9 538.1,221.5 538.9,221.2 539.7,220.8 540.5,220.6 541.3,220.5 542.1,220.5 542.9,220.7 543.7,221.1 544.5,221.7 545.3,222.4 546.1,223.3 546.9,224.3 547.7,225.4 548.5,226.4 549.3,227.4 550.1,228.3 550.9,229.1 551.7,229.7 552.5,230.1 553.3,230.2 554.1,230.1 554.9,229.7 555.7,229.1 556.5,228.3 557.3,227.4 558.1,226.4 558.9,225.3 559.7,224.2 560.5,223.2 561.3,222.3 562.1,221.6 562.9,221.0 563.7,220.6 564.5,220.6 565.3,220.9 566.1,221.6 566.9,222.7 567.7,224.0 568.5,225.4 569.3,226.9 570.1,228.3 570.9,229.5 571.7,230.6 572.5,231.2 573.3,231.5 574.1,231.5 574.9,231.1 575.7,230.6 576.5,229.9 577.3,229.1 578.1,228.2 578.9,227.3 579.7,226.4 580.5,225.5 581.3,224.8 582.1,224.1 582.9,223.4 583.7,222.7 584.5,222.0 585.3,221.4 586.1,220.7 586.9,220.2 587.7,219.7 588.5,219.3 589.3,219.2 590.1,219.1 590.9,219.2 591.7,219.5 592.5,219.8 593.3,220.2 594.1,220.7 594.9,221.2 595.7,221.8 596.5,222.4 597.3,223.0 598.1,223.6 598.9,224.2 599.7,224.7 600.5,225.2 601.3,225.7 602.1,226.1 602.9,226.4 603.7,226.7 604.5,226.9 605.3,227.2 606.1,227.5 606.9,227.7 607.7,227.9 608.5,228.1 609.3,228.3 610.1,228.5 610.9,228.6 611.7,228.6 612.5,228.6 613.3,228.3 614.1,227.9 614.9,227.3 615.7,226.6 616.5,225.8 617.3,225.0 618.1,224.3 618.9,223.7 619.7,223.2 620.5,223.0 621.3,223.1 622.1,223.4 622.9,224.0 623.7,224.8 624.5,225.7 625.3,226.6 626.1,227.5 626.9,228.4 627.7,229.1 628.5,229.6 629.3,229.9 630.1,229.8 630.9,229.6 631.7,229.2 632.5,228.6 633.3,227.9 634.1,227.2 634.9,226.4 635.7,225.6 636.5,224.9 637.3,224.2 638.1,223.7 638.9,223.3 639.7,223.0 640.5,222.9 641.3,222.9 642.1,223.0 642.9,223.1 643.7,223.3 644.5,223.5 645.3,223.8 646.1,224.0 646.9,224.2 647.7,224.3 648.5,224.5 649.3,224.5 650.1,224.5 650.9,224.3 651.7,224.0 652.5,223.6 653.3,223.1 654.1,222.6 654.9,222.1 655.7,221.6 656.5,221.2 657.3,221.0 658.1,220.9 658.9,221.1 659.7,221.4 660.5,222.0 661.3,222.7 662.1,223.6 662.9,224.5 663.7,225.4 664.5,226.4 665.3,227.3 666.1,228.2 666.9,228.9 667.7,229.4 668.5,229.8 669.3,229.9 670.1,230.0 670.9,230.0 671.7,229.9 672.5,229.9 673.3,229.8 674.1,229.7 674.9,229.6 675.7,229.4 676.5,229.1 677.3,228.8 678.1,228.5 678.9,228.1 679.7,227.6 680.5,227.0 681.8,226.0" stroke="#ffc000"/>
<polyline points="49.3,225.0 50.1,225.0 50.9,225.0 51.7,225.0 52.5,225.0 53.3,225.0 54.1,225.0 54.9,225.0 55.7,225.0 56.5,225.0 57.3,225.0 58.1,225.0 58.9,225.0 59.7,225.0 60.5,225.1 61.3,225.4 62.1,225.7 62.9,225.7 63.7,225.1 64.5,224.2 65.3,223.6 66.1,223.7 66.9,224.5 67.7,225.3 68.5,225.4 69.3,225.1 70.1,224.8 70.9,224.5 71.7,224.6 72.5,224.9 73.3,225.4 74.1,225.9 74.9,226.2 75.7,226.3 76.5,226.0 77.3,225.5 78.1,224.8 78.9,224.2 79.7,223.9 80.5,223.8 81.3,224.1 82.1,224.5 82.9,225.0 83.7,225.2 84.5,225.3 85.3,225.2 86.1,225.1 86.9,225.0 87.7,224.8 88.5,224.6 89.3,224.3 90.1,224.0 90.9,224.1 91.7,224.5 92.5,225.1 93.3,225.8 94.1,226.2 94.9,226.2 95.7,225.9 96.5,225.4 97.3,225.0 98.1,224.8 98.9,224.9 99.7,225.1 100.5,225.2 101.3,225.2 102.1,224.9 102.9,224.6 103.7,224.7 104.5,225.1 105.3,225.7 106.1,226.1 106.9,226.2 107.7,225.5 108.5,224.2 109.3,223.2 110.1,223.1 110.9,223.5 111.7,224.1 112.5,224.7 113.3,225.0 114.1,225.3 114.9,225.5 115.7,225.7 116.5,225.8 117.3,225.8 118.1,225.8 118.9,225.7 119.7,225.7 120.5,225.6 121.3,225.4 122.1,225.3 122.9,225.0 123.7,224.5 124.5,224.0 125.3,223.4 126.1,223.1 126.9,223.1 127.7,224.3 128.5,226.1 129.3,227.3 130.1,227.4 130.9,226.9 131.7,226.2 132.5,225.5 133.3,224.9 134.1,224.4 134.9,224.0 135.7,223.6 136.5,223.3 137.3,223.3 138.1,223.8 138.9,224.5 139.7,225.3 140.5,225.9 141.3,225.9 142.1,225.5 142.9,224.8 143.7,224.2 144.5,223.8 145.3,224.0 146.1,224.6 146.9,225.2 147.7,225.4 148.5,224.8 149.3,223.9 150.1,223.1 150.9,223.1 151.7,223.7 152.5,224.5 153.3,225.2 154.1,225.5 154.9,225.5 155.7,225.3 156.5,225.1 157.3,224.8 158.1,224.5 158.9,224.0 159.7,223.2 160.5,222.2 161.3,221.1 162.1,219.8 162.9,218.2 163.7,215.9 164.5,213.5 165.3,211.2 166.1,209.5 166.9,208.9 167.7,211.6 168.5,218.6 169.3,228.5 170.1,239.5 170.9,249.8 171.7,257.5 172.5,260.9 173.3,258.0 174.1,249.8 174.9,239.1 175.7,229.2 176.5,223.4 177.3,225.3 178.1,233.1 178.9,238.8 179.7,237.9 180.5,232.6 181.3,224.9 182.1,216.2 182.9,208.4 183.7,202.8 184.5,201.0 185.3,203.0 186.1,207.5 186.9,213.5 187.7,219.8 188.5,225.6 189.3,229.5 190.1,230.8 190.9,229.4 191.7,225.8 192.5,220.9 193.3,215.8 194.1,211.3 194.9,208.7 195.7,210.1 196.5,216.5 197.3,226.0 198.1,235.0 198.9,240.5 199.7,240.4 200.5,237.0 201.3,232.5 202.1,229.0 202.9,226.0 203.7,223.0 204.5,220.1 205.3,217.5 206.1,215.7 206.9,214.9 207.7,215.2 208.5,216.4 209.3,218.5 210.1,221.1 210.9,223.8 211.7,226.4 212.5,228.6 213.3,230.2 214.1,230.8 214.9,230.0 215.7,228.1 216.5,226.5 217.3,226.3 218.1,227.0 218.9,227.9 219.7,228.5 220.5,228.5 221.3,227.5 222.1,225.9 222.9,223.9 223.7,221.6 224.5,219.3 225.3,217.2 226.1,215.7 226.9,214.8 227.7,214.8 228.5,215.8 229.3,217.5 230.1,219.8 230.9,222.5 231.7,225.3 232.5,228.1 233.3,230.5 234.1,232.5 234.9,233.7 235.7,234.0 236.5,233.4 237.3,232.3 238.1,230.9 238.9,229.5 239.7,228.5 240.5,228.2 241.3,228.7 242.1,229.6 242.9,230.6 243.7,231.5 244.5,231.8 245.3,231.4 246.1,230.6 246.9,229.3 247.7,227.6 248.5,225.7 249.3,223.6 250.1,221.5 250.9,219.3 251.7,217.3 252.5,215.4 253.3,213.8 254.1,212.5 254.9,211.7 255.7,211.4 256.5,211.9 257.3,213.3 258.1,215.2 258.9,217.6 259.7,220.3 260.5,223.0 261.3,225.5 262.1,227.7 262.9,229.3 263.7,230.2 264.5,230.3 265.3,230.0 266.1,229.4 266.9,228.7 267.7,228.1 268.5,227.8 269.3,228.0 270.1,228.7 270.9,229.9 271.7,231.2 272.5,232.2 273.3,232.8 274.1,232.6 274.9,231.7 275.7,230.3 276.5,228.5 277.3,226.6 278.1,224.6 278.9,222.7 279.7,221.1 280.5,220.0 281.3,219.4 282.1,219.6 282.9,220.3 283.7,221.2 284.5,221.9 285.3,222.3 286.1,222.0 286.9,221.3 287.7,220.2 288.5,219.1 289.3,218.3 290.1,218.1 290.9,218.7 291.7,220.2 292.5,222.3 293.3,224.9 294.1,227.8 294.9,230.7 295.7,233.4 296.5,235.8 297.3,237.6 298.1,238.7 298.9,238.8 299.7,238.4 300.5,237.5 301.3,236.3 302.1,234.8 302.9,233.2 303.7,231.5 304.5,229.8 305.3,228.1 306.1,226.4 306.9,224.5 307.7,222.3 308.5,219.7 309.3,217.0 310.1,214.2 310.9,211.5 311.7,209.1 312.5,207.0 313.3,205.4 314.1,204.5 314.9,204.3 315.7,205.2 316.5,207.0 317.3,209.6 318.1,212.7 318.9,216.1 319.7,219.7 320.5,223.2 321.3,226.4 322.1,229.1 322.9,231.1 323.7,232.5 324.5,233.8 325.3,235.1 326.1,236.3 326.9,237.5 327.7,238.6 328.5,239.7 329.3,240.6 330.1,241.4 330.9,242.1 331.7,242.7 332.5,243.0 333.3,243.2 334.1,243.0 334.9,242.2 335.7,240.9 336.5,239.1 337.3,236.9 338.1,234.4 338.9,231.6 339.7,228.6 340.5,225.5 341.3,222.2 342.1,218.9 342.9,215.7 343.7,212.6 344.5,209.6 345.3,206.8 346.1,204.4 346.9,202.2 347.7,200.5 348.5,199.3 349.3,198.6 350.1,198.6 350.9,199.4 351.7,200.9 352.5,203.1 353.3,205.9 354.1,209.2 354.9,212.8 355.7,216.6 356.5,220.6 357.3,224.7 358.1,228.7 358.9,232.6 359.7,236.2 360.5,239.5 361.3,242.3 362.1,244.6 362.9,246.2 363.7,247.1 364.5,247.3 365.3,246.7 366.1,245.5 366.9,243.7 367.7,241.4 368.5,238.8 369.3,235.8 370.1,232.6 370.9,229.4 371.7,226.1 372.5,222.9 373.3,219.8 374.1,217.1 374.9,214.6 375.7,212.7 376.5,211.2 377.3,210.3 378.1,210.0 378.9,210.2 379.7,210.8 380.5,211.9 381.3,213.2 382.1,214.8 382.9,216.6 383.7,218.6 384.5,220.8 385.3,223.0 386.1,225.4 386.9,227.7 387.7,230.0 388.5,232.3 389.3,234.5 390.1,236.5 390.9,238.4 391.7,240.0 392.5,241.3 393.3,242.4 394.1,243.1 394.9,243.3 395.7,243.0 396.5,242.2 397.3,240.8 398.1,238.8 398.9,236.5 399.7,233.8 400.5,230.8 401.3,227.7 402.1,224.5 402.9,221.3 403.7,218.1 404.5,215.2 405.3,212.5 406.1,210.2 406.9,208.3 407.7,206.9 408.5,206.0 409.3,205.6 410.1,205.8 410.9,206.7 411.7,208.2 412.5,210.4 413.3,213.0 414.1,216.1 414.9,219.4 415.7,222.9 416.5,226.6 417.3,230.2 418.1,233.8 418.9,237.1 419.7,240.2 420.5,242.9 421.3,245.1 422.1,246.7 422.9,247.7 423.7,247.8 424.5,247.3 425.3,246.3 426.1,244.7 426.9,242.8 427.7,240.5 428.5,238.0 429.3,235.3 430.1,232.4 430.9,229.6 431.7,226.7 432.5,223.9 433.3,221.3 434.1,218.9 434.9,216.8 435.7,215.1 436.5,213.8 437.3,213.0 438.1,212.8 438.9,213.0 439.7,213.7 440.5,214.7 441.3,215.9 442.1,217.3 442.9,218.7 443.7,220.0 444.5,221.2 445.3,222.3 446.1,223.3 446.9,224.3 447.7,225.3 448.5,226.3 449.3,227.1 450.1,227.8 450.9,228.4 451.7,228.9 452.5,229.3 453.3,229.5 454.1,229.5 454.9,229.3 455.7,229.0 456.5,228.4 457.3,227.7 458.1,226.8 458.9,225.9 459.7,224.8 460.5,223.8 461.3,222.7 462.1,221.7 462.9,220.7 463.7,219.9 464.5,219.1 465.3,218.6 466.1,218.2 466.9,218.1 467.7,218.4 468.5,219.2 469.3,220.3 470.1,221.8 470.9,223.5 471.7,225.4 472.5,227.4 473.3,229.4 474.1,231.2 474.9,233.0 475.7,234.5 476.5,235.7 477.3,236.5 478.1,236.8 478.9,236.6 479.7,236.0 480.5,234.9 481.3,233.6 482.1,231.9 482.9,230.1 483.7,228.1 484.5,226.1 485.3,224.1 486.1,222.1 486.9,220.2 487.7,218.5 488.5,217.1 489.3,216.0 490.1,215.2 490.9,214.8 491.7,214.8 492.5,215.0 493.3,215.6 494.1,216.3 494.9,217.1 495.7,218.1 496.5,219.2 497.3,220.3 498.1,221.5 498.9,222.6 499.7,223.6 500.5,224.6 501.3,225.4 502.1,226.0 502.9,226.6 503.7,227.2 504.5,227.9 505.3,228.5 506.1,229.1 506.9,229.7 507.7,230.2 508.5,230.8 509.3,231.3 510.1,231.7 510.9,232.1 511.7,232.4 512.5,232.7 513.3,232.8 514.1,232.9 514.9,232.7 515.7,232.3 516.5,231.5 517.3,230.4 518.1,229.2 518.9,227.8 519.7,226.5 520.5,225.1 521.3,223.9 522.1,222.9 522.9,222.1 523.7,221.7 524.5,221.6 525.3,221.7 526.1,221.9 526.9,222.3 527.7,222.7 528.5,223.0 529.3,223.4 530.1,223.7 530.9,224.0 531.7,224.1 532.5,224.0 533.3,223.9 534.1,223.6 534.9,223.3 535.7,223.0 536.5,222.6 537.3,222.1 538.1,221.7 538.9,221.3 539.7,221.0 540.5,220.8 541.3,220.6 542.1,220.5 542.9,220.6 543.7,221.0 544.5,221.5 545.3,222.3 546.1,223.1 546.9,224.1 547.7,225.1 548.5,226.1 549.3,227.1 550.1,228.0 550.9,228.8 551.7,229.5 552.5,229.9 553.3,230.2 554.1,230.1 554.9,229.8 555.7,229.2 556.5,228.5 557.3,227.6 558.1,226.6 558.9,225.6 559.7,224.5 560.5,223.5 561.3,222.6 562.1,221.8 562.9,221.1 563.7,220.7 564.5,220.6 565.3,220.8 566.1,221.4 566.9,222.4 567.7,223.6 568.5,225.0 569.3,226.5 570.1,227.9 570.9,229.2 571.7,230.3 572.5,231.1 573.3,231.4 574.1,231.4 574.9,231.2 575.7,230.7 576.5,230.0 577.3,229.2 578.1,228.4 578.9,227.5 579.7,226.6 580.5,225.7 581.3,224.9 582.1,224.3 582.9,223.6 583.7,223.0 584.5,222.3 585.3,221.6 586.1,220.9 586.9,220.3 587.7,219.9 588.5,219.5 589.3,219.3 590.1,219.2 590.9,219.3 591.7,219.5 592.5,219.8 593.3,220.1 594.1,220.6 594.9,221.1 595.7,221.7 596.5,222.2 597.3,222.8 598.1,223.4 598.9,224.0 599.7,224.6 600.5,225.1 601.3,225.6 602.1,226.0 602.9,226.3 603.7,226.6 604.5,226.8 605.3,227.1 606.1,227.4 606.9,227.6 607.7,227.8 608.5,228.0 609.3,228.2 610.1,228.4 610.9,228.5 611.7,228.6 612.5,228.5 613.3,228.4 614.1,228.0 614.9,227.4 615.7,226.7 616.5,226.0 617.3,225.2 618.1,224.5 618.9,223.8 619.7,223.3 620.5,223.1 621.3,223.0 622.1,223.3 622.9,223.9 623.7,224.6 624.5,225.4 625.3,226.4 626.1,227.3 626.9,228.2 627.7,228.9 628.5,229.5 629.3,229.8 630.1,229.8 630.9,229.6 631.7,229.3 632.5,228.7 633.3,228.1 634.1,227.4 634.9,226.7 635.7,225.9 636.5,225.2 637.3,224.5 638.1,223.9 638.9,223.5 639.7,223.1 640.5,223.0 641.3,222.9 642.1,223.0 642.9,223.1 643.7,223.3 644.5,223.5 645.3,223.7 646.1,223.9 646.9,224.1 647.7,224.3 648.5,224.5 649.3,224.5 650.1,224.6 650.9,224.4 651.7,224.1 652.5,223.8 653.3,223.3 654.1,222.8 654.9,222.2 655.7,221.8 656.5,221.4 657.3,221.1 658.1,221.0 658.9,221.0 659.7,221.3 660.5,221.9 661.3,222.5 662.1,223.4 662.9,224.3 663.7,225.2 664.5,226.2 665.3,227.1 666.1,227.9 666.9,228.7 667.7,229.3 668.5,229.7 669.3,229.9 670.1,229.9 670.9,229.9 671.7,229.9 672.5,229.8 673.3,229.8 674.1,229.7 674.9,229.5 675.7,229.4 676.5,229.1 677.3,228.9 678.1,228.5 678.9,228.1 679.7,227.7 680.5,227.1 681.8,226.1" stroke="#ff66e8"/>
<polyline points="49.3,225.0 50.1,225.0 50.9,225.0 51.7,225.0 52.5,225.0 53.3,225.0 54.1,225.0 54.9,225.0 55.7,225.0 56.5,225.0 57.3,225.0 58.1,225.0 58.9,225.0 59.7,225.0 60.5,225.1 61.3,225.4 62.1,225.7 62.9,225.7 63.7,225.0 64.5,224.1 65.3,223.5 66.1,223.8 66.9,224.7 67.7,225.4 68.5,225.4 69.3,225.1 70.1,224.7 70.9,224.5 71.7,224.6 72.5,225.0 73.3,225.5 74.1,225.9 74.9,226.2 75.7,226.3 76.5,225.9 77.3,225.4 78.1,224.7 78.9,224.2 79.7,223.8 80.5,223.9 81.3,224.2 82.1,224.6 82.9,225.0 83.7,225.3 84.5,225.3 85.3,225.2 86.1,225.1 86.9,225.0 87.7,224.8 88.5,224.5 89.3,224.2 90.1,224.0 90.9,224.1 91.7,224.5 92.5,225.2 93.3,225.9 94.1,226.3 94.9,226.2 95.7,225.8 96.5,225.3 97.3,224.9 98.1,224.8 98.9,224.9 99.7,225.1 100.5,225.3 101.3,225.3 102.1,224.8 102.9,224.5 103.7,224.7 104.5,225.1 105.3,225.7 106.1,226.2 106.9,226.3 107.7,225.3 108.5,224.0 109.3,223.0 110.1,223.1 110.9,223.6 111.7,224.2 112.5,224.8 113.3,225.1 114.1,225.3 114.9,225.5 115.7,225.7 116.5,225.8 117.3,225.8 118.1,225.8 118.9,225.7 119.7,225.6 120.5,225.5 121.3,225.4 122.1,225.3 122.9,225.0 123.7,224.5 124.5,223.9 125.3,223.4 126.1,223.1 126.9,223.1 127.7,224.5 128.5,226.4 129.3,227.5 130.1,227.3 130.9,226.8 131.7,226.0 132.5,225.3 133.3,224.8 134.1,224.4 134.9,223.9 135.7,223.6 136.5,223.3 137.3,223.3 138.1,223.8 138.9,224.6 139.7,225.5 140.5,226.0 141.3,225.9 142.1,225.4 142.9,224.7 143.7,224.1 144.5,223.8 145.3,224.0 146.1,224.7 146.9,225.3 147.7,225.5 148.5,224.8 149.3,223.7 150.1,223.0 150.9,223.2 151.7,223.8 152.5,224.6 153.3,225.3 154.1,225.5 154.9,225.4 155.7,225.3 156.5,225.1 157.3,224.8 158.1,224.5 158.9,223.9 159.7,223.1 160.5,222.1 161.3,221.0 162.1,219.8 162.9,218.2 163.7,215.9 164.5,213.6 165.3,211.5 166.1,210.0 166.9,209.5 167.7,212.8 168.5,220.1 169.3,229.7 170.1,240.0 170.9,249.2 171.7,255.6 172.5,257.6 173.3,253.6 174.1,245.2 174.9,235.5 175.7,227.1 176.5,223.1 177.3,227.2 178.1,236.4 178.9,240.6 179.7,237.8 180.5,231.6 181.3,223.7 182.1,215.3 182.9,208.1 183.7,203.4 184.5,202.7 185.3,205.2 186.1,209.6 186.9,215.1 187.7,220.8 188.5,225.6 189.3,228.6 190.1,229.0 190.9,227.0 191.7,223.4 192.5,219.0 193.3,214.8 194.1,211.5 194.9,210.0 195.7,212.1 196.5,218.2 197.3,225.8 198.1,232.6 198.9,235.9 199.7,235.3 200.5,233.4 201.3,231.0 202.1,228.7 202.9,226.2 203.7,223.1 204.5,220.0 205.3,217.5 206.1,216.0 206.9,215.9 207.7,216.7 208.5,218.2 209.3,220.1 210.1,222.3 210.9,224.5 211.7,226.7 212.5,228.6 213.3,230.1 214.1,230.9 214.9,230.6 215.7,228.2 216.5,226.0 217.3,226.0 218.1,226.7 218.9,227.8 219.7,228.5 220.5,228.6 221.3,227.8 222.1,226.3 222.9,224.3 223.7,222.0 224.5,219.7 225.3,217.7 226.1,216.0 226.9,215.0 227.7,214.9 228.5,215.7 229.3,217.4 230.1,219.6 230.9,222.2 231.7,224.9 232.5,227.6 233.3,229.9 234.1,231.7 234.9,232.8 235.7,233.0 236.5,232.5 237.3,231.6 238.1,230.6 238.9,229.7 239.7,229.2 240.5,229.3 241.3,230.0 242.1,231.0 242.9,232.1 243.7,232.8 244.5,233.0 245.3,232.5 246.1,231.5 246.9,230.1 247.7,228.3 248.5,226.2 249.3,224.0 250.1,221.7 250.9,219.4 251.7,217.2 252.5,215.2 253.3,213.5 254.1,212.3 254.9,211.4 255.7,211.2 256.5,211.8 257.3,213.1 258.1,215.1 258.9,217.4 259.7,219.9 260.5,222.5 261.3,224.9 262.1,226.9 262.9,228.3 263.7,229.0 264.5,229.0 265.3,228.9 266.1,228.7 266.9,228.5 267.7,228.4 268.5,228.3 269.3,228.6 270.1,229.7 270.9,231.1 271.7,232.5 272.5,233.6 273.3,234.0 274.1,233.6 274.9,232.5 275.7,230.9 276.5,229.0 277.3,226.9 278.1,224.8 278.9,222.8 279.7,221.1 280.5,220.0 281.3,219.5 282.1,219.7 282.9,220.4 283.7,221.1 284.5,221.5 285.3,221.3 286.1,220.5 286.9,219.4 287.7,218.2 288.5,217.1 289.3,216.4 290.1,216.4 290.9,217.3 291.7,219.1 292.5,221.5 293.3,224.4 294.1,227.5 294.9,230.6 295.7,233.5 296.5,236.0 297.3,237.8 298.1,238.9 298.9,238.9 299.7,238.6 300.5,237.8 301.3,236.8 302.1,235.5 302.9,234.1 303.7,232.6 304.5,231.0 305.3,229.4 306.1,227.8 306.9,225.9 307.7,223.5 308.5,220.7 309.3,217.7 310.1,214.7 310.9,211.8 311.7,209.1 312.5,206.9 313.3,205.2 314.1,204.2 314.9,204.1 315.7,205.0 316.5,206.7 317.3,209.2 318.1,212.1 318.9,215.3 319.7,218.7 320.5,222.0 321.3,225.1 322.1,227.8 322.9,229.8 323.7,231.4 324.5,233.0 325.3,234.6 326.1,236.2 326.9,237.7 327.7,239.1 328.5,240.5 329.3,241.6 330.1,242.7 330.9,243.5 331.7,244.2 332.5,244.6 333.3,244.8 334.1,244.5 334.9,243.7 335.7,242.2 336.5,240.3 337.3,238.0 338.1,235.2 338.9,232.3 339.7,229.0 340.5,225.7 341.3,222.2 342.1,218.7 342.9,215.3 343.7,211.9 344.5,208.8 345.3,205.9 346.1,203.3 346.9,201.1 347.7,199.4 348.5,198.1 349.3,197.5 350.1,197.5 350.9,198.3 351.7,199.8 352.5,202.0 353.3,204.7 354.1,207.8 354.9,211.3 355.7,215.1 356.5,219.0 357.3,223.0 358.1,227.0 358.9,230.9 359.7,234.6 360.5,238.0 361.3,241.0 362.1,243.6 362.9,245.6 363.7,247.0 364.5,247.6 365.3,247.4 366.1,246.5 366.9,245.0 367.7,243.0 368.5,240.6 369.3,237.8 370.1,234.8 370.9,231.6 371.7,228.3 372.5,225.1 373.3,222.0 374.1,219.0 374.9,216.4 375.7,214.1 376.5,212.3 377.3,211.0 378.1,210.4 378.9,210.4 379.7,210.8 380.5,211.7 381.3,212.8 382.1,214.3 382.9,216.0 383.7,217.9 384.5,220.0 385.3,222.2 386.1,224.5 386.9,226.8 387.7,229.1 388.5,231.4 389.3,233.6 390.1,235.7 390.9,237.7 391.7,239.4 392.5,240.9 393.3,242.1 394.1,243.0 394.9,243.5 395.7,243.6 396.5,243.1 397.3,242.0 398.1,240.3 398.9,238.2 399.7,235.8 400.5,233.0 401.3,230.0 402.1,226.9 402.9,223.7 403.7,220.5 404.5,217.4 405.3,214.5 406.1,211.9 406.9,209.5 407.7,207.6 408.5,206.2 409.3,205.3 410.1,205.0 410.9,205.5 411.7,206.9 412.5,208.9 413.3,211.4 414.1,214.5 414.9,217.8 415.7,221.5 416.5,225.2 417.3,229.0 418.1,232.7 418.9,236.2 419.7,239.4 420.5,242.2 421.3,244.5 422.1,246.2 422.9,247.1 423.7,247.3 424.5,246.8 425.3,245.8 426.1,244.4 426.9,242.6 427.7,240.5 428.5,238.1 429.3,235.6 430.1,232.9 430.9,230.2 431.7,227.4 432.5,224.7 433.3,222.2 434.1,219.8 434.9,217.7 435.7,215.9 436.5,214.5 437.3,213.5 438.1,213.0 438.9,213.1 439.7,213.6 440.5,214.4 441.3,215.5 442.1,216.7 442.9,218.0 443.7,219.3 444.5,220.4 445.3,221.3 446.1,222.3 446.9,223.2 447.7,224.2 448.5,225.3 449.3,226.2 450.1,227.2 450.9,228.0 451.7,228.7 452.5,229.3 453.3,229.7 454.1,230.0 454.9,230.0 455.7,229.7 456.5,229.2 457.3,228.5 458.1,227.6 458.9,226.6 459.7,225.5 460.5,224.4 461.3,223.2 462.1,222.1 462.9,221.1 463.7,220.2 464.5,219.4 465.3,218.7 466.1,218.3 466.9,218.2 467.7,218.5 468.5,219.2 469.3,220.3 470.1,221.7 470.9,223.4 471.7,225.2 472.5,227.1 473.3,229.0 474.1,230.8 474.9,232.5 475.7,233.9 476.5,235.1 477.3,235.9 478.1,236.2 478.9,236.0 479.7,235.5 480.5,234.5 481.3,233.3 482.1,231.8 482.9,230.1 483.7,228.3 484.5,226.4 485.3,224.5 486.1,222.6 486.9,220.9 487.7,219.2 488.5,217.7 489.3,216.5 490.1,215.7 490.9,215.1 491.7,215.0 492.5,215.2 493.3,215.6 494.1,216.3 494.9,217.1 495.7,218.0 496.5,219.0 497.3,220.1 498.1,221.2 498.9,222.3 499.7,223.4 500.5,224.3 501.3,225.2 502.1,225.9 502.9,226.5 503.7,227.2 504.5,227.8 505.3,228.5 506.1,229.2 506.9,229.8 507.7,230.5 508.5,231.0 509.3,231.6 510.1,232.1 510.9,232.5 511.7,232.9 512.5,233.1 513.3,233.3 514.1,233.4 514.9,233.3 515.7,232.8 516.5,231.9 517.3,230.8 518.1,229.5 518.9,228.1 519.7,226.7 520.5,225.3 521.3,224.0 522.1,223.0 522.9,222.2 523.7,221.7 524.5,221.6 525.3,221.7 526.1,221.9 526.9,222.2 527.7,222.6 528.5,222.9 529.3,223.2 530.1,223.5 530.9,223.7 531.7,223.8 532.5,223.8 533.3,223.6 534.1,223.4 534.9,223.1 535.7,222.8 536.5,222.5 537.3,222.1 538.1,221.7 538.9,221.4 539.7,221.1 540.5,220.8 541.3,220.7 542.1,220.6 542.9,220.7 543.7,221.0 544.5,221.5 545.3,222.3 546.1,223.1 546.9,224.0 547.7,225.0 548.5,226.0 549.3,227.0 550.1,227.9 550.9,228.7 551.7,229.4 552.5,229.8 553.3,230.1 554.1,230.0 554.9,229.7 555.7,229.2 556.5,228.5 557.3,227.6 558.1,226.6 558.9,225.6 559.7,224.6 560.5,223.6 561.3,222.7 562.1,221.8 562.9,221.2 563.7,220.8 564.5,220.6 565.3,220.8 566.1,221.4 566.9,222.4 567.7,223.6 568.5,224.9 569.3,226.4 570.1,227.8 570.9,229.1 571.7,230.2 572.5,231.0 573.3,231.4 574.1,231.3 574.9,231.1 575.7,230.6 576.5,229.9 577.3,229.2 578.1,228.3 578.9,227.4 579.7,226.6 580.5,225.7 581.3,225.0 582.1,224.3 582.9,223.7 583.7,223.0 584.5,222.4 585.3,221.7 586.1,221.1 586.9,220.5 587.7,220.0 588.5,219.6 589.3,219.4 590.1,219.3 590.9,219.4 591.7,219.6 592.5,219.9 593.3,220.2 594.1,220.7 594.9,221.2 595.7,221.7 596.5,222.3 597.3,222.9 598.1,223.5 598.9,224.0 599.7,224.6 600.5,225.1 601.3,225.6 602.1,226.0 602.9,226.3 603.7,226.5 604.5,226.8 605.3,227.0 606.1,227.3 606.9,227.5 607.7,227.8 608.5,228.0 609.3,228.1 610.1,228.3 610.9,228.4 611.7,228.5 612.5,228.5 613.3,228.4 614.1,228.0 614.9,227.4 615.7,226.7 616.5,226.0 617.3,225.2 618.1,224.5 618.9,223.8 619.7,223.3 620.5,223.1 621.3,223.0 622.1,223.3 622.9,223.8 623.7,224.5 624.5,225.4 625.3,226.3 626.1,227.2 626.9,228.1 627.7,228.8 628.5,229.4 629.3,229.7 630.1,229.8 630.9,229.6 631.7,229.3 632.5,228.8 633.3,228.2 634.1,227.6 634.9,226.9 635.7,226.1 636.5,225.4 637.3,224.7 638.1,224.1 638.9,223.6 639.7,223.3 640.5,223.0 641.3,223.0 642.1,223.1 642.9,223.2 643.7,223.3 644.5,223.5 645.3,223.7 646.1,224.0 646.9,224.2 647.7,224.3 648.5,224.5 649.3,224.6 650.1,224.6 650.9,224.5 651.7,224.2 652.5,223.8 653.3,223.3 654.1,222.8 654.9,222.3 655.7,221.8 656.5,221.4 657.3,221.1 658.1,221.0 658.9,221.1 659.7,221.4 660.5,221.9 661.3,222.6 662.1,223.4 662.9,224.2 663.7,225.2 664.5,226.1 665.3,227.0 666.1,227.9 666.9,228.6 667.7,229.2 668.5,229.6 669.3,229.8 670.1,229.8 670.9,229.8 671.7,229.8 672.5,229.7 673.3,229.6 674.1,229.5 674.9,229.4 675.7,229.2 676.5,229.0 677.3,228.7 678.1,228.4 678.9,228.0 679.7,227.5 680.5,227.0 681.8,226.0" stroke="#7a2fa8"/>
</g>
<path d="M49.3 173.0 H681.75 V277.0 H49.3" fill="none" stroke="#000" stroke-width="1.35"/>
<g class="tick" text-anchor="end">
<text x="36.9" y="176.60">0.5</text>
<text x="36.9" y="228.70">0.0</text>
<text x="36.9" y="280.80">-0.5</text>
</g>
<g class="tick" text-anchor="middle">
<text x="49.3" y="246.6">0</text>
<text x="206.7" y="246.6">1</text>
<text x="365.5" y="246.6">2</text>
<text x="523.6" y="246.6">3</text>
<text x="681.7" y="246.6">4</text>
</g>
<g class="leg">
<line x1="242.0" y1="188.5" x2="269.2" y2="188.5" stroke="#ff0000" stroke-width="1.4"/>
<text x="271.6" y="192.40" textLength="23.0" lengthAdjust="spacingAndGlyphs">SRC</text>
<line x1="306.9" y1="188.5" x2="334.1" y2="188.5" stroke="#1a1a1a" stroke-width="1.4"/>
<text x="336.9" y="192.40" textLength="23.8" lengthAdjust="spacingAndGlyphs">LRC</text>
<line x1="372.4" y1="188.5" x2="399.6" y2="188.5" stroke="#3cb54a" stroke-width="1.4"/>
<text x="401.5" y="192.40" textLength="17.2" lengthAdjust="spacingAndGlyphs">CC</text>
<line x1="431.2" y1="188.5" x2="458.4" y2="188.5" stroke="#1f7ad6" stroke-width="1.4"/>
<text x="460.8" y="192.40" textLength="8.4" lengthAdjust="spacingAndGlyphs">B</text>
<line x1="480.8" y1="188.5" x2="508.0" y2="188.5" stroke="#ffc000" stroke-width="1.4"/>
<text x="509.6" y="192.40" textLength="27.6" lengthAdjust="spacingAndGlyphs">SLB1</text>
<line x1="550.1" y1="188.5" x2="577.3" y2="188.5" stroke="#ff66e8" stroke-width="1.4"/>
<text x="578.7" y="192.40" textLength="28.0" lengthAdjust="spacingAndGlyphs">SLB2</text>
<line x1="618.4" y1="188.5" x2="645.6" y2="188.5" stroke="#7a2fa8" stroke-width="1.4"/>
<text x="647.3" y="192.40" textLength="28.2" lengthAdjust="spacingAndGlyphs">SLB3</text>
</g>
<text class="ttl" x="354" y="263.4" text-anchor="middle">Time [s]</text>
<text class="ttl" transform="translate(10.6 228.1) rotate(-90)" text-anchor="middle"><tspan font-style="italic">a</tspan> [m/s<tspan font-size="9" dy="-4">2</tspan><tspan dy="4">]</tspan></text>
<text class="cap" x="344.4" y="146.8" text-anchor="middle">(a)</text>
<text class="cap" x="344.4" y="315.0" text-anchor="middle">(b)</text>
</svg>
</body></html>
